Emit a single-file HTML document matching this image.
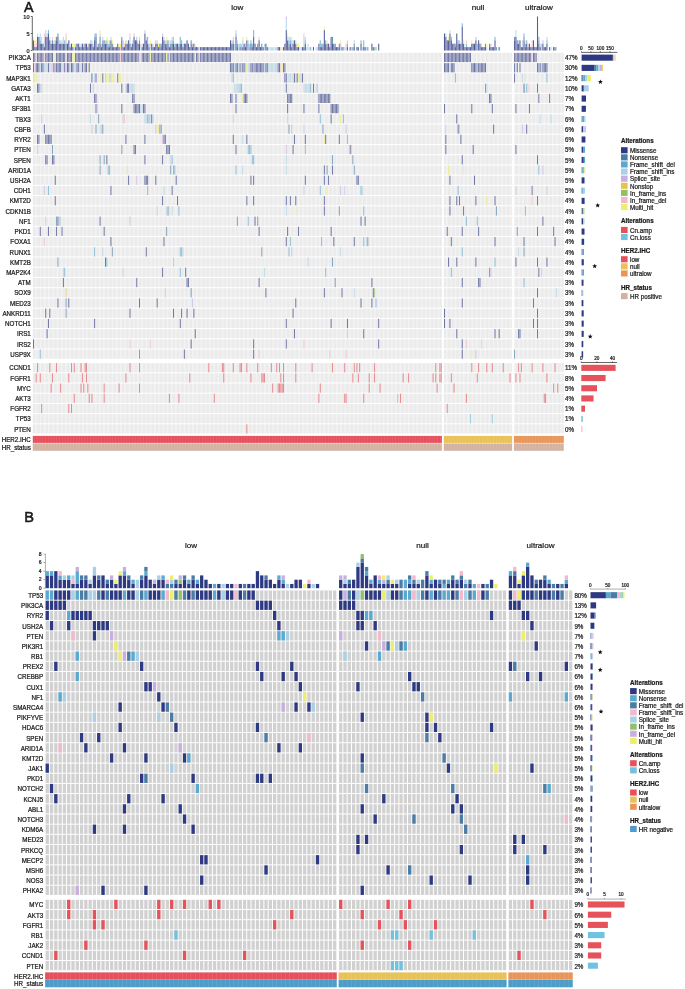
<!DOCTYPE html>
<html><head><meta charset="utf-8"><style>
html,body{margin:0;padding:0;background:#fff;overflow:hidden;}
svg{display:block;font-family:"Liberation Sans", sans-serif;will-change:transform;}
text{fill:#1a1a1a;stroke:#1a1a1a;stroke-width:0.22px;}
</style></head><body>
<svg width="685" height="989" viewBox="0 0 685 989">
<rect width="685" height="989" fill="#fff"/>
<text x="23.9" y="11.8" font-size="14.2" style="stroke-width:0.55px">A</text>
<text x="237.35" y="9.9" font-size="8.1" text-anchor="middle">low</text>
<text x="477.95" y="9.9" font-size="8.1" text-anchor="middle">null</text>
<text x="538.85" y="9.9" font-size="8.1" text-anchor="middle">ultralow</text>
<defs>
<pattern id="pa" x="1.66" y="0" width="4.234" height="20" patternUnits="userSpaceOnUse"><rect width="4.234" height="20" fill="#ebebeb"/><rect width="1.4" height="20" fill="#f3f3f3"/></pattern>
<pattern id="ps" x="0.3" y="0" width="2.8" height="20" patternUnits="userSpaceOnUse"><rect width="0.6" height="20" fill="#fff" fill-opacity="0.13"/></pattern>
</defs>
<rect x="32.8" y="52.9" width="409.1" height="9.2" fill="url(#pa)"/>
<rect x="32.8" y="63.13" width="409.1" height="9.2" fill="url(#pa)"/>
<rect x="32.8" y="73.36" width="409.1" height="9.2" fill="url(#pa)"/>
<rect x="32.8" y="83.59" width="409.1" height="9.2" fill="url(#pa)"/>
<rect x="32.8" y="93.82" width="409.1" height="9.2" fill="url(#pa)"/>
<rect x="32.8" y="104.05" width="409.1" height="9.2" fill="url(#pa)"/>
<rect x="32.8" y="114.28" width="409.1" height="9.2" fill="url(#pa)"/>
<rect x="32.8" y="124.51" width="409.1" height="9.2" fill="url(#pa)"/>
<rect x="32.8" y="134.74" width="409.1" height="9.2" fill="url(#pa)"/>
<rect x="32.8" y="144.97" width="409.1" height="9.2" fill="url(#pa)"/>
<rect x="32.8" y="155.2" width="409.1" height="9.2" fill="url(#pa)"/>
<rect x="32.8" y="165.43" width="409.1" height="9.2" fill="url(#pa)"/>
<rect x="32.8" y="175.66" width="409.1" height="9.2" fill="url(#pa)"/>
<rect x="32.8" y="185.89" width="409.1" height="9.2" fill="url(#pa)"/>
<rect x="32.8" y="196.12" width="409.1" height="9.2" fill="url(#pa)"/>
<rect x="32.8" y="206.35" width="409.1" height="9.2" fill="url(#pa)"/>
<rect x="32.8" y="216.58" width="409.1" height="9.2" fill="url(#pa)"/>
<rect x="32.8" y="226.81" width="409.1" height="9.2" fill="url(#pa)"/>
<rect x="32.8" y="237.04" width="409.1" height="9.2" fill="url(#pa)"/>
<rect x="32.8" y="247.27" width="409.1" height="9.2" fill="url(#pa)"/>
<rect x="32.8" y="257.5" width="409.1" height="9.2" fill="url(#pa)"/>
<rect x="32.8" y="267.73" width="409.1" height="9.2" fill="url(#pa)"/>
<rect x="32.8" y="277.96" width="409.1" height="9.2" fill="url(#pa)"/>
<rect x="32.8" y="288.19" width="409.1" height="9.2" fill="url(#pa)"/>
<rect x="32.8" y="298.42" width="409.1" height="9.2" fill="url(#pa)"/>
<rect x="32.8" y="308.65" width="409.1" height="9.2" fill="url(#pa)"/>
<rect x="32.8" y="318.88" width="409.1" height="9.2" fill="url(#pa)"/>
<rect x="32.8" y="329.11" width="409.1" height="9.2" fill="url(#pa)"/>
<rect x="32.8" y="339.34" width="409.1" height="9.2" fill="url(#pa)"/>
<rect x="32.8" y="349.57" width="409.1" height="9.2" fill="url(#pa)"/>
<rect x="32.8" y="363.1" width="409.1" height="9.2" fill="url(#pa)"/>
<rect x="32.8" y="373.3" width="409.1" height="9.2" fill="url(#pa)"/>
<rect x="32.8" y="383.5" width="409.1" height="9.2" fill="url(#pa)"/>
<rect x="32.8" y="393.7" width="409.1" height="9.2" fill="url(#pa)"/>
<rect x="32.8" y="403.9" width="409.1" height="9.2" fill="url(#pa)"/>
<rect x="32.8" y="414.1" width="409.1" height="9.2" fill="url(#pa)"/>
<rect x="32.8" y="424.3" width="409.1" height="9.2" fill="url(#pa)"/>
<rect x="443.8" y="52.9" width="68.3" height="9.2" fill="url(#pa)"/>
<rect x="443.8" y="63.13" width="68.3" height="9.2" fill="url(#pa)"/>
<rect x="443.8" y="73.36" width="68.3" height="9.2" fill="url(#pa)"/>
<rect x="443.8" y="83.59" width="68.3" height="9.2" fill="url(#pa)"/>
<rect x="443.8" y="93.82" width="68.3" height="9.2" fill="url(#pa)"/>
<rect x="443.8" y="104.05" width="68.3" height="9.2" fill="url(#pa)"/>
<rect x="443.8" y="114.28" width="68.3" height="9.2" fill="url(#pa)"/>
<rect x="443.8" y="124.51" width="68.3" height="9.2" fill="url(#pa)"/>
<rect x="443.8" y="134.74" width="68.3" height="9.2" fill="url(#pa)"/>
<rect x="443.8" y="144.97" width="68.3" height="9.2" fill="url(#pa)"/>
<rect x="443.8" y="155.2" width="68.3" height="9.2" fill="url(#pa)"/>
<rect x="443.8" y="165.43" width="68.3" height="9.2" fill="url(#pa)"/>
<rect x="443.8" y="175.66" width="68.3" height="9.2" fill="url(#pa)"/>
<rect x="443.8" y="185.89" width="68.3" height="9.2" fill="url(#pa)"/>
<rect x="443.8" y="196.12" width="68.3" height="9.2" fill="url(#pa)"/>
<rect x="443.8" y="206.35" width="68.3" height="9.2" fill="url(#pa)"/>
<rect x="443.8" y="216.58" width="68.3" height="9.2" fill="url(#pa)"/>
<rect x="443.8" y="226.81" width="68.3" height="9.2" fill="url(#pa)"/>
<rect x="443.8" y="237.04" width="68.3" height="9.2" fill="url(#pa)"/>
<rect x="443.8" y="247.27" width="68.3" height="9.2" fill="url(#pa)"/>
<rect x="443.8" y="257.5" width="68.3" height="9.2" fill="url(#pa)"/>
<rect x="443.8" y="267.73" width="68.3" height="9.2" fill="url(#pa)"/>
<rect x="443.8" y="277.96" width="68.3" height="9.2" fill="url(#pa)"/>
<rect x="443.8" y="288.19" width="68.3" height="9.2" fill="url(#pa)"/>
<rect x="443.8" y="298.42" width="68.3" height="9.2" fill="url(#pa)"/>
<rect x="443.8" y="308.65" width="68.3" height="9.2" fill="url(#pa)"/>
<rect x="443.8" y="318.88" width="68.3" height="9.2" fill="url(#pa)"/>
<rect x="443.8" y="329.11" width="68.3" height="9.2" fill="url(#pa)"/>
<rect x="443.8" y="339.34" width="68.3" height="9.2" fill="url(#pa)"/>
<rect x="443.8" y="349.57" width="68.3" height="9.2" fill="url(#pa)"/>
<rect x="443.8" y="363.1" width="68.3" height="9.2" fill="url(#pa)"/>
<rect x="443.8" y="373.3" width="68.3" height="9.2" fill="url(#pa)"/>
<rect x="443.8" y="383.5" width="68.3" height="9.2" fill="url(#pa)"/>
<rect x="443.8" y="393.7" width="68.3" height="9.2" fill="url(#pa)"/>
<rect x="443.8" y="403.9" width="68.3" height="9.2" fill="url(#pa)"/>
<rect x="443.8" y="414.1" width="68.3" height="9.2" fill="url(#pa)"/>
<rect x="443.8" y="424.3" width="68.3" height="9.2" fill="url(#pa)"/>
<rect x="513.9" y="52.9" width="49.9" height="9.2" fill="url(#pa)"/>
<rect x="513.9" y="63.13" width="49.9" height="9.2" fill="url(#pa)"/>
<rect x="513.9" y="73.36" width="49.9" height="9.2" fill="url(#pa)"/>
<rect x="513.9" y="83.59" width="49.9" height="9.2" fill="url(#pa)"/>
<rect x="513.9" y="93.82" width="49.9" height="9.2" fill="url(#pa)"/>
<rect x="513.9" y="104.05" width="49.9" height="9.2" fill="url(#pa)"/>
<rect x="513.9" y="114.28" width="49.9" height="9.2" fill="url(#pa)"/>
<rect x="513.9" y="124.51" width="49.9" height="9.2" fill="url(#pa)"/>
<rect x="513.9" y="134.74" width="49.9" height="9.2" fill="url(#pa)"/>
<rect x="513.9" y="144.97" width="49.9" height="9.2" fill="url(#pa)"/>
<rect x="513.9" y="155.2" width="49.9" height="9.2" fill="url(#pa)"/>
<rect x="513.9" y="165.43" width="49.9" height="9.2" fill="url(#pa)"/>
<rect x="513.9" y="175.66" width="49.9" height="9.2" fill="url(#pa)"/>
<rect x="513.9" y="185.89" width="49.9" height="9.2" fill="url(#pa)"/>
<rect x="513.9" y="196.12" width="49.9" height="9.2" fill="url(#pa)"/>
<rect x="513.9" y="206.35" width="49.9" height="9.2" fill="url(#pa)"/>
<rect x="513.9" y="216.58" width="49.9" height="9.2" fill="url(#pa)"/>
<rect x="513.9" y="226.81" width="49.9" height="9.2" fill="url(#pa)"/>
<rect x="513.9" y="237.04" width="49.9" height="9.2" fill="url(#pa)"/>
<rect x="513.9" y="247.27" width="49.9" height="9.2" fill="url(#pa)"/>
<rect x="513.9" y="257.5" width="49.9" height="9.2" fill="url(#pa)"/>
<rect x="513.9" y="267.73" width="49.9" height="9.2" fill="url(#pa)"/>
<rect x="513.9" y="277.96" width="49.9" height="9.2" fill="url(#pa)"/>
<rect x="513.9" y="288.19" width="49.9" height="9.2" fill="url(#pa)"/>
<rect x="513.9" y="298.42" width="49.9" height="9.2" fill="url(#pa)"/>
<rect x="513.9" y="308.65" width="49.9" height="9.2" fill="url(#pa)"/>
<rect x="513.9" y="318.88" width="49.9" height="9.2" fill="url(#pa)"/>
<rect x="513.9" y="329.11" width="49.9" height="9.2" fill="url(#pa)"/>
<rect x="513.9" y="339.34" width="49.9" height="9.2" fill="url(#pa)"/>
<rect x="513.9" y="349.57" width="49.9" height="9.2" fill="url(#pa)"/>
<rect x="513.9" y="363.1" width="49.9" height="9.2" fill="url(#pa)"/>
<rect x="513.9" y="373.3" width="49.9" height="9.2" fill="url(#pa)"/>
<rect x="513.9" y="383.5" width="49.9" height="9.2" fill="url(#pa)"/>
<rect x="513.9" y="393.7" width="49.9" height="9.2" fill="url(#pa)"/>
<rect x="513.9" y="403.9" width="49.9" height="9.2" fill="url(#pa)"/>
<rect x="513.9" y="414.1" width="49.9" height="9.2" fill="url(#pa)"/>
<rect x="513.9" y="424.3" width="49.9" height="9.2" fill="url(#pa)"/>
<rect x="32.8" y="435.9" width="409.1" height="7" fill="#e64f5c"/>
<rect x="32.8" y="443.4" width="409.1" height="7.4" fill="#d3b2a2"/>
<rect x="32.8" y="435.9" width="409.1" height="14.9" fill="url(#ps)"/>
<rect x="443.8" y="435.9" width="68.3" height="7" fill="#e8c256"/>
<rect x="443.8" y="443.4" width="68.3" height="7.4" fill="#d3b2a2"/>
<rect x="443.8" y="435.9" width="68.3" height="14.9" fill="url(#ps)"/>
<rect x="513.9" y="435.9" width="49.9" height="7" fill="#e9955a"/>
<rect x="513.9" y="443.4" width="49.9" height="7.4" fill="#d3b2a2"/>
<rect x="513.9" y="435.9" width="49.9" height="14.9" fill="url(#ps)"/>
<g fill-opacity="0.7">
<rect x="33.02" y="52.9" width="0.92" height="9.2" fill="#2d3982"/>
<rect x="34.38" y="52.9" width="0.92" height="9.2" fill="#2d3982"/>
<rect x="35.74" y="52.9" width="0.92" height="9.2" fill="#f3b8cb"/>
<rect x="37.1" y="52.9" width="0.92" height="9.2" fill="#2d3982"/>
<rect x="38.46" y="52.9" width="0.92" height="9.2" fill="#2d3982"/>
<rect x="39.82" y="52.9" width="0.92" height="9.2" fill="#2d3982"/>
<rect x="41.17" y="52.9" width="0.92" height="9.2" fill="#2d3982"/>
<rect x="42.53" y="52.9" width="0.92" height="9.2" fill="#2d3982"/>
<rect x="43.89" y="52.9" width="0.92" height="9.2" fill="#f3b8cb"/>
<rect x="45.25" y="52.9" width="0.92" height="9.2" fill="#2d3982"/>
<rect x="46.61" y="52.9" width="0.92" height="9.2" fill="#2d3982"/>
<rect x="47.97" y="52.9" width="0.92" height="9.2" fill="#2d3982"/>
<rect x="49.33" y="52.9" width="0.92" height="9.2" fill="#2d3982"/>
<rect x="50.69" y="52.9" width="0.92" height="9.2" fill="#2d3982"/>
<rect x="52.05" y="52.9" width="0.92" height="9.2" fill="#2d3982"/>
<rect x="53.41" y="52.9" width="0.92" height="9.2" fill="#eeee6a"/>
<rect x="54.77" y="52.9" width="0.92" height="9.2" fill="#eeee6a"/>
<rect x="56.13" y="52.9" width="0.92" height="9.2" fill="#2d3982"/>
<rect x="57.48" y="52.9" width="0.92" height="9.2" fill="#2d3982"/>
<rect x="58.84" y="52.9" width="0.92" height="9.2" fill="#2d3982"/>
<rect x="60.2" y="52.9" width="0.92" height="9.2" fill="#2d3982"/>
<rect x="61.56" y="52.9" width="0.92" height="9.2" fill="#2d3982"/>
<rect x="62.92" y="52.9" width="0.92" height="9.2" fill="#2d3982"/>
<rect x="64.28" y="52.9" width="0.92" height="9.2" fill="#2d3982"/>
<rect x="65.64" y="52.9" width="0.92" height="9.2" fill="#f3b8cb"/>
<rect x="67" y="52.9" width="0.92" height="9.2" fill="#2d3982"/>
<rect x="68.36" y="52.9" width="0.92" height="9.2" fill="#2d3982"/>
<rect x="69.72" y="52.9" width="0.92" height="9.2" fill="#2d3982"/>
<rect x="71.08" y="52.9" width="0.92" height="9.2" fill="#2d3982"/>
<rect x="72.43" y="52.9" width="0.92" height="9.2" fill="#eeee6a"/>
<rect x="73.79" y="52.9" width="0.92" height="9.2" fill="#eeee6a"/>
<rect x="75.15" y="52.9" width="0.92" height="9.2" fill="#2d3982"/>
<rect x="76.51" y="52.9" width="0.92" height="9.2" fill="#2d3982"/>
<rect x="77.87" y="52.9" width="0.92" height="9.2" fill="#2d3982"/>
<rect x="79.23" y="52.9" width="0.92" height="9.2" fill="#2d3982"/>
<rect x="80.59" y="52.9" width="0.92" height="9.2" fill="#2d3982"/>
<rect x="81.95" y="52.9" width="0.92" height="9.2" fill="#2d3982"/>
<rect x="83.31" y="52.9" width="0.92" height="9.2" fill="#2d3982"/>
<rect x="84.67" y="52.9" width="0.92" height="9.2" fill="#2d3982"/>
<rect x="86.03" y="52.9" width="0.92" height="9.2" fill="#2d3982"/>
<rect x="87.39" y="52.9" width="0.92" height="9.2" fill="#2d3982"/>
<rect x="88.74" y="52.9" width="0.92" height="9.2" fill="#2d3982"/>
<rect x="90.1" y="52.9" width="0.92" height="9.2" fill="#2d3982"/>
<rect x="91.46" y="52.9" width="0.92" height="9.2" fill="#2d3982"/>
<rect x="92.82" y="52.9" width="0.92" height="9.2" fill="#2d3982"/>
<rect x="94.18" y="52.9" width="0.92" height="9.2" fill="#2d3982"/>
<rect x="95.54" y="52.9" width="0.92" height="9.2" fill="#2d3982"/>
<rect x="96.9" y="52.9" width="0.92" height="9.2" fill="#2d3982"/>
<rect x="98.26" y="52.9" width="0.92" height="9.2" fill="#2d3982"/>
<rect x="99.62" y="52.9" width="0.92" height="9.2" fill="#2d3982"/>
<rect x="100.98" y="52.9" width="0.92" height="9.2" fill="#2d3982"/>
<rect x="102.34" y="52.9" width="0.92" height="9.2" fill="#2d3982"/>
<rect x="103.7" y="52.9" width="0.92" height="9.2" fill="#2d3982"/>
<rect x="105.05" y="52.9" width="0.92" height="9.2" fill="#2d3982"/>
<rect x="106.41" y="52.9" width="0.92" height="9.2" fill="#2d3982"/>
<rect x="107.77" y="52.9" width="0.92" height="9.2" fill="#2d3982"/>
<rect x="109.13" y="52.9" width="0.92" height="9.2" fill="#2d3982"/>
<rect x="110.49" y="52.9" width="0.92" height="9.2" fill="#2d3982"/>
<rect x="111.85" y="52.9" width="0.92" height="9.2" fill="#2d3982"/>
<rect x="113.21" y="52.9" width="0.92" height="9.2" fill="#2d3982"/>
<rect x="114.57" y="52.9" width="0.92" height="9.2" fill="#2d3982"/>
<rect x="115.93" y="52.9" width="0.92" height="9.2" fill="#2d3982"/>
<rect x="117.29" y="52.9" width="0.92" height="9.2" fill="#2d3982"/>
<rect x="118.65" y="52.9" width="0.92" height="9.2" fill="#2d3982"/>
<rect x="120" y="52.9" width="0.92" height="9.2" fill="#f3b8cb"/>
<rect x="121.36" y="52.9" width="0.92" height="9.2" fill="#2d3982"/>
<rect x="122.72" y="52.9" width="0.92" height="9.2" fill="#2d3982"/>
<rect x="124.08" y="52.9" width="0.92" height="9.2" fill="#2d3982"/>
<rect x="125.44" y="52.9" width="0.92" height="9.2" fill="#2d3982"/>
<rect x="126.8" y="52.9" width="0.92" height="9.2" fill="#2d3982"/>
<rect x="128.16" y="52.9" width="0.92" height="9.2" fill="#2d3982"/>
<rect x="129.52" y="52.9" width="0.92" height="9.2" fill="#2d3982"/>
<rect x="130.88" y="52.9" width="0.92" height="9.2" fill="#2d3982"/>
<rect x="132.24" y="52.9" width="0.92" height="9.2" fill="#2d3982"/>
<rect x="133.6" y="52.9" width="0.92" height="9.2" fill="#2d3982"/>
<rect x="134.96" y="52.9" width="0.92" height="9.2" fill="#2d3982"/>
<rect x="136.31" y="52.9" width="0.92" height="9.2" fill="#2d3982"/>
<rect x="137.67" y="52.9" width="0.92" height="9.2" fill="#2d3982"/>
<rect x="139.03" y="52.9" width="0.92" height="9.2" fill="#f3b8cb"/>
<rect x="140.39" y="52.9" width="0.92" height="9.2" fill="#f3b8cb"/>
<rect x="141.75" y="52.9" width="0.92" height="9.2" fill="#2d3982"/>
<rect x="143.11" y="52.9" width="0.92" height="9.2" fill="#2d3982"/>
<rect x="144.47" y="52.9" width="0.92" height="9.2" fill="#2d3982"/>
<rect x="145.83" y="52.9" width="0.92" height="9.2" fill="#2d3982"/>
<rect x="147.19" y="52.9" width="0.92" height="9.2" fill="#2d3982"/>
<rect x="148.55" y="52.9" width="0.92" height="9.2" fill="#2d3982"/>
<rect x="149.91" y="52.9" width="0.92" height="9.2" fill="#eeee6a"/>
<rect x="151.26" y="52.9" width="0.92" height="9.2" fill="#2d3982"/>
<rect x="152.62" y="52.9" width="0.92" height="9.2" fill="#2d3982"/>
<rect x="153.98" y="52.9" width="0.92" height="9.2" fill="#2d3982"/>
<rect x="155.34" y="52.9" width="0.92" height="9.2" fill="#2d3982"/>
<rect x="156.7" y="52.9" width="0.92" height="9.2" fill="#2d3982"/>
<rect x="158.06" y="52.9" width="0.92" height="9.2" fill="#2d3982"/>
<rect x="159.42" y="52.9" width="0.92" height="9.2" fill="#2d3982"/>
<rect x="160.78" y="52.9" width="0.92" height="9.2" fill="#2d3982"/>
<rect x="162.14" y="52.9" width="0.92" height="9.2" fill="#2d3982"/>
<rect x="163.5" y="52.9" width="0.92" height="9.2" fill="#2d3982"/>
<rect x="164.86" y="52.9" width="0.92" height="9.2" fill="#2d3982"/>
<rect x="166.22" y="52.9" width="0.92" height="9.2" fill="#eeee6a"/>
<rect x="167.57" y="52.9" width="0.92" height="9.2" fill="#2d3982"/>
<rect x="168.93" y="52.9" width="0.92" height="9.2" fill="#f3b8cb"/>
<rect x="170.29" y="52.9" width="0.92" height="9.2" fill="#2d3982"/>
<rect x="171.65" y="52.9" width="0.92" height="9.2" fill="#2d3982"/>
<rect x="173.01" y="52.9" width="0.92" height="9.2" fill="#2d3982"/>
<rect x="174.37" y="52.9" width="0.92" height="9.2" fill="#2d3982"/>
<rect x="175.73" y="52.9" width="0.92" height="9.2" fill="#2d3982"/>
<rect x="177.09" y="52.9" width="0.92" height="9.2" fill="#2d3982"/>
<rect x="178.45" y="52.9" width="0.92" height="9.2" fill="#2d3982"/>
<rect x="179.81" y="52.9" width="0.92" height="9.2" fill="#2d3982"/>
<rect x="181.17" y="52.9" width="0.92" height="9.2" fill="#2d3982"/>
<rect x="182.52" y="52.9" width="0.92" height="9.2" fill="#2d3982"/>
<rect x="183.88" y="52.9" width="0.92" height="9.2" fill="#2d3982"/>
<rect x="185.24" y="52.9" width="0.92" height="9.2" fill="#2d3982"/>
<rect x="186.6" y="52.9" width="0.92" height="9.2" fill="#2d3982"/>
<rect x="187.96" y="52.9" width="0.92" height="9.2" fill="#2d3982"/>
<rect x="189.32" y="52.9" width="0.92" height="9.2" fill="#2d3982"/>
<rect x="190.68" y="52.9" width="0.92" height="9.2" fill="#2d3982"/>
<rect x="192.04" y="52.9" width="0.92" height="9.2" fill="#2d3982"/>
<rect x="193.4" y="52.9" width="0.92" height="9.2" fill="#2d3982"/>
<rect x="194.76" y="52.9" width="0.92" height="9.2" fill="#eeee6a"/>
<rect x="196.12" y="52.9" width="0.92" height="9.2" fill="#2d3982"/>
<rect x="197.48" y="52.9" width="0.92" height="9.2" fill="#2d3982"/>
<rect x="198.83" y="52.9" width="0.92" height="9.2" fill="#f3b8cb"/>
<rect x="200.19" y="52.9" width="0.92" height="9.2" fill="#2d3982"/>
<rect x="201.55" y="52.9" width="0.92" height="9.2" fill="#2d3982"/>
<rect x="202.91" y="52.9" width="0.92" height="9.2" fill="#2d3982"/>
<rect x="204.27" y="52.9" width="0.92" height="9.2" fill="#2d3982"/>
<rect x="205.63" y="52.9" width="0.92" height="9.2" fill="#2d3982"/>
<rect x="206.99" y="52.9" width="0.92" height="9.2" fill="#2d3982"/>
<rect x="208.35" y="52.9" width="0.92" height="9.2" fill="#2d3982"/>
<rect x="209.71" y="52.9" width="0.92" height="9.2" fill="#2d3982"/>
<rect x="211.07" y="52.9" width="0.92" height="9.2" fill="#2d3982"/>
<rect x="212.43" y="52.9" width="0.92" height="9.2" fill="#2d3982"/>
<rect x="213.79" y="52.9" width="0.92" height="9.2" fill="#2d3982"/>
<rect x="215.14" y="52.9" width="0.92" height="9.2" fill="#2d3982"/>
<rect x="216.5" y="52.9" width="0.92" height="9.2" fill="#2d3982"/>
<rect x="217.86" y="52.9" width="0.92" height="9.2" fill="#2d3982"/>
<rect x="219.22" y="52.9" width="0.92" height="9.2" fill="#2d3982"/>
<rect x="220.58" y="52.9" width="0.92" height="9.2" fill="#2d3982"/>
<rect x="221.94" y="52.9" width="0.92" height="9.2" fill="#2d3982"/>
<rect x="223.3" y="52.9" width="0.92" height="9.2" fill="#2d3982"/>
<rect x="224.66" y="52.9" width="0.92" height="9.2" fill="#2d3982"/>
<rect x="226.02" y="52.9" width="0.92" height="9.2" fill="#2d3982"/>
<rect x="227.38" y="52.9" width="0.92" height="9.2" fill="#2d3982"/>
<rect x="228.74" y="52.9" width="0.92" height="9.2" fill="#2d3982"/>
<rect x="230.09" y="52.9" width="0.92" height="9.2" fill="#2d3982"/>
<rect x="444.02" y="52.9" width="0.93" height="9.2" fill="#2d3982"/>
<rect x="445.39" y="52.9" width="0.93" height="9.2" fill="#2d3982"/>
<rect x="446.75" y="52.9" width="0.93" height="9.2" fill="#2d3982"/>
<rect x="448.12" y="52.9" width="0.93" height="9.2" fill="#2d3982"/>
<rect x="449.48" y="52.9" width="0.93" height="9.2" fill="#2d3982"/>
<rect x="450.85" y="52.9" width="0.93" height="9.2" fill="#2d3982"/>
<rect x="452.22" y="52.9" width="0.93" height="9.2" fill="#2d3982"/>
<rect x="453.58" y="52.9" width="0.93" height="9.2" fill="#2d3982"/>
<rect x="454.95" y="52.9" width="0.93" height="9.2" fill="#2d3982"/>
<rect x="456.31" y="52.9" width="0.93" height="9.2" fill="#2d3982"/>
<rect x="457.68" y="52.9" width="0.93" height="9.2" fill="#2d3982"/>
<rect x="459.05" y="52.9" width="0.93" height="9.2" fill="#2d3982"/>
<rect x="460.41" y="52.9" width="0.93" height="9.2" fill="#2d3982"/>
<rect x="461.78" y="52.9" width="0.93" height="9.2" fill="#2d3982"/>
<rect x="463.14" y="52.9" width="0.93" height="9.2" fill="#2d3982"/>
<rect x="464.51" y="52.9" width="0.93" height="9.2" fill="#2d3982"/>
<rect x="465.88" y="52.9" width="0.93" height="9.2" fill="#2d3982"/>
<rect x="467.24" y="52.9" width="0.93" height="9.2" fill="#2d3982"/>
<rect x="468.61" y="52.9" width="0.93" height="9.2" fill="#2d3982"/>
<rect x="469.97" y="52.9" width="0.93" height="9.2" fill="#2d3982"/>
<rect x="514.12" y="52.9" width="0.91" height="9.2" fill="#2d3982"/>
<rect x="515.47" y="52.9" width="0.91" height="9.2" fill="#2d3982"/>
<rect x="516.82" y="52.9" width="0.91" height="9.2" fill="#2d3982"/>
<rect x="518.17" y="52.9" width="0.91" height="9.2" fill="#2d3982"/>
<rect x="519.51" y="52.9" width="0.91" height="9.2" fill="#2d3982"/>
<rect x="520.86" y="52.9" width="0.91" height="9.2" fill="#2d3982"/>
<rect x="522.21" y="52.9" width="0.91" height="9.2" fill="#2d3982"/>
<rect x="523.56" y="52.9" width="0.91" height="9.2" fill="#2d3982"/>
<rect x="524.91" y="52.9" width="0.91" height="9.2" fill="#2d3982"/>
<rect x="526.26" y="52.9" width="0.91" height="9.2" fill="#2d3982"/>
<rect x="527.61" y="52.9" width="0.91" height="9.2" fill="#2d3982"/>
<rect x="528.96" y="52.9" width="0.91" height="9.2" fill="#2d3982"/>
<rect x="530.3" y="52.9" width="0.91" height="9.2" fill="#2d3982"/>
<rect x="531.65" y="52.9" width="0.91" height="9.2" fill="#f3b8cb"/>
<rect x="533" y="52.9" width="0.91" height="9.2" fill="#2d3982"/>
<rect x="534.35" y="52.9" width="0.91" height="9.2" fill="#2d3982"/>
<rect x="535.7" y="52.9" width="0.91" height="9.2" fill="#2d3982"/>
<rect x="33.02" y="63.13" width="0.92" height="9.2" fill="#2d3982"/>
<rect x="34.38" y="63.13" width="0.92" height="9.2" fill="#f3b8cb"/>
<rect x="35.74" y="63.13" width="0.92" height="9.2" fill="#2d3982"/>
<rect x="37.1" y="63.13" width="0.92" height="9.2" fill="#2d3982"/>
<rect x="38.46" y="63.13" width="0.92" height="9.2" fill="#2d3982"/>
<rect x="39.82" y="63.13" width="0.92" height="9.2" fill="#a9d0e6"/>
<rect x="41.17" y="63.13" width="0.92" height="9.2" fill="#2d3982"/>
<rect x="42.53" y="63.13" width="0.92" height="9.2" fill="#2d3982"/>
<rect x="43.89" y="63.13" width="0.92" height="9.2" fill="#a9d0e6"/>
<rect x="45.25" y="63.13" width="0.92" height="9.2" fill="#a9d0e6"/>
<rect x="46.61" y="63.13" width="0.92" height="9.2" fill="#a9d0e6"/>
<rect x="47.97" y="63.13" width="0.92" height="9.2" fill="#2d3982"/>
<rect x="49.33" y="63.13" width="0.92" height="9.2" fill="#a9d0e6"/>
<rect x="50.69" y="63.13" width="0.92" height="9.2" fill="#a9d0e6"/>
<rect x="52.05" y="63.13" width="0.92" height="9.2" fill="#f3b8cb"/>
<rect x="53.41" y="63.13" width="0.92" height="9.2" fill="#2d3982"/>
<rect x="54.77" y="63.13" width="0.92" height="9.2" fill="#5aa9d1"/>
<rect x="56.13" y="63.13" width="0.92" height="9.2" fill="#2d3982"/>
<rect x="57.48" y="63.13" width="0.92" height="9.2" fill="#2d3982"/>
<rect x="58.84" y="63.13" width="0.92" height="9.2" fill="#2d3982"/>
<rect x="60.2" y="63.13" width="0.92" height="9.2" fill="#2d3982"/>
<rect x="61.56" y="63.13" width="0.92" height="9.2" fill="#a9d0e6"/>
<rect x="62.92" y="63.13" width="0.92" height="9.2" fill="#a9d0e6"/>
<rect x="64.28" y="63.13" width="0.92" height="9.2" fill="#2d3982"/>
<rect x="65.64" y="63.13" width="0.92" height="9.2" fill="#c9aee0"/>
<rect x="67" y="63.13" width="0.92" height="9.2" fill="#2d3982"/>
<rect x="68.36" y="63.13" width="0.92" height="9.2" fill="#2d3982"/>
<rect x="69.72" y="63.13" width="0.92" height="9.2" fill="#a9d0e6"/>
<rect x="71.08" y="63.13" width="0.92" height="9.2" fill="#2d3982"/>
<rect x="72.43" y="63.13" width="0.92" height="9.2" fill="#2d3982"/>
<rect x="73.79" y="63.13" width="0.92" height="9.2" fill="#a9d0e6"/>
<rect x="75.15" y="63.13" width="0.92" height="9.2" fill="#f3b8cb"/>
<rect x="76.51" y="63.13" width="0.92" height="9.2" fill="#2d3982"/>
<rect x="77.87" y="63.13" width="0.92" height="9.2" fill="#2d3982"/>
<rect x="79.23" y="63.13" width="0.92" height="9.2" fill="#a9d0e6"/>
<rect x="80.59" y="63.13" width="0.92" height="9.2" fill="#a9d0e6"/>
<rect x="81.95" y="63.13" width="0.92" height="9.2" fill="#2d3982"/>
<rect x="83.31" y="63.13" width="0.92" height="9.2" fill="#c9aee0"/>
<rect x="84.67" y="63.13" width="0.92" height="9.2" fill="#2d3982"/>
<rect x="86.03" y="63.13" width="0.92" height="9.2" fill="#2d3982"/>
<rect x="87.39" y="63.13" width="0.92" height="9.2" fill="#eeee6a"/>
<rect x="88.74" y="63.13" width="0.92" height="9.2" fill="#2d3982"/>
<rect x="230.09" y="63.13" width="0.92" height="9.2" fill="#2d3982"/>
<rect x="231.45" y="63.13" width="0.92" height="9.2" fill="#2d3982"/>
<rect x="232.81" y="63.13" width="0.92" height="9.2" fill="#2d3982"/>
<rect x="234.17" y="63.13" width="0.92" height="9.2" fill="#a9d0e6"/>
<rect x="235.53" y="63.13" width="0.92" height="9.2" fill="#2d3982"/>
<rect x="236.89" y="63.13" width="0.92" height="9.2" fill="#2d3982"/>
<rect x="238.25" y="63.13" width="0.92" height="9.2" fill="#a9d0e6"/>
<rect x="239.61" y="63.13" width="0.92" height="9.2" fill="#2d3982"/>
<rect x="240.97" y="63.13" width="0.92" height="9.2" fill="#c9aee0"/>
<rect x="242.33" y="63.13" width="0.92" height="9.2" fill="#2d3982"/>
<rect x="243.69" y="63.13" width="0.92" height="9.2" fill="#2d3982"/>
<rect x="245.05" y="63.13" width="0.92" height="9.2" fill="#c9aee0"/>
<rect x="246.4" y="63.13" width="0.92" height="9.2" fill="#eeee6a"/>
<rect x="247.76" y="63.13" width="0.92" height="9.2" fill="#a9d0e6"/>
<rect x="249.12" y="63.13" width="0.92" height="9.2" fill="#a9d0e6"/>
<rect x="250.48" y="63.13" width="0.92" height="9.2" fill="#2d3982"/>
<rect x="251.84" y="63.13" width="0.92" height="9.2" fill="#2d3982"/>
<rect x="253.2" y="63.13" width="0.92" height="9.2" fill="#5aa9d1"/>
<rect x="254.56" y="63.13" width="0.92" height="9.2" fill="#2d3982"/>
<rect x="255.92" y="63.13" width="0.92" height="9.2" fill="#2d3982"/>
<rect x="257.28" y="63.13" width="0.92" height="9.2" fill="#2d3982"/>
<rect x="258.64" y="63.13" width="0.92" height="9.2" fill="#2d3982"/>
<rect x="260" y="63.13" width="0.92" height="9.2" fill="#2d3982"/>
<rect x="261.35" y="63.13" width="0.92" height="9.2" fill="#2d3982"/>
<rect x="262.71" y="63.13" width="0.92" height="9.2" fill="#2d3982"/>
<rect x="264.07" y="63.13" width="0.92" height="9.2" fill="#a9d0e6"/>
<rect x="265.43" y="63.13" width="0.92" height="9.2" fill="#2d3982"/>
<rect x="266.79" y="63.13" width="0.92" height="9.2" fill="#2d3982"/>
<rect x="268.15" y="63.13" width="0.92" height="9.2" fill="#a9d0e6"/>
<rect x="269.51" y="63.13" width="0.92" height="9.2" fill="#a9d0e6"/>
<rect x="270.87" y="63.13" width="0.92" height="9.2" fill="#a9d0e6"/>
<rect x="272.23" y="63.13" width="0.92" height="9.2" fill="#a9d0e6"/>
<rect x="273.59" y="63.13" width="0.92" height="9.2" fill="#a9d0e6"/>
<rect x="274.95" y="63.13" width="0.92" height="9.2" fill="#a9d0e6"/>
<rect x="276.31" y="63.13" width="0.92" height="9.2" fill="#a9d0e6"/>
<rect x="277.66" y="63.13" width="0.92" height="9.2" fill="#2d3982"/>
<rect x="279.02" y="63.13" width="0.92" height="9.2" fill="#2d3982"/>
<rect x="280.38" y="63.13" width="0.92" height="9.2" fill="#f3b8cb"/>
<rect x="281.74" y="63.13" width="0.92" height="9.2" fill="#eeee6a"/>
<rect x="283.1" y="63.13" width="0.92" height="9.2" fill="#2d3982"/>
<rect x="284.46" y="63.13" width="0.92" height="9.2" fill="#2d3982"/>
<rect x="444.02" y="63.13" width="0.93" height="9.2" fill="#2d3982"/>
<rect x="445.39" y="63.13" width="0.93" height="9.2" fill="#2d3982"/>
<rect x="446.75" y="63.13" width="0.93" height="9.2" fill="#2d3982"/>
<rect x="448.12" y="63.13" width="0.93" height="9.2" fill="#2d3982"/>
<rect x="449.48" y="63.13" width="0.93" height="9.2" fill="#a9d0e6"/>
<rect x="450.85" y="63.13" width="0.93" height="9.2" fill="#2d3982"/>
<rect x="452.22" y="63.13" width="0.93" height="9.2" fill="#2d3982"/>
<rect x="453.58" y="63.13" width="0.93" height="9.2" fill="#2d3982"/>
<rect x="471.34" y="63.13" width="0.93" height="9.2" fill="#2d3982"/>
<rect x="472.71" y="63.13" width="0.93" height="9.2" fill="#2d3982"/>
<rect x="474.07" y="63.13" width="0.93" height="9.2" fill="#2d3982"/>
<rect x="475.44" y="63.13" width="0.93" height="9.2" fill="#2d3982"/>
<rect x="476.8" y="63.13" width="0.93" height="9.2" fill="#5aa9d1"/>
<rect x="478.17" y="63.13" width="0.93" height="9.2" fill="#2d3982"/>
<rect x="479.54" y="63.13" width="0.93" height="9.2" fill="#2d3982"/>
<rect x="480.9" y="63.13" width="0.93" height="9.2" fill="#2d3982"/>
<rect x="482.27" y="63.13" width="0.93" height="9.2" fill="#2d3982"/>
<rect x="483.63" y="63.13" width="0.93" height="9.2" fill="#2d3982"/>
<rect x="485" y="63.13" width="0.93" height="9.2" fill="#2d3982"/>
<rect x="514.12" y="63.13" width="0.91" height="9.2" fill="#2d3982"/>
<rect x="515.47" y="63.13" width="0.91" height="9.2" fill="#a9d0e6"/>
<rect x="516.82" y="63.13" width="0.91" height="9.2" fill="#2d3982"/>
<rect x="519.51" y="63.13" width="0.91" height="9.2" fill="#2d3982"/>
<rect x="537.05" y="63.13" width="0.91" height="9.2" fill="#2d3982"/>
<rect x="538.4" y="63.13" width="0.91" height="9.2" fill="#4a7ca5"/>
<rect x="539.74" y="63.13" width="0.91" height="9.2" fill="#2d3982"/>
<rect x="541.09" y="63.13" width="0.91" height="9.2" fill="#a9d0e6"/>
<rect x="542.44" y="63.13" width="0.91" height="9.2" fill="#2d3982"/>
<rect x="543.79" y="63.13" width="0.91" height="9.2" fill="#2d3982"/>
<rect x="545.14" y="63.13" width="0.91" height="9.2" fill="#2d3982"/>
<rect x="546.49" y="63.13" width="0.91" height="9.2" fill="#2d3982"/>
<rect x="33.02" y="73.36" width="0.92" height="9.2" fill="#eeee6a"/>
<rect x="34.38" y="73.36" width="0.92" height="9.2" fill="#eeee6a"/>
<rect x="35.74" y="73.36" width="0.92" height="9.2" fill="#eeee6a"/>
<rect x="91.46" y="73.36" width="0.92" height="9.2" fill="#2d3982"/>
<rect x="94.18" y="73.36" width="0.92" height="9.2" fill="#a9d0e6"/>
<rect x="95.54" y="73.36" width="0.92" height="9.2" fill="#2d3982"/>
<rect x="99.62" y="73.36" width="0.92" height="9.2" fill="#eeee6a"/>
<rect x="102.34" y="73.36" width="0.92" height="9.2" fill="#2d3982"/>
<rect x="105.05" y="73.36" width="0.92" height="9.2" fill="#a9d0e6"/>
<rect x="106.41" y="73.36" width="0.92" height="9.2" fill="#eeee6a"/>
<rect x="107.77" y="73.36" width="0.92" height="9.2" fill="#eeee6a"/>
<rect x="109.13" y="73.36" width="0.92" height="9.2" fill="#a9d0e6"/>
<rect x="110.49" y="73.36" width="0.92" height="9.2" fill="#a9d0e6"/>
<rect x="111.85" y="73.36" width="0.92" height="9.2" fill="#eeee6a"/>
<rect x="113.21" y="73.36" width="0.92" height="9.2" fill="#eeee6a"/>
<rect x="117.29" y="73.36" width="0.92" height="9.2" fill="#2d3982"/>
<rect x="118.65" y="73.36" width="0.92" height="9.2" fill="#eeee6a"/>
<rect x="120" y="73.36" width="0.92" height="9.2" fill="#eeee6a"/>
<rect x="231.45" y="73.36" width="0.92" height="9.2" fill="#a9d0e6"/>
<rect x="232.81" y="73.36" width="0.92" height="9.2" fill="#5aa9d1"/>
<rect x="284.46" y="73.36" width="0.92" height="9.2" fill="#2d3982"/>
<rect x="285.82" y="73.36" width="0.92" height="9.2" fill="#2d3982"/>
<rect x="287.18" y="73.36" width="0.92" height="9.2" fill="#eeee6a"/>
<rect x="288.54" y="73.36" width="0.92" height="9.2" fill="#a9d0e6"/>
<rect x="289.9" y="73.36" width="0.92" height="9.2" fill="#a9d0e6"/>
<rect x="291.26" y="73.36" width="0.92" height="9.2" fill="#eeee6a"/>
<rect x="292.62" y="73.36" width="0.92" height="9.2" fill="#a9d0e6"/>
<rect x="293.97" y="73.36" width="0.92" height="9.2" fill="#2d3982"/>
<rect x="295.33" y="73.36" width="0.92" height="9.2" fill="#a9d0e6"/>
<rect x="296.69" y="73.36" width="0.92" height="9.2" fill="#2d3982"/>
<rect x="298.05" y="73.36" width="0.92" height="9.2" fill="#eeee6a"/>
<rect x="299.41" y="73.36" width="0.92" height="9.2" fill="#a9d0e6"/>
<rect x="300.77" y="73.36" width="0.92" height="9.2" fill="#a9d0e6"/>
<rect x="302.13" y="73.36" width="0.92" height="9.2" fill="#2d3982"/>
<rect x="454.95" y="73.36" width="0.93" height="9.2" fill="#5aa9d1"/>
<rect x="514.12" y="73.36" width="0.91" height="9.2" fill="#2d3982"/>
<rect x="522.21" y="73.36" width="0.91" height="9.2" fill="#a9d0e6"/>
<rect x="524.91" y="73.36" width="0.91" height="9.2" fill="#eeee6a"/>
<rect x="546.49" y="73.36" width="0.91" height="9.2" fill="#5aa9d1"/>
<rect x="37.1" y="83.59" width="0.92" height="9.2" fill="#2d3982"/>
<rect x="38.46" y="83.59" width="0.92" height="9.2" fill="#2d3982"/>
<rect x="39.82" y="83.59" width="0.92" height="9.2" fill="#a9d0e6"/>
<rect x="41.17" y="83.59" width="0.92" height="9.2" fill="#a9d0e6"/>
<rect x="90.1" y="83.59" width="0.92" height="9.2" fill="#2d3982"/>
<rect x="92.82" y="83.59" width="0.92" height="9.2" fill="#a9d0e6"/>
<rect x="121.36" y="83.59" width="0.92" height="9.2" fill="#2d3982"/>
<rect x="125.44" y="83.59" width="0.92" height="9.2" fill="#a9d0e6"/>
<rect x="126.8" y="83.59" width="0.92" height="9.2" fill="#2d3982"/>
<rect x="128.16" y="83.59" width="0.92" height="9.2" fill="#2d3982"/>
<rect x="129.52" y="83.59" width="0.92" height="9.2" fill="#a9d0e6"/>
<rect x="130.88" y="83.59" width="0.92" height="9.2" fill="#a9d0e6"/>
<rect x="132.24" y="83.59" width="0.92" height="9.2" fill="#a9d0e6"/>
<rect x="133.6" y="83.59" width="0.92" height="9.2" fill="#a9d0e6"/>
<rect x="234.17" y="83.59" width="0.92" height="9.2" fill="#a9d0e6"/>
<rect x="235.53" y="83.59" width="0.92" height="9.2" fill="#a9d0e6"/>
<rect x="236.89" y="83.59" width="0.92" height="9.2" fill="#a9d0e6"/>
<rect x="238.25" y="83.59" width="0.92" height="9.2" fill="#a9d0e6"/>
<rect x="239.61" y="83.59" width="0.92" height="9.2" fill="#5aa9d1"/>
<rect x="240.97" y="83.59" width="0.92" height="9.2" fill="#5aa9d1"/>
<rect x="285.82" y="83.59" width="0.92" height="9.2" fill="#2d3982"/>
<rect x="303.49" y="83.59" width="0.92" height="9.2" fill="#a9d0e6"/>
<rect x="304.85" y="83.59" width="0.92" height="9.2" fill="#a9d0e6"/>
<rect x="306.21" y="83.59" width="0.92" height="9.2" fill="#a9d0e6"/>
<rect x="307.57" y="83.59" width="0.92" height="9.2" fill="#a9d0e6"/>
<rect x="308.92" y="83.59" width="0.92" height="9.2" fill="#a9d0e6"/>
<rect x="310.28" y="83.59" width="0.92" height="9.2" fill="#5aa9d1"/>
<rect x="313" y="83.59" width="0.92" height="9.2" fill="#2d3982"/>
<rect x="315.72" y="83.59" width="0.92" height="9.2" fill="#a9d0e6"/>
<rect x="317.08" y="83.59" width="0.92" height="9.2" fill="#a9d0e6"/>
<rect x="485" y="83.59" width="0.93" height="9.2" fill="#4a7ca5"/>
<rect x="486.37" y="83.59" width="0.93" height="9.2" fill="#a9d0e6"/>
<rect x="523.56" y="83.59" width="0.91" height="9.2" fill="#2d3982"/>
<rect x="526.26" y="83.59" width="0.91" height="9.2" fill="#5aa9d1"/>
<rect x="527.61" y="83.59" width="0.91" height="9.2" fill="#f3b8cb"/>
<rect x="537.05" y="83.59" width="0.91" height="9.2" fill="#2d3982"/>
<rect x="94.18" y="93.82" width="0.92" height="9.2" fill="#2d3982"/>
<rect x="95.54" y="93.82" width="0.92" height="9.2" fill="#2d3982"/>
<rect x="132.24" y="93.82" width="0.92" height="9.2" fill="#2d3982"/>
<rect x="133.6" y="93.82" width="0.92" height="9.2" fill="#2d3982"/>
<rect x="230.09" y="93.82" width="0.92" height="9.2" fill="#2d3982"/>
<rect x="231.45" y="93.82" width="0.92" height="9.2" fill="#2d3982"/>
<rect x="235.53" y="93.82" width="0.92" height="9.2" fill="#2d3982"/>
<rect x="242.33" y="93.82" width="0.92" height="9.2" fill="#eeee6a"/>
<rect x="243.69" y="93.82" width="0.92" height="9.2" fill="#2d3982"/>
<rect x="245.05" y="93.82" width="0.92" height="9.2" fill="#2d3982"/>
<rect x="246.4" y="93.82" width="0.92" height="9.2" fill="#2d3982"/>
<rect x="287.18" y="93.82" width="0.92" height="9.2" fill="#2d3982"/>
<rect x="288.54" y="93.82" width="0.92" height="9.2" fill="#2d3982"/>
<rect x="289.9" y="93.82" width="0.92" height="9.2" fill="#2d3982"/>
<rect x="291.26" y="93.82" width="0.92" height="9.2" fill="#2d3982"/>
<rect x="318.44" y="93.82" width="0.92" height="9.2" fill="#2d3982"/>
<rect x="319.8" y="93.82" width="0.92" height="9.2" fill="#2d3982"/>
<rect x="321.16" y="93.82" width="0.92" height="9.2" fill="#2d3982"/>
<rect x="322.52" y="93.82" width="0.92" height="9.2" fill="#2d3982"/>
<rect x="323.88" y="93.82" width="0.92" height="9.2" fill="#2d3982"/>
<rect x="325.23" y="93.82" width="0.92" height="9.2" fill="#2d3982"/>
<rect x="326.59" y="93.82" width="0.92" height="9.2" fill="#2d3982"/>
<rect x="327.95" y="93.82" width="0.92" height="9.2" fill="#2d3982"/>
<rect x="329.31" y="93.82" width="0.92" height="9.2" fill="#2d3982"/>
<rect x="489.1" y="93.82" width="0.93" height="9.2" fill="#2d3982"/>
<rect x="490.46" y="93.82" width="0.93" height="9.2" fill="#2d3982"/>
<rect x="538.4" y="93.82" width="0.91" height="9.2" fill="#2d3982"/>
<rect x="549.18" y="93.82" width="0.91" height="9.2" fill="#2d3982"/>
<rect x="95.54" y="104.05" width="0.92" height="9.2" fill="#2d3982"/>
<rect x="96.9" y="104.05" width="0.92" height="9.2" fill="#f3b8cb"/>
<rect x="121.36" y="104.05" width="0.92" height="9.2" fill="#2d3982"/>
<rect x="133.6" y="104.05" width="0.92" height="9.2" fill="#2d3982"/>
<rect x="134.96" y="104.05" width="0.92" height="9.2" fill="#2d3982"/>
<rect x="136.31" y="104.05" width="0.92" height="9.2" fill="#2d3982"/>
<rect x="137.67" y="104.05" width="0.92" height="9.2" fill="#2d3982"/>
<rect x="139.03" y="104.05" width="0.92" height="9.2" fill="#2d3982"/>
<rect x="140.39" y="104.05" width="0.92" height="9.2" fill="#a9d0e6"/>
<rect x="141.75" y="104.05" width="0.92" height="9.2" fill="#a9d0e6"/>
<rect x="143.11" y="104.05" width="0.92" height="9.2" fill="#2d3982"/>
<rect x="144.47" y="104.05" width="0.92" height="9.2" fill="#2d3982"/>
<rect x="235.53" y="104.05" width="0.92" height="9.2" fill="#2d3982"/>
<rect x="287.18" y="104.05" width="0.92" height="9.2" fill="#2d3982"/>
<rect x="303.49" y="104.05" width="0.92" height="9.2" fill="#2d3982"/>
<rect x="318.44" y="104.05" width="0.92" height="9.2" fill="#2d3982"/>
<rect x="330.67" y="104.05" width="0.92" height="9.2" fill="#2d3982"/>
<rect x="332.03" y="104.05" width="0.92" height="9.2" fill="#2d3982"/>
<rect x="333.39" y="104.05" width="0.92" height="9.2" fill="#2d3982"/>
<rect x="334.75" y="104.05" width="0.92" height="9.2" fill="#2d3982"/>
<rect x="336.11" y="104.05" width="0.92" height="9.2" fill="#2d3982"/>
<rect x="337.47" y="104.05" width="0.92" height="9.2" fill="#2d3982"/>
<rect x="444.02" y="104.05" width="0.93" height="9.2" fill="#2d3982"/>
<rect x="471.34" y="104.05" width="0.93" height="9.2" fill="#2d3982"/>
<rect x="491.83" y="104.05" width="0.93" height="9.2" fill="#2d3982"/>
<rect x="515.47" y="104.05" width="0.91" height="9.2" fill="#2d3982"/>
<rect x="528.96" y="104.05" width="0.91" height="9.2" fill="#2d3982"/>
<rect x="41.17" y="114.28" width="0.92" height="9.2" fill="#a9d0e6"/>
<rect x="90.1" y="114.28" width="0.92" height="9.2" fill="#a9d0e6"/>
<rect x="98.26" y="114.28" width="0.92" height="9.2" fill="#4a7ca5"/>
<rect x="122.72" y="114.28" width="0.92" height="9.2" fill="#a9d0e6"/>
<rect x="124.08" y="114.28" width="0.92" height="9.2" fill="#f3b8cb"/>
<rect x="144.47" y="114.28" width="0.92" height="9.2" fill="#a9d0e6"/>
<rect x="145.83" y="114.28" width="0.92" height="9.2" fill="#a9d0e6"/>
<rect x="147.19" y="114.28" width="0.92" height="9.2" fill="#5aa9d1"/>
<rect x="148.55" y="114.28" width="0.92" height="9.2" fill="#5aa9d1"/>
<rect x="149.91" y="114.28" width="0.92" height="9.2" fill="#a9d0e6"/>
<rect x="151.26" y="114.28" width="0.92" height="9.2" fill="#2d3982"/>
<rect x="152.62" y="114.28" width="0.92" height="9.2" fill="#a9d0e6"/>
<rect x="232.81" y="114.28" width="0.92" height="9.2" fill="#f3b8cb"/>
<rect x="287.18" y="114.28" width="0.92" height="9.2" fill="#a9d0e6"/>
<rect x="319.8" y="114.28" width="0.92" height="9.2" fill="#5aa9d1"/>
<rect x="330.67" y="114.28" width="0.92" height="9.2" fill="#2d3982"/>
<rect x="340.18" y="114.28" width="0.92" height="9.2" fill="#eeee6a"/>
<rect x="342.9" y="114.28" width="0.92" height="9.2" fill="#5aa9d1"/>
<rect x="456.31" y="114.28" width="0.93" height="9.2" fill="#2d3982"/>
<rect x="539.74" y="114.28" width="0.91" height="9.2" fill="#a9d0e6"/>
<rect x="550.53" y="114.28" width="0.91" height="9.2" fill="#a9d0e6"/>
<rect x="43.89" y="124.51" width="0.92" height="9.2" fill="#2d3982"/>
<rect x="91.46" y="124.51" width="0.92" height="9.2" fill="#c9aee0"/>
<rect x="95.54" y="124.51" width="0.92" height="9.2" fill="#4a7ca5"/>
<rect x="99.62" y="124.51" width="0.92" height="9.2" fill="#a9d0e6"/>
<rect x="100.98" y="124.51" width="0.92" height="9.2" fill="#a9d0e6"/>
<rect x="102.34" y="124.51" width="0.92" height="9.2" fill="#4a7ca5"/>
<rect x="155.34" y="124.51" width="0.92" height="9.2" fill="#c9aee0"/>
<rect x="158.06" y="124.51" width="0.92" height="9.2" fill="#eeee6a"/>
<rect x="159.42" y="124.51" width="0.92" height="9.2" fill="#4a7ca5"/>
<rect x="160.78" y="124.51" width="0.92" height="9.2" fill="#4a7ca5"/>
<rect x="288.54" y="124.51" width="0.92" height="9.2" fill="#4a7ca5"/>
<rect x="291.26" y="124.51" width="0.92" height="9.2" fill="#c9aee0"/>
<rect x="303.49" y="124.51" width="0.92" height="9.2" fill="#a9d0e6"/>
<rect x="322.52" y="124.51" width="0.92" height="9.2" fill="#4a7ca5"/>
<rect x="345.62" y="124.51" width="0.92" height="9.2" fill="#c9aee0"/>
<rect x="445.39" y="124.51" width="0.93" height="9.2" fill="#a9d0e6"/>
<rect x="457.68" y="124.51" width="0.93" height="9.2" fill="#2d3982"/>
<rect x="459.05" y="124.51" width="0.93" height="9.2" fill="#c9aee0"/>
<rect x="493.2" y="124.51" width="0.93" height="9.2" fill="#2d3982"/>
<rect x="522.21" y="124.51" width="0.91" height="9.2" fill="#c9aee0"/>
<rect x="526.26" y="124.51" width="0.91" height="9.2" fill="#2d3982"/>
<rect x="37.1" y="134.74" width="0.92" height="9.2" fill="#2d3982"/>
<rect x="38.46" y="134.74" width="0.92" height="9.2" fill="#2d3982"/>
<rect x="45.25" y="134.74" width="0.92" height="9.2" fill="#2d3982"/>
<rect x="46.61" y="134.74" width="0.92" height="9.2" fill="#2d3982"/>
<rect x="47.97" y="134.74" width="0.92" height="9.2" fill="#2d3982"/>
<rect x="49.33" y="134.74" width="0.92" height="9.2" fill="#2d3982"/>
<rect x="50.69" y="134.74" width="0.92" height="9.2" fill="#2d3982"/>
<rect x="125.44" y="134.74" width="0.92" height="9.2" fill="#2d3982"/>
<rect x="144.47" y="134.74" width="0.92" height="9.2" fill="#2d3982"/>
<rect x="162.14" y="134.74" width="0.92" height="9.2" fill="#c9aee0"/>
<rect x="163.5" y="134.74" width="0.92" height="9.2" fill="#2d3982"/>
<rect x="164.86" y="134.74" width="0.92" height="9.2" fill="#2d3982"/>
<rect x="232.81" y="134.74" width="0.92" height="9.2" fill="#2d3982"/>
<rect x="242.33" y="134.74" width="0.92" height="9.2" fill="#a9d0e6"/>
<rect x="246.4" y="134.74" width="0.92" height="9.2" fill="#2d3982"/>
<rect x="293.97" y="134.74" width="0.92" height="9.2" fill="#2d3982"/>
<rect x="304.85" y="134.74" width="0.92" height="9.2" fill="#2d3982"/>
<rect x="323.88" y="134.74" width="0.92" height="9.2" fill="#eeee6a"/>
<rect x="325.23" y="134.74" width="0.92" height="9.2" fill="#2d3982"/>
<rect x="338.83" y="134.74" width="0.92" height="9.2" fill="#2d3982"/>
<rect x="346.98" y="134.74" width="0.92" height="9.2" fill="#5aa9d1"/>
<rect x="445.39" y="134.74" width="0.93" height="9.2" fill="#2d3982"/>
<rect x="460.41" y="134.74" width="0.93" height="9.2" fill="#2d3982"/>
<rect x="37.1" y="144.97" width="0.92" height="9.2" fill="#a9d0e6"/>
<rect x="52.05" y="144.97" width="0.92" height="9.2" fill="#4a7ca5"/>
<rect x="121.36" y="144.97" width="0.92" height="9.2" fill="#4a7ca5"/>
<rect x="133.6" y="144.97" width="0.92" height="9.2" fill="#2d3982"/>
<rect x="134.96" y="144.97" width="0.92" height="9.2" fill="#2d3982"/>
<rect x="166.22" y="144.97" width="0.92" height="9.2" fill="#2d3982"/>
<rect x="167.57" y="144.97" width="0.92" height="9.2" fill="#2d3982"/>
<rect x="168.93" y="144.97" width="0.92" height="9.2" fill="#2d3982"/>
<rect x="235.53" y="144.97" width="0.92" height="9.2" fill="#2d3982"/>
<rect x="247.76" y="144.97" width="0.92" height="9.2" fill="#5aa9d1"/>
<rect x="249.12" y="144.97" width="0.92" height="9.2" fill="#5aa9d1"/>
<rect x="250.48" y="144.97" width="0.92" height="9.2" fill="#5aa9d1"/>
<rect x="285.82" y="144.97" width="0.92" height="9.2" fill="#c9aee0"/>
<rect x="292.62" y="144.97" width="0.92" height="9.2" fill="#2d3982"/>
<rect x="304.85" y="144.97" width="0.92" height="9.2" fill="#5aa9d1"/>
<rect x="349.7" y="144.97" width="0.92" height="9.2" fill="#2d3982"/>
<rect x="351.06" y="144.97" width="0.92" height="9.2" fill="#a9d0e6"/>
<rect x="445.39" y="144.97" width="0.93" height="9.2" fill="#2d3982"/>
<rect x="472.71" y="144.97" width="0.93" height="9.2" fill="#2d3982"/>
<rect x="515.47" y="144.97" width="0.91" height="9.2" fill="#2d3982"/>
<rect x="45.25" y="155.2" width="0.92" height="9.2" fill="#2d3982"/>
<rect x="46.61" y="155.2" width="0.92" height="9.2" fill="#2d3982"/>
<rect x="52.05" y="155.2" width="0.92" height="9.2" fill="#2d3982"/>
<rect x="53.41" y="155.2" width="0.92" height="9.2" fill="#2d3982"/>
<rect x="99.62" y="155.2" width="0.92" height="9.2" fill="#4a7ca5"/>
<rect x="103.7" y="155.2" width="0.92" height="9.2" fill="#4a7ca5"/>
<rect x="106.41" y="155.2" width="0.92" height="9.2" fill="#2d3982"/>
<rect x="144.47" y="155.2" width="0.92" height="9.2" fill="#2d3982"/>
<rect x="162.14" y="155.2" width="0.92" height="9.2" fill="#2d3982"/>
<rect x="170.29" y="155.2" width="0.92" height="9.2" fill="#a9d0e6"/>
<rect x="171.65" y="155.2" width="0.92" height="9.2" fill="#5aa9d1"/>
<rect x="251.84" y="155.2" width="0.92" height="9.2" fill="#5aa9d1"/>
<rect x="253.2" y="155.2" width="0.92" height="9.2" fill="#5aa9d1"/>
<rect x="285.82" y="155.2" width="0.92" height="9.2" fill="#a9d0e6"/>
<rect x="332.03" y="155.2" width="0.92" height="9.2" fill="#4a7ca5"/>
<rect x="352.42" y="155.2" width="0.92" height="9.2" fill="#4a7ca5"/>
<rect x="461.78" y="155.2" width="0.93" height="9.2" fill="#2d3982"/>
<rect x="537.05" y="155.2" width="0.91" height="9.2" fill="#2d3982"/>
<rect x="99.62" y="165.43" width="0.92" height="9.2" fill="#4a7ca5"/>
<rect x="107.77" y="165.43" width="0.92" height="9.2" fill="#5aa9d1"/>
<rect x="109.13" y="165.43" width="0.92" height="9.2" fill="#5aa9d1"/>
<rect x="126.8" y="165.43" width="0.92" height="9.2" fill="#eeee6a"/>
<rect x="170.29" y="165.43" width="0.92" height="9.2" fill="#4a7ca5"/>
<rect x="173.01" y="165.43" width="0.92" height="9.2" fill="#5aa9d1"/>
<rect x="174.37" y="165.43" width="0.92" height="9.2" fill="#5aa9d1"/>
<rect x="235.53" y="165.43" width="0.92" height="9.2" fill="#5aa9d1"/>
<rect x="242.33" y="165.43" width="0.92" height="9.2" fill="#a9d0e6"/>
<rect x="285.82" y="165.43" width="0.92" height="9.2" fill="#a9d0e6"/>
<rect x="323.88" y="165.43" width="0.92" height="9.2" fill="#2d3982"/>
<rect x="326.59" y="165.43" width="0.92" height="9.2" fill="#4a7ca5"/>
<rect x="332.03" y="165.43" width="0.92" height="9.2" fill="#2d3982"/>
<rect x="353.78" y="165.43" width="0.92" height="9.2" fill="#4a7ca5"/>
<rect x="448.12" y="165.43" width="0.93" height="9.2" fill="#eeee6a"/>
<rect x="463.14" y="165.43" width="0.93" height="9.2" fill="#eeee6a"/>
<rect x="538.4" y="165.43" width="0.91" height="9.2" fill="#5aa9d1"/>
<rect x="542.44" y="165.43" width="0.91" height="9.2" fill="#c9aee0"/>
<rect x="54.77" y="175.66" width="0.92" height="9.2" fill="#2d3982"/>
<rect x="128.16" y="175.66" width="0.92" height="9.2" fill="#2d3982"/>
<rect x="136.31" y="175.66" width="0.92" height="9.2" fill="#c9aee0"/>
<rect x="144.47" y="175.66" width="0.92" height="9.2" fill="#2d3982"/>
<rect x="145.83" y="175.66" width="0.92" height="9.2" fill="#2d3982"/>
<rect x="147.19" y="175.66" width="0.92" height="9.2" fill="#2d3982"/>
<rect x="155.34" y="175.66" width="0.92" height="9.2" fill="#2d3982"/>
<rect x="175.73" y="175.66" width="0.92" height="9.2" fill="#2d3982"/>
<rect x="250.48" y="175.66" width="0.92" height="9.2" fill="#2d3982"/>
<rect x="253.2" y="175.66" width="0.92" height="9.2" fill="#2d3982"/>
<rect x="304.85" y="175.66" width="0.92" height="9.2" fill="#2d3982"/>
<rect x="323.88" y="175.66" width="0.92" height="9.2" fill="#2d3982"/>
<rect x="327.95" y="175.66" width="0.92" height="9.2" fill="#2d3982"/>
<rect x="356.49" y="175.66" width="0.92" height="9.2" fill="#2d3982"/>
<rect x="357.85" y="175.66" width="0.92" height="9.2" fill="#2d3982"/>
<rect x="449.48" y="175.66" width="0.93" height="9.2" fill="#2d3982"/>
<rect x="474.07" y="175.66" width="0.93" height="9.2" fill="#2d3982"/>
<rect x="43.89" y="185.89" width="0.92" height="9.2" fill="#c9aee0"/>
<rect x="47.97" y="185.89" width="0.92" height="9.2" fill="#5aa9d1"/>
<rect x="110.49" y="185.89" width="0.92" height="9.2" fill="#2d3982"/>
<rect x="147.19" y="185.89" width="0.92" height="9.2" fill="#5aa9d1"/>
<rect x="163.5" y="185.89" width="0.92" height="9.2" fill="#a9d0e6"/>
<rect x="171.65" y="185.89" width="0.92" height="9.2" fill="#2d3982"/>
<rect x="303.49" y="185.89" width="0.92" height="9.2" fill="#a9d0e6"/>
<rect x="319.8" y="185.89" width="0.92" height="9.2" fill="#5aa9d1"/>
<rect x="326.59" y="185.89" width="0.92" height="9.2" fill="#eeee6a"/>
<rect x="340.18" y="185.89" width="0.92" height="9.2" fill="#c9aee0"/>
<rect x="344.26" y="185.89" width="0.92" height="9.2" fill="#a9d0e6"/>
<rect x="360.57" y="185.89" width="0.92" height="9.2" fill="#5aa9d1"/>
<rect x="361.93" y="185.89" width="0.92" height="9.2" fill="#a9d0e6"/>
<rect x="457.68" y="185.89" width="0.93" height="9.2" fill="#5aa9d1"/>
<rect x="515.47" y="185.89" width="0.91" height="9.2" fill="#a9d0e6"/>
<rect x="531.65" y="185.89" width="0.91" height="9.2" fill="#2d3982"/>
<rect x="546.49" y="185.89" width="0.91" height="9.2" fill="#a9d0e6"/>
<rect x="54.77" y="196.12" width="0.92" height="9.2" fill="#2d3982"/>
<rect x="162.14" y="196.12" width="0.92" height="9.2" fill="#2d3982"/>
<rect x="177.09" y="196.12" width="0.92" height="9.2" fill="#2d3982"/>
<rect x="246.4" y="196.12" width="0.92" height="9.2" fill="#2d3982"/>
<rect x="253.2" y="196.12" width="0.92" height="9.2" fill="#2d3982"/>
<rect x="285.82" y="196.12" width="0.92" height="9.2" fill="#2d3982"/>
<rect x="289.9" y="196.12" width="0.92" height="9.2" fill="#2d3982"/>
<rect x="295.33" y="196.12" width="0.92" height="9.2" fill="#2d3982"/>
<rect x="323.88" y="196.12" width="0.92" height="9.2" fill="#2d3982"/>
<rect x="449.48" y="196.12" width="0.93" height="9.2" fill="#2d3982"/>
<rect x="456.31" y="196.12" width="0.93" height="9.2" fill="#2d3982"/>
<rect x="459.05" y="196.12" width="0.93" height="9.2" fill="#2d3982"/>
<rect x="475.44" y="196.12" width="0.93" height="9.2" fill="#2d3982"/>
<rect x="486.37" y="196.12" width="0.93" height="9.2" fill="#eeee6a"/>
<rect x="494.56" y="196.12" width="0.93" height="9.2" fill="#2d3982"/>
<rect x="531.65" y="196.12" width="0.91" height="9.2" fill="#f3b8cb"/>
<rect x="537.05" y="196.12" width="0.91" height="9.2" fill="#2d3982"/>
<rect x="156.7" y="206.35" width="0.92" height="9.2" fill="#a9d0e6"/>
<rect x="166.22" y="206.35" width="0.92" height="9.2" fill="#a9d0e6"/>
<rect x="167.57" y="206.35" width="0.92" height="9.2" fill="#4a7ca5"/>
<rect x="168.93" y="206.35" width="0.92" height="9.2" fill="#eeee6a"/>
<rect x="171.65" y="206.35" width="0.92" height="9.2" fill="#a9d0e6"/>
<rect x="178.45" y="206.35" width="0.92" height="9.2" fill="#5aa9d1"/>
<rect x="285.82" y="206.35" width="0.92" height="9.2" fill="#a9d0e6"/>
<rect x="296.69" y="206.35" width="0.92" height="9.2" fill="#eeee6a"/>
<rect x="323.88" y="206.35" width="0.92" height="9.2" fill="#2d3982"/>
<rect x="338.83" y="206.35" width="0.92" height="9.2" fill="#4a7ca5"/>
<rect x="363.29" y="206.35" width="0.92" height="9.2" fill="#5aa9d1"/>
<rect x="449.48" y="206.35" width="0.93" height="9.2" fill="#2d3982"/>
<rect x="463.14" y="206.35" width="0.93" height="9.2" fill="#2d3982"/>
<rect x="495.93" y="206.35" width="0.93" height="9.2" fill="#4a7ca5"/>
<rect x="524.91" y="206.35" width="0.91" height="9.2" fill="#5aa9d1"/>
<rect x="45.25" y="216.58" width="0.92" height="9.2" fill="#a9d0e6"/>
<rect x="56.13" y="216.58" width="0.92" height="9.2" fill="#4a7ca5"/>
<rect x="57.48" y="216.58" width="0.92" height="9.2" fill="#2d3982"/>
<rect x="58.84" y="216.58" width="0.92" height="9.2" fill="#c9aee0"/>
<rect x="60.2" y="216.58" width="0.92" height="9.2" fill="#a9d0e6"/>
<rect x="99.62" y="216.58" width="0.92" height="9.2" fill="#2d3982"/>
<rect x="129.52" y="216.58" width="0.92" height="9.2" fill="#c9aee0"/>
<rect x="236.89" y="216.58" width="0.92" height="9.2" fill="#4a7ca5"/>
<rect x="247.76" y="216.58" width="0.92" height="9.2" fill="#5aa9d1"/>
<rect x="254.56" y="216.58" width="0.92" height="9.2" fill="#2d3982"/>
<rect x="257.28" y="216.58" width="0.92" height="9.2" fill="#4a7ca5"/>
<rect x="360.57" y="216.58" width="0.92" height="9.2" fill="#2d3982"/>
<rect x="364.65" y="216.58" width="0.92" height="9.2" fill="#2d3982"/>
<rect x="465.88" y="216.58" width="0.93" height="9.2" fill="#5aa9d1"/>
<rect x="476.8" y="216.58" width="0.93" height="9.2" fill="#5aa9d1"/>
<rect x="542.44" y="216.58" width="0.91" height="9.2" fill="#2d3982"/>
<rect x="39.82" y="226.81" width="0.92" height="9.2" fill="#2d3982"/>
<rect x="47.97" y="226.81" width="0.92" height="9.2" fill="#2d3982"/>
<rect x="56.13" y="226.81" width="0.92" height="9.2" fill="#2d3982"/>
<rect x="61.56" y="226.81" width="0.92" height="9.2" fill="#2d3982"/>
<rect x="103.7" y="226.81" width="0.92" height="9.2" fill="#2d3982"/>
<rect x="166.22" y="226.81" width="0.92" height="9.2" fill="#4a7ca5"/>
<rect x="258.64" y="226.81" width="0.92" height="9.2" fill="#2d3982"/>
<rect x="287.18" y="226.81" width="0.92" height="9.2" fill="#2d3982"/>
<rect x="298.05" y="226.81" width="0.92" height="9.2" fill="#2d3982"/>
<rect x="330.67" y="226.81" width="0.92" height="9.2" fill="#2d3982"/>
<rect x="446.75" y="226.81" width="0.93" height="9.2" fill="#2d3982"/>
<rect x="461.78" y="226.81" width="0.93" height="9.2" fill="#2d3982"/>
<rect x="478.17" y="226.81" width="0.93" height="9.2" fill="#2d3982"/>
<rect x="516.82" y="226.81" width="0.91" height="9.2" fill="#4a7ca5"/>
<rect x="537.05" y="226.81" width="0.91" height="9.2" fill="#2d3982"/>
<rect x="553.23" y="226.81" width="0.91" height="9.2" fill="#2d3982"/>
<rect x="43.89" y="237.04" width="0.92" height="9.2" fill="#f3b8cb"/>
<rect x="110.49" y="237.04" width="0.92" height="9.2" fill="#2d3982"/>
<rect x="163.5" y="237.04" width="0.92" height="9.2" fill="#2d3982"/>
<rect x="285.82" y="237.04" width="0.92" height="9.2" fill="#2d3982"/>
<rect x="289.9" y="237.04" width="0.92" height="9.2" fill="#5aa9d1"/>
<rect x="321.16" y="237.04" width="0.92" height="9.2" fill="#5aa9d1"/>
<rect x="333.39" y="237.04" width="0.92" height="9.2" fill="#2d3982"/>
<rect x="353.78" y="237.04" width="0.92" height="9.2" fill="#2d3982"/>
<rect x="363.29" y="237.04" width="0.92" height="9.2" fill="#5aa9d1"/>
<rect x="366.01" y="237.04" width="0.92" height="9.2" fill="#a9d0e6"/>
<rect x="367.37" y="237.04" width="0.92" height="9.2" fill="#4a7ca5"/>
<rect x="450.85" y="237.04" width="0.93" height="9.2" fill="#2d3982"/>
<rect x="494.56" y="237.04" width="0.93" height="9.2" fill="#2d3982"/>
<rect x="523.56" y="237.04" width="0.91" height="9.2" fill="#2d3982"/>
<rect x="554.58" y="237.04" width="0.91" height="9.2" fill="#2d3982"/>
<rect x="94.18" y="247.27" width="0.92" height="9.2" fill="#5aa9d1"/>
<rect x="102.34" y="247.27" width="0.92" height="9.2" fill="#a9d0e6"/>
<rect x="111.85" y="247.27" width="0.92" height="9.2" fill="#4a7ca5"/>
<rect x="145.83" y="247.27" width="0.92" height="9.2" fill="#2d3982"/>
<rect x="179.81" y="247.27" width="0.92" height="9.2" fill="#5aa9d1"/>
<rect x="181.17" y="247.27" width="0.92" height="9.2" fill="#5aa9d1"/>
<rect x="182.52" y="247.27" width="0.92" height="9.2" fill="#a9d0e6"/>
<rect x="261.35" y="247.27" width="0.92" height="9.2" fill="#4a7ca5"/>
<rect x="288.54" y="247.27" width="0.92" height="9.2" fill="#5aa9d1"/>
<rect x="291.26" y="247.27" width="0.92" height="9.2" fill="#c9aee0"/>
<rect x="340.18" y="247.27" width="0.92" height="9.2" fill="#a9d0e6"/>
<rect x="461.78" y="247.27" width="0.93" height="9.2" fill="#5aa9d1"/>
<rect x="518.17" y="247.27" width="0.91" height="9.2" fill="#a9d0e6"/>
<rect x="523.56" y="247.27" width="0.91" height="9.2" fill="#4a7ca5"/>
<rect x="57.48" y="257.5" width="0.92" height="9.2" fill="#4a7ca5"/>
<rect x="105.05" y="257.5" width="0.92" height="9.2" fill="#2d3982"/>
<rect x="106.41" y="257.5" width="0.92" height="9.2" fill="#5aa9d1"/>
<rect x="173.01" y="257.5" width="0.92" height="9.2" fill="#c9aee0"/>
<rect x="307.57" y="257.5" width="0.92" height="9.2" fill="#a9d0e6"/>
<rect x="332.03" y="257.5" width="0.92" height="9.2" fill="#4a7ca5"/>
<rect x="448.12" y="257.5" width="0.93" height="9.2" fill="#2d3982"/>
<rect x="456.31" y="257.5" width="0.93" height="9.2" fill="#2d3982"/>
<rect x="475.44" y="257.5" width="0.93" height="9.2" fill="#2d3982"/>
<rect x="494.56" y="257.5" width="0.93" height="9.2" fill="#5aa9d1"/>
<rect x="515.47" y="257.5" width="0.91" height="9.2" fill="#2d3982"/>
<rect x="537.05" y="257.5" width="0.91" height="9.2" fill="#2d3982"/>
<rect x="546.49" y="257.5" width="0.91" height="9.2" fill="#2d3982"/>
<rect x="62.92" y="267.73" width="0.92" height="9.2" fill="#a9d0e6"/>
<rect x="64.28" y="267.73" width="0.92" height="9.2" fill="#5aa9d1"/>
<rect x="122.72" y="267.73" width="0.92" height="9.2" fill="#a9d0e6"/>
<rect x="162.14" y="267.73" width="0.92" height="9.2" fill="#2d3982"/>
<rect x="179.81" y="267.73" width="0.92" height="9.2" fill="#5aa9d1"/>
<rect x="185.24" y="267.73" width="0.92" height="9.2" fill="#2d3982"/>
<rect x="264.07" y="267.73" width="0.92" height="9.2" fill="#a9d0e6"/>
<rect x="325.23" y="267.73" width="0.92" height="9.2" fill="#5aa9d1"/>
<rect x="450.85" y="267.73" width="0.93" height="9.2" fill="#5aa9d1"/>
<rect x="489.1" y="267.73" width="0.93" height="9.2" fill="#4a7ca5"/>
<rect x="490.46" y="267.73" width="0.93" height="9.2" fill="#c9aee0"/>
<rect x="538.4" y="267.73" width="0.91" height="9.2" fill="#2d3982"/>
<rect x="541.09" y="267.73" width="0.91" height="9.2" fill="#a9d0e6"/>
<rect x="62.92" y="277.96" width="0.92" height="9.2" fill="#2d3982"/>
<rect x="136.31" y="277.96" width="0.92" height="9.2" fill="#2d3982"/>
<rect x="186.6" y="277.96" width="0.92" height="9.2" fill="#2d3982"/>
<rect x="187.96" y="277.96" width="0.92" height="9.2" fill="#2d3982"/>
<rect x="258.64" y="277.96" width="0.92" height="9.2" fill="#2d3982"/>
<rect x="334.75" y="277.96" width="0.92" height="9.2" fill="#4a7ca5"/>
<rect x="371.44" y="277.96" width="0.92" height="9.2" fill="#2d3982"/>
<rect x="461.78" y="277.96" width="0.93" height="9.2" fill="#2d3982"/>
<rect x="478.17" y="277.96" width="0.93" height="9.2" fill="#2d3982"/>
<rect x="479.54" y="277.96" width="0.93" height="9.2" fill="#2d3982"/>
<rect x="523.56" y="277.96" width="0.91" height="9.2" fill="#5aa9d1"/>
<rect x="65.64" y="288.19" width="0.92" height="9.2" fill="#e3c44e"/>
<rect x="164.86" y="288.19" width="0.92" height="9.2" fill="#a9d0e6"/>
<rect x="190.68" y="288.19" width="0.92" height="9.2" fill="#4a7ca5"/>
<rect x="265.43" y="288.19" width="0.92" height="9.2" fill="#2d3982"/>
<rect x="323.88" y="288.19" width="0.92" height="9.2" fill="#2d3982"/>
<rect x="341.54" y="288.19" width="0.92" height="9.2" fill="#2d3982"/>
<rect x="353.78" y="288.19" width="0.92" height="9.2" fill="#a9d0e6"/>
<rect x="372.8" y="288.19" width="0.92" height="9.2" fill="#2d3982"/>
<rect x="374.16" y="288.19" width="0.92" height="9.2" fill="#93bf69"/>
<rect x="537.05" y="288.19" width="0.91" height="9.2" fill="#2d3982"/>
<rect x="555.93" y="288.19" width="0.91" height="9.2" fill="#a9d0e6"/>
<rect x="57.48" y="298.42" width="0.92" height="9.2" fill="#2d3982"/>
<rect x="65.64" y="298.42" width="0.92" height="9.2" fill="#4a7ca5"/>
<rect x="68.36" y="298.42" width="0.92" height="9.2" fill="#2d3982"/>
<rect x="139.03" y="298.42" width="0.92" height="9.2" fill="#2d3982"/>
<rect x="156.7" y="298.42" width="0.92" height="9.2" fill="#2d3982"/>
<rect x="192.04" y="298.42" width="0.92" height="9.2" fill="#c9aee0"/>
<rect x="295.33" y="298.42" width="0.92" height="9.2" fill="#2d3982"/>
<rect x="360.57" y="298.42" width="0.92" height="9.2" fill="#2d3982"/>
<rect x="371.44" y="298.42" width="0.92" height="9.2" fill="#2d3982"/>
<rect x="375.52" y="298.42" width="0.92" height="9.2" fill="#5aa9d1"/>
<rect x="461.78" y="298.42" width="0.93" height="9.2" fill="#2d3982"/>
<rect x="533" y="298.42" width="0.91" height="9.2" fill="#2d3982"/>
<rect x="45.25" y="308.65" width="0.92" height="9.2" fill="#2d3982"/>
<rect x="49.33" y="308.65" width="0.92" height="9.2" fill="#2d3982"/>
<rect x="65.64" y="308.65" width="0.92" height="9.2" fill="#4a7ca5"/>
<rect x="129.52" y="308.65" width="0.92" height="9.2" fill="#2d3982"/>
<rect x="173.01" y="308.65" width="0.92" height="9.2" fill="#2d3982"/>
<rect x="181.17" y="308.65" width="0.92" height="9.2" fill="#2d3982"/>
<rect x="186.6" y="308.65" width="0.92" height="9.2" fill="#2d3982"/>
<rect x="193.4" y="308.65" width="0.92" height="9.2" fill="#2d3982"/>
<rect x="292.62" y="308.65" width="0.92" height="9.2" fill="#2d3982"/>
<rect x="444.02" y="308.65" width="0.93" height="9.2" fill="#2d3982"/>
<rect x="537.05" y="308.65" width="0.91" height="9.2" fill="#2d3982"/>
<rect x="47.97" y="318.88" width="0.92" height="9.2" fill="#2d3982"/>
<rect x="94.18" y="318.88" width="0.92" height="9.2" fill="#2d3982"/>
<rect x="179.81" y="318.88" width="0.92" height="9.2" fill="#2d3982"/>
<rect x="285.82" y="318.88" width="0.92" height="9.2" fill="#2d3982"/>
<rect x="330.67" y="318.88" width="0.92" height="9.2" fill="#2d3982"/>
<rect x="346.98" y="318.88" width="0.92" height="9.2" fill="#2d3982"/>
<rect x="378.24" y="318.88" width="0.92" height="9.2" fill="#2d3982"/>
<rect x="444.02" y="318.88" width="0.93" height="9.2" fill="#2d3982"/>
<rect x="449.48" y="318.88" width="0.93" height="9.2" fill="#2d3982"/>
<rect x="533" y="318.88" width="0.91" height="9.2" fill="#2d3982"/>
<rect x="537.05" y="318.88" width="0.91" height="9.2" fill="#2d3982"/>
<rect x="46.61" y="329.11" width="0.92" height="9.2" fill="#2d3982"/>
<rect x="194.76" y="329.11" width="0.92" height="9.2" fill="#2d3982"/>
<rect x="293.97" y="329.11" width="0.92" height="9.2" fill="#2d3982"/>
<rect x="346.98" y="329.11" width="0.92" height="9.2" fill="#a9d0e6"/>
<rect x="363.29" y="329.11" width="0.92" height="9.2" fill="#2d3982"/>
<rect x="456.31" y="329.11" width="0.93" height="9.2" fill="#2d3982"/>
<rect x="494.56" y="329.11" width="0.93" height="9.2" fill="#2d3982"/>
<rect x="498.66" y="329.11" width="0.93" height="9.2" fill="#2d3982"/>
<rect x="518.17" y="329.11" width="0.91" height="9.2" fill="#2d3982"/>
<rect x="519.51" y="329.11" width="0.91" height="9.2" fill="#2d3982"/>
<rect x="537.05" y="329.11" width="0.91" height="9.2" fill="#2d3982"/>
<rect x="33.02" y="339.34" width="0.92" height="9.2" fill="#2d3982"/>
<rect x="129.52" y="339.34" width="0.92" height="9.2" fill="#f3b8cb"/>
<rect x="149.91" y="339.34" width="0.92" height="9.2" fill="#f3b8cb"/>
<rect x="190.68" y="339.34" width="0.92" height="9.2" fill="#2d3982"/>
<rect x="253.2" y="339.34" width="0.92" height="9.2" fill="#2d3982"/>
<rect x="285.82" y="339.34" width="0.92" height="9.2" fill="#2d3982"/>
<rect x="303.49" y="339.34" width="0.92" height="9.2" fill="#f3b8cb"/>
<rect x="378.24" y="339.34" width="0.92" height="9.2" fill="#2d3982"/>
<rect x="461.78" y="339.34" width="0.93" height="9.2" fill="#2d3982"/>
<rect x="465.88" y="339.34" width="0.93" height="9.2" fill="#f3b8cb"/>
<rect x="480.9" y="339.34" width="0.93" height="9.2" fill="#f3b8cb"/>
<rect x="39.82" y="349.57" width="0.92" height="9.2" fill="#5aa9d1"/>
<rect x="139.03" y="349.57" width="0.92" height="9.2" fill="#4a7ca5"/>
<rect x="183.88" y="349.57" width="0.92" height="9.2" fill="#2d3982"/>
<rect x="253.2" y="349.57" width="0.92" height="9.2" fill="#2d3982"/>
<rect x="258.64" y="349.57" width="0.92" height="9.2" fill="#f3b8cb"/>
<rect x="329.31" y="349.57" width="0.92" height="9.2" fill="#f3b8cb"/>
<rect x="345.62" y="349.57" width="0.92" height="9.2" fill="#f3b8cb"/>
<rect x="461.78" y="349.57" width="0.93" height="9.2" fill="#2d3982"/>
<rect x="471.34" y="349.57" width="0.93" height="9.2" fill="#eeee6a"/>
<rect x="475.44" y="349.57" width="0.93" height="9.2" fill="#c9aee0"/>
<rect x="514.12" y="349.57" width="0.91" height="9.2" fill="#4a7ca5"/>
<rect x="37.1" y="363.1" width="0.92" height="9.2" fill="#e5525a"/>
<rect x="49.33" y="363.1" width="0.92" height="9.2" fill="#e5525a"/>
<rect x="56.13" y="363.1" width="0.92" height="9.2" fill="#e5525a"/>
<rect x="71.08" y="363.1" width="0.92" height="9.2" fill="#e5525a"/>
<rect x="73.79" y="363.1" width="0.92" height="9.2" fill="#e5525a"/>
<rect x="80.59" y="363.1" width="0.92" height="9.2" fill="#e5525a"/>
<rect x="84.67" y="363.1" width="0.92" height="9.2" fill="#e5525a"/>
<rect x="86.03" y="363.1" width="0.92" height="9.2" fill="#e5525a"/>
<rect x="129.52" y="363.1" width="0.92" height="9.2" fill="#e5525a"/>
<rect x="139.03" y="363.1" width="0.92" height="9.2" fill="#e5525a"/>
<rect x="208.35" y="363.1" width="0.92" height="9.2" fill="#e5525a"/>
<rect x="221.94" y="363.1" width="0.92" height="9.2" fill="#e5525a"/>
<rect x="223.3" y="363.1" width="0.92" height="9.2" fill="#e5525a"/>
<rect x="232.81" y="363.1" width="0.92" height="9.2" fill="#e5525a"/>
<rect x="239.61" y="363.1" width="0.92" height="9.2" fill="#e5525a"/>
<rect x="240.97" y="363.1" width="0.92" height="9.2" fill="#e5525a"/>
<rect x="246.4" y="363.1" width="0.92" height="9.2" fill="#e5525a"/>
<rect x="257.28" y="363.1" width="0.92" height="9.2" fill="#e5525a"/>
<rect x="270.87" y="363.1" width="0.92" height="9.2" fill="#e5525a"/>
<rect x="276.31" y="363.1" width="0.92" height="9.2" fill="#e5525a"/>
<rect x="279.02" y="363.1" width="0.92" height="9.2" fill="#e5525a"/>
<rect x="283.1" y="363.1" width="0.92" height="9.2" fill="#e5525a"/>
<rect x="295.33" y="363.1" width="0.92" height="9.2" fill="#e5525a"/>
<rect x="311.64" y="363.1" width="0.92" height="9.2" fill="#e5525a"/>
<rect x="332.03" y="363.1" width="0.92" height="9.2" fill="#e5525a"/>
<rect x="344.26" y="363.1" width="0.92" height="9.2" fill="#e5525a"/>
<rect x="353.78" y="363.1" width="0.92" height="9.2" fill="#e5525a"/>
<rect x="356.49" y="363.1" width="0.92" height="9.2" fill="#e5525a"/>
<rect x="359.21" y="363.1" width="0.92" height="9.2" fill="#e5525a"/>
<rect x="374.16" y="363.1" width="0.92" height="9.2" fill="#e5525a"/>
<rect x="435.32" y="363.1" width="0.92" height="9.2" fill="#e5525a"/>
<rect x="439.4" y="363.1" width="0.92" height="9.2" fill="#e5525a"/>
<rect x="440.76" y="363.1" width="0.92" height="9.2" fill="#e5525a"/>
<rect x="471.34" y="363.1" width="0.93" height="9.2" fill="#e5525a"/>
<rect x="478.17" y="363.1" width="0.93" height="9.2" fill="#e5525a"/>
<rect x="486.37" y="363.1" width="0.93" height="9.2" fill="#e5525a"/>
<rect x="491.83" y="363.1" width="0.93" height="9.2" fill="#e5525a"/>
<rect x="502.76" y="363.1" width="0.93" height="9.2" fill="#e5525a"/>
<rect x="518.17" y="363.1" width="0.91" height="9.2" fill="#e5525a"/>
<rect x="520.86" y="363.1" width="0.91" height="9.2" fill="#e5525a"/>
<rect x="531.65" y="363.1" width="0.91" height="9.2" fill="#e5525a"/>
<rect x="542.44" y="363.1" width="0.91" height="9.2" fill="#e5525a"/>
<rect x="554.58" y="363.1" width="0.91" height="9.2" fill="#e5525a"/>
<rect x="35.74" y="373.3" width="0.92" height="9.2" fill="#e5525a"/>
<rect x="39.82" y="373.3" width="0.92" height="9.2" fill="#e5525a"/>
<rect x="52.05" y="373.3" width="0.92" height="9.2" fill="#e5525a"/>
<rect x="68.36" y="373.3" width="0.92" height="9.2" fill="#e5525a"/>
<rect x="81.95" y="373.3" width="0.92" height="9.2" fill="#e5525a"/>
<rect x="86.03" y="373.3" width="0.92" height="9.2" fill="#e5525a"/>
<rect x="125.44" y="373.3" width="0.92" height="9.2" fill="#e5525a"/>
<rect x="189.32" y="373.3" width="0.92" height="9.2" fill="#e5525a"/>
<rect x="223.3" y="373.3" width="0.92" height="9.2" fill="#e5525a"/>
<rect x="250.48" y="373.3" width="0.92" height="9.2" fill="#e5525a"/>
<rect x="261.35" y="373.3" width="0.92" height="9.2" fill="#e5525a"/>
<rect x="262.71" y="373.3" width="0.92" height="9.2" fill="#e5525a"/>
<rect x="264.07" y="373.3" width="0.92" height="9.2" fill="#e5525a"/>
<rect x="280.38" y="373.3" width="0.92" height="9.2" fill="#e5525a"/>
<rect x="283.1" y="373.3" width="0.92" height="9.2" fill="#e5525a"/>
<rect x="295.33" y="373.3" width="0.92" height="9.2" fill="#e5525a"/>
<rect x="352.42" y="373.3" width="0.92" height="9.2" fill="#e5525a"/>
<rect x="357.85" y="373.3" width="0.92" height="9.2" fill="#e5525a"/>
<rect x="368.73" y="373.3" width="0.92" height="9.2" fill="#e5525a"/>
<rect x="374.16" y="373.3" width="0.92" height="9.2" fill="#e5525a"/>
<rect x="402.71" y="373.3" width="0.92" height="9.2" fill="#e5525a"/>
<rect x="408.14" y="373.3" width="0.92" height="9.2" fill="#e5525a"/>
<rect x="432.61" y="373.3" width="0.92" height="9.2" fill="#e5525a"/>
<rect x="435.32" y="373.3" width="0.92" height="9.2" fill="#e5525a"/>
<rect x="439.4" y="373.3" width="0.92" height="9.2" fill="#e5525a"/>
<rect x="440.76" y="373.3" width="0.92" height="9.2" fill="#e5525a"/>
<rect x="450.85" y="373.3" width="0.93" height="9.2" fill="#e5525a"/>
<rect x="476.8" y="373.3" width="0.93" height="9.2" fill="#e5525a"/>
<rect x="509.59" y="373.3" width="0.93" height="9.2" fill="#e5525a"/>
<rect x="515.47" y="373.3" width="0.91" height="9.2" fill="#e5525a"/>
<rect x="519.51" y="373.3" width="0.91" height="9.2" fill="#e5525a"/>
<rect x="546.49" y="373.3" width="0.91" height="9.2" fill="#e5525a"/>
<rect x="50.69" y="383.5" width="0.92" height="9.2" fill="#e5525a"/>
<rect x="60.2" y="383.5" width="0.92" height="9.2" fill="#e5525a"/>
<rect x="80.59" y="383.5" width="0.92" height="9.2" fill="#e5525a"/>
<rect x="83.31" y="383.5" width="0.92" height="9.2" fill="#e5525a"/>
<rect x="87.39" y="383.5" width="0.92" height="9.2" fill="#e5525a"/>
<rect x="103.7" y="383.5" width="0.92" height="9.2" fill="#e5525a"/>
<rect x="118.65" y="383.5" width="0.92" height="9.2" fill="#e5525a"/>
<rect x="139.03" y="383.5" width="0.92" height="9.2" fill="#e5525a"/>
<rect x="272.23" y="383.5" width="0.92" height="9.2" fill="#e5525a"/>
<rect x="277.66" y="383.5" width="0.92" height="9.2" fill="#e5525a"/>
<rect x="279.02" y="383.5" width="0.92" height="9.2" fill="#e5525a"/>
<rect x="280.38" y="383.5" width="0.92" height="9.2" fill="#e5525a"/>
<rect x="281.74" y="383.5" width="0.92" height="9.2" fill="#e5525a"/>
<rect x="283.1" y="383.5" width="0.92" height="9.2" fill="#e5525a"/>
<rect x="319.8" y="383.5" width="0.92" height="9.2" fill="#e5525a"/>
<rect x="368.73" y="383.5" width="0.92" height="9.2" fill="#e5525a"/>
<rect x="379.6" y="383.5" width="0.92" height="9.2" fill="#e5525a"/>
<rect x="436.68" y="383.5" width="0.92" height="9.2" fill="#e5525a"/>
<rect x="453.58" y="383.5" width="0.93" height="9.2" fill="#e5525a"/>
<rect x="553.23" y="383.5" width="0.91" height="9.2" fill="#e5525a"/>
<rect x="557.28" y="383.5" width="0.91" height="9.2" fill="#e5525a"/>
<rect x="73.79" y="393.7" width="0.92" height="9.2" fill="#e5525a"/>
<rect x="88.74" y="393.7" width="0.92" height="9.2" fill="#e5525a"/>
<rect x="91.46" y="393.7" width="0.92" height="9.2" fill="#e5525a"/>
<rect x="103.7" y="393.7" width="0.92" height="9.2" fill="#e5525a"/>
<rect x="168.93" y="393.7" width="0.92" height="9.2" fill="#e5525a"/>
<rect x="178.45" y="393.7" width="0.92" height="9.2" fill="#e5525a"/>
<rect x="213.79" y="393.7" width="0.92" height="9.2" fill="#e5525a"/>
<rect x="318.44" y="393.7" width="0.92" height="9.2" fill="#e5525a"/>
<rect x="344.26" y="393.7" width="0.92" height="9.2" fill="#e5525a"/>
<rect x="345.62" y="393.7" width="0.92" height="9.2" fill="#e5525a"/>
<rect x="363.29" y="393.7" width="0.92" height="9.2" fill="#e5525a"/>
<rect x="397.27" y="393.7" width="0.92" height="9.2" fill="#70c2de"/>
<rect x="399.99" y="393.7" width="0.92" height="9.2" fill="#e5525a"/>
<rect x="465.88" y="393.7" width="0.93" height="9.2" fill="#e5525a"/>
<rect x="543.79" y="393.7" width="0.91" height="9.2" fill="#e5525a"/>
<rect x="545.14" y="393.7" width="0.91" height="9.2" fill="#e5525a"/>
<rect x="41.17" y="403.9" width="0.92" height="9.2" fill="#e5525a"/>
<rect x="68.36" y="403.9" width="0.92" height="9.2" fill="#e5525a"/>
<rect x="71.08" y="403.9" width="0.92" height="9.2" fill="#e5525a"/>
<rect x="446.75" y="403.9" width="0.93" height="9.2" fill="#e5525a"/>
<rect x="469.97" y="414.1" width="0.93" height="9.2" fill="#70c2de"/>
<rect x="491.83" y="414.1" width="0.93" height="9.2" fill="#70c2de"/>
<rect x="246.4" y="424.3" width="0.92" height="9.2" fill="#e5525a"/>
</g>
<g fill-opacity="0.82">
<rect x="32.95" y="40.3" width="1.06" height="10.2" fill="#2d3982"/>
<rect x="32.95" y="36.9" width="1.06" height="3.4" fill="#eeee6a"/>
<rect x="34.31" y="47.1" width="1.06" height="3.4" fill="#2d3982"/>
<rect x="34.31" y="43.7" width="1.06" height="3.4" fill="#f3b8cb"/>
<rect x="34.31" y="40.3" width="1.06" height="3.4" fill="#eeee6a"/>
<rect x="35.67" y="47.1" width="1.06" height="3.4" fill="#2d3982"/>
<rect x="35.67" y="43.7" width="1.06" height="3.4" fill="#f3b8cb"/>
<rect x="35.67" y="40.3" width="1.06" height="3.4" fill="#eeee6a"/>
<rect x="37.03" y="36.9" width="1.06" height="13.6" fill="#2d3982"/>
<rect x="37.03" y="33.5" width="1.06" height="3.4" fill="#a9d0e6"/>
<rect x="38.39" y="36.9" width="1.06" height="13.6" fill="#2d3982"/>
<rect x="39.75" y="43.7" width="1.06" height="6.8" fill="#2d3982"/>
<rect x="39.75" y="40.3" width="1.06" height="3.4" fill="#5aa9d1"/>
<rect x="39.75" y="33.5" width="1.06" height="6.8" fill="#a9d0e6"/>
<rect x="41.1" y="43.7" width="1.06" height="6.8" fill="#2d3982"/>
<rect x="41.1" y="36.9" width="1.06" height="6.8" fill="#a9d0e6"/>
<rect x="42.46" y="43.7" width="1.06" height="6.8" fill="#2d3982"/>
<rect x="43.82" y="47.1" width="1.06" height="3.4" fill="#2d3982"/>
<rect x="43.82" y="43.7" width="1.06" height="3.4" fill="#a9d0e6"/>
<rect x="43.82" y="40.3" width="1.06" height="3.4" fill="#c9aee0"/>
<rect x="43.82" y="33.5" width="1.06" height="6.8" fill="#f3b8cb"/>
<rect x="45.18" y="36.9" width="1.06" height="13.6" fill="#2d3982"/>
<rect x="45.18" y="30.1" width="1.06" height="6.8" fill="#a9d0e6"/>
<rect x="46.54" y="36.9" width="1.06" height="13.6" fill="#2d3982"/>
<rect x="46.54" y="33.5" width="1.06" height="3.4" fill="#a9d0e6"/>
<rect x="47.9" y="33.5" width="1.06" height="17" fill="#2d3982"/>
<rect x="47.9" y="30.1" width="1.06" height="3.4" fill="#5aa9d1"/>
<rect x="49.26" y="40.3" width="1.06" height="10.2" fill="#2d3982"/>
<rect x="49.26" y="36.9" width="1.06" height="3.4" fill="#a9d0e6"/>
<rect x="50.62" y="43.7" width="1.06" height="6.8" fill="#2d3982"/>
<rect x="50.62" y="40.3" width="1.06" height="3.4" fill="#a9d0e6"/>
<rect x="51.98" y="43.7" width="1.06" height="6.8" fill="#2d3982"/>
<rect x="51.98" y="40.3" width="1.06" height="3.4" fill="#4a7ca5"/>
<rect x="51.98" y="36.9" width="1.06" height="3.4" fill="#f3b8cb"/>
<rect x="53.34" y="43.7" width="1.06" height="6.8" fill="#2d3982"/>
<rect x="53.34" y="40.3" width="1.06" height="3.4" fill="#eeee6a"/>
<rect x="54.7" y="43.7" width="1.06" height="6.8" fill="#2d3982"/>
<rect x="54.7" y="40.3" width="1.06" height="3.4" fill="#5aa9d1"/>
<rect x="54.7" y="36.9" width="1.06" height="3.4" fill="#eeee6a"/>
<rect x="56.06" y="40.3" width="1.06" height="10.2" fill="#2d3982"/>
<rect x="56.06" y="36.9" width="1.06" height="3.4" fill="#4a7ca5"/>
<rect x="57.41" y="36.9" width="1.06" height="13.6" fill="#2d3982"/>
<rect x="57.41" y="33.5" width="1.06" height="3.4" fill="#4a7ca5"/>
<rect x="58.77" y="43.7" width="1.06" height="6.8" fill="#2d3982"/>
<rect x="58.77" y="40.3" width="1.06" height="3.4" fill="#c9aee0"/>
<rect x="60.13" y="43.7" width="1.06" height="6.8" fill="#2d3982"/>
<rect x="60.13" y="40.3" width="1.06" height="3.4" fill="#a9d0e6"/>
<rect x="61.49" y="43.7" width="1.06" height="6.8" fill="#2d3982"/>
<rect x="61.49" y="40.3" width="1.06" height="3.4" fill="#a9d0e6"/>
<rect x="62.85" y="43.7" width="1.06" height="6.8" fill="#2d3982"/>
<rect x="62.85" y="36.9" width="1.06" height="6.8" fill="#a9d0e6"/>
<rect x="64.21" y="43.7" width="1.06" height="6.8" fill="#2d3982"/>
<rect x="64.21" y="40.3" width="1.06" height="3.4" fill="#5aa9d1"/>
<rect x="65.57" y="43.7" width="1.06" height="6.8" fill="#4a7ca5"/>
<rect x="65.57" y="40.3" width="1.06" height="3.4" fill="#c9aee0"/>
<rect x="65.57" y="36.9" width="1.06" height="3.4" fill="#e3c44e"/>
<rect x="65.57" y="33.5" width="1.06" height="3.4" fill="#f3b8cb"/>
<rect x="66.93" y="43.7" width="1.06" height="6.8" fill="#2d3982"/>
<rect x="68.29" y="40.3" width="1.06" height="10.2" fill="#2d3982"/>
<rect x="69.65" y="47.1" width="1.06" height="3.4" fill="#2d3982"/>
<rect x="69.65" y="43.7" width="1.06" height="3.4" fill="#a9d0e6"/>
<rect x="71.01" y="43.7" width="1.06" height="6.8" fill="#2d3982"/>
<rect x="72.36" y="47.1" width="1.06" height="3.4" fill="#2d3982"/>
<rect x="72.36" y="43.7" width="1.06" height="3.4" fill="#eeee6a"/>
<rect x="73.72" y="47.1" width="1.06" height="3.4" fill="#a9d0e6"/>
<rect x="73.72" y="43.7" width="1.06" height="3.4" fill="#eeee6a"/>
<rect x="75.08" y="47.1" width="1.06" height="3.4" fill="#2d3982"/>
<rect x="75.08" y="43.7" width="1.06" height="3.4" fill="#f3b8cb"/>
<rect x="76.44" y="43.7" width="1.06" height="6.8" fill="#2d3982"/>
<rect x="77.8" y="43.7" width="1.06" height="6.8" fill="#2d3982"/>
<rect x="79.16" y="47.1" width="1.06" height="3.4" fill="#2d3982"/>
<rect x="79.16" y="43.7" width="1.06" height="3.4" fill="#a9d0e6"/>
<rect x="80.52" y="47.1" width="1.06" height="3.4" fill="#2d3982"/>
<rect x="80.52" y="43.7" width="1.06" height="3.4" fill="#a9d0e6"/>
<rect x="81.88" y="43.7" width="1.06" height="6.8" fill="#2d3982"/>
<rect x="83.24" y="47.1" width="1.06" height="3.4" fill="#2d3982"/>
<rect x="83.24" y="43.7" width="1.06" height="3.4" fill="#c9aee0"/>
<rect x="84.6" y="43.7" width="1.06" height="6.8" fill="#2d3982"/>
<rect x="85.96" y="43.7" width="1.06" height="6.8" fill="#2d3982"/>
<rect x="87.32" y="47.1" width="1.06" height="3.4" fill="#2d3982"/>
<rect x="87.32" y="43.7" width="1.06" height="3.4" fill="#eeee6a"/>
<rect x="88.67" y="43.7" width="1.06" height="6.8" fill="#2d3982"/>
<rect x="90.03" y="43.7" width="1.06" height="6.8" fill="#2d3982"/>
<rect x="90.03" y="40.3" width="1.06" height="3.4" fill="#a9d0e6"/>
<rect x="91.39" y="43.7" width="1.06" height="6.8" fill="#2d3982"/>
<rect x="91.39" y="40.3" width="1.06" height="3.4" fill="#c9aee0"/>
<rect x="92.75" y="47.1" width="1.06" height="3.4" fill="#2d3982"/>
<rect x="92.75" y="43.7" width="1.06" height="3.4" fill="#a9d0e6"/>
<rect x="94.11" y="40.3" width="1.06" height="10.2" fill="#2d3982"/>
<rect x="94.11" y="36.9" width="1.06" height="3.4" fill="#5aa9d1"/>
<rect x="94.11" y="33.5" width="1.06" height="3.4" fill="#a9d0e6"/>
<rect x="95.47" y="36.9" width="1.06" height="13.6" fill="#2d3982"/>
<rect x="95.47" y="33.5" width="1.06" height="3.4" fill="#4a7ca5"/>
<rect x="96.83" y="47.1" width="1.06" height="3.4" fill="#2d3982"/>
<rect x="96.83" y="43.7" width="1.06" height="3.4" fill="#f3b8cb"/>
<rect x="98.19" y="47.1" width="1.06" height="3.4" fill="#2d3982"/>
<rect x="98.19" y="43.7" width="1.06" height="3.4" fill="#4a7ca5"/>
<rect x="99.55" y="43.7" width="1.06" height="6.8" fill="#2d3982"/>
<rect x="99.55" y="36.9" width="1.06" height="6.8" fill="#4a7ca5"/>
<rect x="99.55" y="33.5" width="1.06" height="3.4" fill="#a9d0e6"/>
<rect x="99.55" y="30.1" width="1.06" height="3.4" fill="#eeee6a"/>
<rect x="100.91" y="47.1" width="1.06" height="3.4" fill="#2d3982"/>
<rect x="100.91" y="43.7" width="1.06" height="3.4" fill="#a9d0e6"/>
<rect x="102.27" y="43.7" width="1.06" height="6.8" fill="#2d3982"/>
<rect x="102.27" y="40.3" width="1.06" height="3.4" fill="#4a7ca5"/>
<rect x="102.27" y="36.9" width="1.06" height="3.4" fill="#a9d0e6"/>
<rect x="103.63" y="43.7" width="1.06" height="6.8" fill="#2d3982"/>
<rect x="103.63" y="40.3" width="1.06" height="3.4" fill="#4a7ca5"/>
<rect x="104.98" y="43.7" width="1.06" height="6.8" fill="#2d3982"/>
<rect x="104.98" y="40.3" width="1.06" height="3.4" fill="#a9d0e6"/>
<rect x="106.34" y="43.7" width="1.06" height="6.8" fill="#2d3982"/>
<rect x="106.34" y="40.3" width="1.06" height="3.4" fill="#5aa9d1"/>
<rect x="106.34" y="36.9" width="1.06" height="3.4" fill="#eeee6a"/>
<rect x="107.7" y="47.1" width="1.06" height="3.4" fill="#2d3982"/>
<rect x="107.7" y="43.7" width="1.06" height="3.4" fill="#5aa9d1"/>
<rect x="107.7" y="40.3" width="1.06" height="3.4" fill="#eeee6a"/>
<rect x="109.06" y="47.1" width="1.06" height="3.4" fill="#2d3982"/>
<rect x="109.06" y="43.7" width="1.06" height="3.4" fill="#5aa9d1"/>
<rect x="109.06" y="40.3" width="1.06" height="3.4" fill="#a9d0e6"/>
<rect x="110.42" y="40.3" width="1.06" height="10.2" fill="#2d3982"/>
<rect x="110.42" y="36.9" width="1.06" height="3.4" fill="#a9d0e6"/>
<rect x="111.78" y="47.1" width="1.06" height="3.4" fill="#2d3982"/>
<rect x="111.78" y="43.7" width="1.06" height="3.4" fill="#4a7ca5"/>
<rect x="111.78" y="40.3" width="1.06" height="3.4" fill="#eeee6a"/>
<rect x="113.14" y="47.1" width="1.06" height="3.4" fill="#2d3982"/>
<rect x="113.14" y="43.7" width="1.06" height="3.4" fill="#eeee6a"/>
<rect x="114.5" y="47.1" width="1.06" height="3.4" fill="#2d3982"/>
<rect x="115.86" y="47.1" width="1.06" height="3.4" fill="#2d3982"/>
<rect x="117.22" y="43.7" width="1.06" height="6.8" fill="#2d3982"/>
<rect x="118.58" y="47.1" width="1.06" height="3.4" fill="#2d3982"/>
<rect x="118.58" y="43.7" width="1.06" height="3.4" fill="#eeee6a"/>
<rect x="119.93" y="47.1" width="1.06" height="3.4" fill="#f3b8cb"/>
<rect x="119.93" y="43.7" width="1.06" height="3.4" fill="#eeee6a"/>
<rect x="121.29" y="40.3" width="1.06" height="10.2" fill="#2d3982"/>
<rect x="121.29" y="36.9" width="1.06" height="3.4" fill="#4a7ca5"/>
<rect x="122.65" y="47.1" width="1.06" height="3.4" fill="#2d3982"/>
<rect x="122.65" y="40.3" width="1.06" height="6.8" fill="#a9d0e6"/>
<rect x="124.01" y="47.1" width="1.06" height="3.4" fill="#2d3982"/>
<rect x="124.01" y="43.7" width="1.06" height="3.4" fill="#f3b8cb"/>
<rect x="125.37" y="43.7" width="1.06" height="6.8" fill="#2d3982"/>
<rect x="125.37" y="40.3" width="1.06" height="3.4" fill="#a9d0e6"/>
<rect x="126.73" y="43.7" width="1.06" height="6.8" fill="#2d3982"/>
<rect x="126.73" y="40.3" width="1.06" height="3.4" fill="#eeee6a"/>
<rect x="128.09" y="40.3" width="1.06" height="10.2" fill="#2d3982"/>
<rect x="129.45" y="43.7" width="1.06" height="6.8" fill="#2d3982"/>
<rect x="129.45" y="40.3" width="1.06" height="3.4" fill="#a9d0e6"/>
<rect x="129.45" y="36.9" width="1.06" height="3.4" fill="#c9aee0"/>
<rect x="129.45" y="33.5" width="1.06" height="3.4" fill="#f3b8cb"/>
<rect x="130.81" y="47.1" width="1.06" height="3.4" fill="#2d3982"/>
<rect x="130.81" y="43.7" width="1.06" height="3.4" fill="#a9d0e6"/>
<rect x="132.17" y="43.7" width="1.06" height="6.8" fill="#2d3982"/>
<rect x="132.17" y="40.3" width="1.06" height="3.4" fill="#a9d0e6"/>
<rect x="133.53" y="36.9" width="1.06" height="13.6" fill="#2d3982"/>
<rect x="133.53" y="33.5" width="1.06" height="3.4" fill="#a9d0e6"/>
<rect x="134.89" y="40.3" width="1.06" height="10.2" fill="#2d3982"/>
<rect x="136.24" y="40.3" width="1.06" height="10.2" fill="#2d3982"/>
<rect x="136.24" y="36.9" width="1.06" height="3.4" fill="#c9aee0"/>
<rect x="137.6" y="43.7" width="1.06" height="6.8" fill="#2d3982"/>
<rect x="138.96" y="43.7" width="1.06" height="6.8" fill="#2d3982"/>
<rect x="138.96" y="40.3" width="1.06" height="3.4" fill="#4a7ca5"/>
<rect x="138.96" y="36.9" width="1.06" height="3.4" fill="#f3b8cb"/>
<rect x="140.32" y="47.1" width="1.06" height="3.4" fill="#a9d0e6"/>
<rect x="140.32" y="43.7" width="1.06" height="3.4" fill="#f3b8cb"/>
<rect x="141.68" y="47.1" width="1.06" height="3.4" fill="#2d3982"/>
<rect x="141.68" y="43.7" width="1.06" height="3.4" fill="#a9d0e6"/>
<rect x="143.04" y="43.7" width="1.06" height="6.8" fill="#2d3982"/>
<rect x="144.4" y="33.5" width="1.06" height="17" fill="#2d3982"/>
<rect x="144.4" y="30.1" width="1.06" height="3.4" fill="#a9d0e6"/>
<rect x="145.76" y="40.3" width="1.06" height="10.2" fill="#2d3982"/>
<rect x="145.76" y="36.9" width="1.06" height="3.4" fill="#a9d0e6"/>
<rect x="147.12" y="43.7" width="1.06" height="6.8" fill="#2d3982"/>
<rect x="147.12" y="36.9" width="1.06" height="6.8" fill="#5aa9d1"/>
<rect x="148.48" y="47.1" width="1.06" height="3.4" fill="#2d3982"/>
<rect x="148.48" y="43.7" width="1.06" height="3.4" fill="#5aa9d1"/>
<rect x="149.84" y="47.1" width="1.06" height="3.4" fill="#a9d0e6"/>
<rect x="149.84" y="43.7" width="1.06" height="3.4" fill="#f3b8cb"/>
<rect x="149.84" y="40.3" width="1.06" height="3.4" fill="#eeee6a"/>
<rect x="151.19" y="43.7" width="1.06" height="6.8" fill="#2d3982"/>
<rect x="152.55" y="47.1" width="1.06" height="3.4" fill="#2d3982"/>
<rect x="152.55" y="43.7" width="1.06" height="3.4" fill="#a9d0e6"/>
<rect x="153.91" y="47.1" width="1.06" height="3.4" fill="#2d3982"/>
<rect x="155.27" y="43.7" width="1.06" height="6.8" fill="#2d3982"/>
<rect x="155.27" y="40.3" width="1.06" height="3.4" fill="#c9aee0"/>
<rect x="156.63" y="43.7" width="1.06" height="6.8" fill="#2d3982"/>
<rect x="156.63" y="40.3" width="1.06" height="3.4" fill="#a9d0e6"/>
<rect x="157.99" y="47.1" width="1.06" height="3.4" fill="#2d3982"/>
<rect x="157.99" y="43.7" width="1.06" height="3.4" fill="#eeee6a"/>
<rect x="159.35" y="47.1" width="1.06" height="3.4" fill="#2d3982"/>
<rect x="159.35" y="43.7" width="1.06" height="3.4" fill="#4a7ca5"/>
<rect x="160.71" y="47.1" width="1.06" height="3.4" fill="#2d3982"/>
<rect x="160.71" y="43.7" width="1.06" height="3.4" fill="#4a7ca5"/>
<rect x="162.07" y="36.9" width="1.06" height="13.6" fill="#2d3982"/>
<rect x="162.07" y="33.5" width="1.06" height="3.4" fill="#c9aee0"/>
<rect x="163.43" y="40.3" width="1.06" height="10.2" fill="#2d3982"/>
<rect x="163.43" y="36.9" width="1.06" height="3.4" fill="#a9d0e6"/>
<rect x="164.79" y="43.7" width="1.06" height="6.8" fill="#2d3982"/>
<rect x="164.79" y="40.3" width="1.06" height="3.4" fill="#a9d0e6"/>
<rect x="166.15" y="47.1" width="1.06" height="3.4" fill="#2d3982"/>
<rect x="166.15" y="43.7" width="1.06" height="3.4" fill="#4a7ca5"/>
<rect x="166.15" y="40.3" width="1.06" height="3.4" fill="#a9d0e6"/>
<rect x="166.15" y="36.9" width="1.06" height="3.4" fill="#eeee6a"/>
<rect x="167.5" y="43.7" width="1.06" height="6.8" fill="#2d3982"/>
<rect x="167.5" y="40.3" width="1.06" height="3.4" fill="#4a7ca5"/>
<rect x="168.86" y="47.1" width="1.06" height="3.4" fill="#2d3982"/>
<rect x="168.86" y="43.7" width="1.06" height="3.4" fill="#f3b8cb"/>
<rect x="168.86" y="40.3" width="1.06" height="3.4" fill="#eeee6a"/>
<rect x="170.22" y="47.1" width="1.06" height="3.4" fill="#2d3982"/>
<rect x="170.22" y="43.7" width="1.06" height="3.4" fill="#4a7ca5"/>
<rect x="170.22" y="40.3" width="1.06" height="3.4" fill="#a9d0e6"/>
<rect x="171.58" y="43.7" width="1.06" height="6.8" fill="#2d3982"/>
<rect x="171.58" y="40.3" width="1.06" height="3.4" fill="#5aa9d1"/>
<rect x="171.58" y="36.9" width="1.06" height="3.4" fill="#a9d0e6"/>
<rect x="172.94" y="43.7" width="1.06" height="6.8" fill="#2d3982"/>
<rect x="172.94" y="40.3" width="1.06" height="3.4" fill="#5aa9d1"/>
<rect x="172.94" y="36.9" width="1.06" height="3.4" fill="#c9aee0"/>
<rect x="174.3" y="47.1" width="1.06" height="3.4" fill="#2d3982"/>
<rect x="174.3" y="43.7" width="1.06" height="3.4" fill="#5aa9d1"/>
<rect x="175.66" y="43.7" width="1.06" height="6.8" fill="#2d3982"/>
<rect x="177.02" y="43.7" width="1.06" height="6.8" fill="#2d3982"/>
<rect x="178.38" y="47.1" width="1.06" height="3.4" fill="#2d3982"/>
<rect x="178.38" y="43.7" width="1.06" height="3.4" fill="#5aa9d1"/>
<rect x="179.74" y="43.7" width="1.06" height="6.8" fill="#2d3982"/>
<rect x="179.74" y="36.9" width="1.06" height="6.8" fill="#5aa9d1"/>
<rect x="181.1" y="43.7" width="1.06" height="6.8" fill="#2d3982"/>
<rect x="181.1" y="40.3" width="1.06" height="3.4" fill="#5aa9d1"/>
<rect x="182.45" y="47.1" width="1.06" height="3.4" fill="#2d3982"/>
<rect x="182.45" y="43.7" width="1.06" height="3.4" fill="#a9d0e6"/>
<rect x="183.81" y="43.7" width="1.06" height="6.8" fill="#2d3982"/>
<rect x="185.17" y="43.7" width="1.06" height="6.8" fill="#2d3982"/>
<rect x="186.53" y="40.3" width="1.06" height="10.2" fill="#2d3982"/>
<rect x="187.89" y="43.7" width="1.06" height="6.8" fill="#2d3982"/>
<rect x="189.25" y="47.1" width="1.06" height="3.4" fill="#2d3982"/>
<rect x="190.61" y="43.7" width="1.06" height="6.8" fill="#2d3982"/>
<rect x="190.61" y="40.3" width="1.06" height="3.4" fill="#4a7ca5"/>
<rect x="191.97" y="47.1" width="1.06" height="3.4" fill="#2d3982"/>
<rect x="191.97" y="43.7" width="1.06" height="3.4" fill="#c9aee0"/>
<rect x="193.33" y="43.7" width="1.06" height="6.8" fill="#2d3982"/>
<rect x="194.69" y="47.1" width="1.06" height="3.4" fill="#2d3982"/>
<rect x="194.69" y="43.7" width="1.06" height="3.4" fill="#eeee6a"/>
<rect x="196.05" y="47.1" width="1.06" height="3.4" fill="#2d3982"/>
<rect x="197.41" y="47.1" width="1.06" height="3.4" fill="#2d3982"/>
<rect x="198.76" y="47.1" width="1.06" height="3.4" fill="#f3b8cb"/>
<rect x="200.12" y="47.1" width="1.06" height="3.4" fill="#2d3982"/>
<rect x="201.48" y="47.1" width="1.06" height="3.4" fill="#2d3982"/>
<rect x="202.84" y="47.1" width="1.06" height="3.4" fill="#2d3982"/>
<rect x="204.2" y="47.1" width="1.06" height="3.4" fill="#2d3982"/>
<rect x="205.56" y="47.1" width="1.06" height="3.4" fill="#2d3982"/>
<rect x="206.92" y="47.1" width="1.06" height="3.4" fill="#2d3982"/>
<rect x="208.28" y="47.1" width="1.06" height="3.4" fill="#2d3982"/>
<rect x="209.64" y="47.1" width="1.06" height="3.4" fill="#2d3982"/>
<rect x="211" y="47.1" width="1.06" height="3.4" fill="#2d3982"/>
<rect x="212.36" y="47.1" width="1.06" height="3.4" fill="#2d3982"/>
<rect x="213.72" y="47.1" width="1.06" height="3.4" fill="#2d3982"/>
<rect x="215.07" y="47.1" width="1.06" height="3.4" fill="#2d3982"/>
<rect x="216.43" y="47.1" width="1.06" height="3.4" fill="#2d3982"/>
<rect x="217.79" y="47.1" width="1.06" height="3.4" fill="#2d3982"/>
<rect x="219.15" y="47.1" width="1.06" height="3.4" fill="#2d3982"/>
<rect x="220.51" y="47.1" width="1.06" height="3.4" fill="#2d3982"/>
<rect x="221.87" y="47.1" width="1.06" height="3.4" fill="#2d3982"/>
<rect x="223.23" y="47.1" width="1.06" height="3.4" fill="#2d3982"/>
<rect x="224.59" y="47.1" width="1.06" height="3.4" fill="#2d3982"/>
<rect x="225.95" y="47.1" width="1.06" height="3.4" fill="#2d3982"/>
<rect x="227.31" y="47.1" width="1.06" height="3.4" fill="#2d3982"/>
<rect x="228.67" y="47.1" width="1.06" height="3.4" fill="#2d3982"/>
<rect x="230.02" y="40.3" width="1.06" height="10.2" fill="#2d3982"/>
<rect x="231.38" y="43.7" width="1.06" height="6.8" fill="#2d3982"/>
<rect x="231.38" y="40.3" width="1.06" height="3.4" fill="#a9d0e6"/>
<rect x="232.74" y="43.7" width="1.06" height="6.8" fill="#2d3982"/>
<rect x="232.74" y="40.3" width="1.06" height="3.4" fill="#5aa9d1"/>
<rect x="232.74" y="36.9" width="1.06" height="3.4" fill="#f3b8cb"/>
<rect x="234.1" y="43.7" width="1.06" height="6.8" fill="#a9d0e6"/>
<rect x="235.46" y="36.9" width="1.06" height="13.6" fill="#2d3982"/>
<rect x="235.46" y="33.5" width="1.06" height="3.4" fill="#5aa9d1"/>
<rect x="235.46" y="30.1" width="1.06" height="3.4" fill="#a9d0e6"/>
<rect x="236.82" y="47.1" width="1.06" height="3.4" fill="#2d3982"/>
<rect x="236.82" y="43.7" width="1.06" height="3.4" fill="#4a7ca5"/>
<rect x="236.82" y="40.3" width="1.06" height="3.4" fill="#a9d0e6"/>
<rect x="238.18" y="43.7" width="1.06" height="6.8" fill="#a9d0e6"/>
<rect x="239.54" y="47.1" width="1.06" height="3.4" fill="#2d3982"/>
<rect x="239.54" y="43.7" width="1.06" height="3.4" fill="#5aa9d1"/>
<rect x="240.9" y="47.1" width="1.06" height="3.4" fill="#5aa9d1"/>
<rect x="240.9" y="43.7" width="1.06" height="3.4" fill="#c9aee0"/>
<rect x="242.26" y="47.1" width="1.06" height="3.4" fill="#2d3982"/>
<rect x="242.26" y="40.3" width="1.06" height="6.8" fill="#a9d0e6"/>
<rect x="242.26" y="36.9" width="1.06" height="3.4" fill="#eeee6a"/>
<rect x="243.62" y="43.7" width="1.06" height="6.8" fill="#2d3982"/>
<rect x="244.98" y="47.1" width="1.06" height="3.4" fill="#2d3982"/>
<rect x="244.98" y="43.7" width="1.06" height="3.4" fill="#c9aee0"/>
<rect x="246.33" y="40.3" width="1.06" height="10.2" fill="#2d3982"/>
<rect x="246.33" y="36.9" width="1.06" height="3.4" fill="#eeee6a"/>
<rect x="247.69" y="43.7" width="1.06" height="6.8" fill="#5aa9d1"/>
<rect x="247.69" y="40.3" width="1.06" height="3.4" fill="#a9d0e6"/>
<rect x="249.05" y="47.1" width="1.06" height="3.4" fill="#5aa9d1"/>
<rect x="249.05" y="43.7" width="1.06" height="3.4" fill="#a9d0e6"/>
<rect x="250.41" y="43.7" width="1.06" height="6.8" fill="#2d3982"/>
<rect x="250.41" y="40.3" width="1.06" height="3.4" fill="#5aa9d1"/>
<rect x="251.77" y="47.1" width="1.06" height="3.4" fill="#2d3982"/>
<rect x="251.77" y="43.7" width="1.06" height="3.4" fill="#5aa9d1"/>
<rect x="253.13" y="36.9" width="1.06" height="13.6" fill="#2d3982"/>
<rect x="253.13" y="30.1" width="1.06" height="6.8" fill="#5aa9d1"/>
<rect x="254.49" y="43.7" width="1.06" height="6.8" fill="#2d3982"/>
<rect x="255.85" y="47.1" width="1.06" height="3.4" fill="#2d3982"/>
<rect x="257.21" y="47.1" width="1.06" height="3.4" fill="#2d3982"/>
<rect x="257.21" y="43.7" width="1.06" height="3.4" fill="#4a7ca5"/>
<rect x="258.57" y="40.3" width="1.06" height="10.2" fill="#2d3982"/>
<rect x="258.57" y="36.9" width="1.06" height="3.4" fill="#f3b8cb"/>
<rect x="259.93" y="47.1" width="1.06" height="3.4" fill="#2d3982"/>
<rect x="261.28" y="47.1" width="1.06" height="3.4" fill="#2d3982"/>
<rect x="261.28" y="43.7" width="1.06" height="3.4" fill="#4a7ca5"/>
<rect x="262.64" y="47.1" width="1.06" height="3.4" fill="#2d3982"/>
<rect x="264" y="43.7" width="1.06" height="6.8" fill="#a9d0e6"/>
<rect x="265.36" y="43.7" width="1.06" height="6.8" fill="#2d3982"/>
<rect x="266.72" y="47.1" width="1.06" height="3.4" fill="#2d3982"/>
<rect x="268.08" y="47.1" width="1.06" height="3.4" fill="#a9d0e6"/>
<rect x="269.44" y="47.1" width="1.06" height="3.4" fill="#a9d0e6"/>
<rect x="270.8" y="47.1" width="1.06" height="3.4" fill="#a9d0e6"/>
<rect x="272.16" y="47.1" width="1.06" height="3.4" fill="#a9d0e6"/>
<rect x="273.52" y="47.1" width="1.06" height="3.4" fill="#a9d0e6"/>
<rect x="274.88" y="47.1" width="1.06" height="3.4" fill="#a9d0e6"/>
<rect x="276.24" y="47.1" width="1.06" height="3.4" fill="#a9d0e6"/>
<rect x="277.59" y="47.1" width="1.06" height="3.4" fill="#2d3982"/>
<rect x="278.95" y="47.1" width="1.06" height="3.4" fill="#2d3982"/>
<rect x="280.31" y="47.1" width="1.06" height="3.4" fill="#f3b8cb"/>
<rect x="281.67" y="47.1" width="1.06" height="3.4" fill="#eeee6a"/>
<rect x="283.03" y="47.1" width="1.06" height="3.4" fill="#2d3982"/>
<rect x="284.39" y="43.7" width="1.06" height="6.8" fill="#2d3982"/>
<rect x="285.75" y="30.1" width="1.06" height="20.4" fill="#2d3982"/>
<rect x="285.75" y="19.9" width="1.06" height="10.2" fill="#a9d0e6"/>
<rect x="285.75" y="16.5" width="1.06" height="3.4" fill="#c9aee0"/>
<rect x="287.11" y="40.3" width="1.06" height="10.2" fill="#2d3982"/>
<rect x="287.11" y="36.9" width="1.06" height="3.4" fill="#a9d0e6"/>
<rect x="287.11" y="33.5" width="1.06" height="3.4" fill="#eeee6a"/>
<rect x="288.47" y="47.1" width="1.06" height="3.4" fill="#2d3982"/>
<rect x="288.47" y="43.7" width="1.06" height="3.4" fill="#4a7ca5"/>
<rect x="288.47" y="40.3" width="1.06" height="3.4" fill="#5aa9d1"/>
<rect x="288.47" y="36.9" width="1.06" height="3.4" fill="#a9d0e6"/>
<rect x="289.83" y="43.7" width="1.06" height="6.8" fill="#2d3982"/>
<rect x="289.83" y="40.3" width="1.06" height="3.4" fill="#5aa9d1"/>
<rect x="289.83" y="36.9" width="1.06" height="3.4" fill="#a9d0e6"/>
<rect x="291.19" y="47.1" width="1.06" height="3.4" fill="#2d3982"/>
<rect x="291.19" y="40.3" width="1.06" height="6.8" fill="#c9aee0"/>
<rect x="291.19" y="36.9" width="1.06" height="3.4" fill="#eeee6a"/>
<rect x="292.55" y="43.7" width="1.06" height="6.8" fill="#2d3982"/>
<rect x="292.55" y="40.3" width="1.06" height="3.4" fill="#a9d0e6"/>
<rect x="293.9" y="40.3" width="1.06" height="10.2" fill="#2d3982"/>
<rect x="295.26" y="43.7" width="1.06" height="6.8" fill="#2d3982"/>
<rect x="295.26" y="40.3" width="1.06" height="3.4" fill="#a9d0e6"/>
<rect x="296.62" y="47.1" width="1.06" height="3.4" fill="#2d3982"/>
<rect x="296.62" y="43.7" width="1.06" height="3.4" fill="#eeee6a"/>
<rect x="297.98" y="47.1" width="1.06" height="3.4" fill="#2d3982"/>
<rect x="297.98" y="43.7" width="1.06" height="3.4" fill="#eeee6a"/>
<rect x="299.34" y="47.1" width="1.06" height="3.4" fill="#a9d0e6"/>
<rect x="300.7" y="47.1" width="1.06" height="3.4" fill="#a9d0e6"/>
<rect x="302.06" y="47.1" width="1.06" height="3.4" fill="#2d3982"/>
<rect x="303.42" y="47.1" width="1.06" height="3.4" fill="#2d3982"/>
<rect x="303.42" y="36.9" width="1.06" height="10.2" fill="#a9d0e6"/>
<rect x="303.42" y="33.5" width="1.06" height="3.4" fill="#f3b8cb"/>
<rect x="304.78" y="43.7" width="1.06" height="6.8" fill="#2d3982"/>
<rect x="304.78" y="40.3" width="1.06" height="3.4" fill="#5aa9d1"/>
<rect x="304.78" y="36.9" width="1.06" height="3.4" fill="#a9d0e6"/>
<rect x="306.14" y="47.1" width="1.06" height="3.4" fill="#a9d0e6"/>
<rect x="307.5" y="43.7" width="1.06" height="6.8" fill="#a9d0e6"/>
<rect x="308.85" y="47.1" width="1.06" height="3.4" fill="#a9d0e6"/>
<rect x="310.21" y="47.1" width="1.06" height="3.4" fill="#5aa9d1"/>
<rect x="312.93" y="47.1" width="1.06" height="3.4" fill="#2d3982"/>
<rect x="315.65" y="47.1" width="1.06" height="3.4" fill="#a9d0e6"/>
<rect x="317.01" y="47.1" width="1.06" height="3.4" fill="#a9d0e6"/>
<rect x="318.37" y="43.7" width="1.06" height="6.8" fill="#2d3982"/>
<rect x="319.73" y="47.1" width="1.06" height="3.4" fill="#2d3982"/>
<rect x="319.73" y="40.3" width="1.06" height="6.8" fill="#5aa9d1"/>
<rect x="321.09" y="47.1" width="1.06" height="3.4" fill="#2d3982"/>
<rect x="321.09" y="43.7" width="1.06" height="3.4" fill="#5aa9d1"/>
<rect x="322.45" y="47.1" width="1.06" height="3.4" fill="#2d3982"/>
<rect x="322.45" y="43.7" width="1.06" height="3.4" fill="#4a7ca5"/>
<rect x="323.81" y="30.1" width="1.06" height="20.4" fill="#2d3982"/>
<rect x="323.81" y="26.7" width="1.06" height="3.4" fill="#eeee6a"/>
<rect x="325.16" y="43.7" width="1.06" height="6.8" fill="#2d3982"/>
<rect x="325.16" y="40.3" width="1.06" height="3.4" fill="#5aa9d1"/>
<rect x="326.52" y="47.1" width="1.06" height="3.4" fill="#2d3982"/>
<rect x="326.52" y="43.7" width="1.06" height="3.4" fill="#4a7ca5"/>
<rect x="326.52" y="40.3" width="1.06" height="3.4" fill="#eeee6a"/>
<rect x="327.88" y="43.7" width="1.06" height="6.8" fill="#2d3982"/>
<rect x="329.24" y="47.1" width="1.06" height="3.4" fill="#2d3982"/>
<rect x="329.24" y="43.7" width="1.06" height="3.4" fill="#f3b8cb"/>
<rect x="330.6" y="36.9" width="1.06" height="13.6" fill="#2d3982"/>
<rect x="331.96" y="43.7" width="1.06" height="6.8" fill="#2d3982"/>
<rect x="331.96" y="36.9" width="1.06" height="6.8" fill="#4a7ca5"/>
<rect x="333.32" y="43.7" width="1.06" height="6.8" fill="#2d3982"/>
<rect x="334.68" y="47.1" width="1.06" height="3.4" fill="#2d3982"/>
<rect x="334.68" y="43.7" width="1.06" height="3.4" fill="#4a7ca5"/>
<rect x="336.04" y="47.1" width="1.06" height="3.4" fill="#2d3982"/>
<rect x="337.4" y="47.1" width="1.06" height="3.4" fill="#2d3982"/>
<rect x="338.76" y="47.1" width="1.06" height="3.4" fill="#2d3982"/>
<rect x="338.76" y="43.7" width="1.06" height="3.4" fill="#4a7ca5"/>
<rect x="340.11" y="47.1" width="1.06" height="3.4" fill="#a9d0e6"/>
<rect x="340.11" y="43.7" width="1.06" height="3.4" fill="#c9aee0"/>
<rect x="340.11" y="40.3" width="1.06" height="3.4" fill="#eeee6a"/>
<rect x="341.47" y="47.1" width="1.06" height="3.4" fill="#2d3982"/>
<rect x="342.83" y="47.1" width="1.06" height="3.4" fill="#5aa9d1"/>
<rect x="344.19" y="47.1" width="1.06" height="3.4" fill="#a9d0e6"/>
<rect x="345.55" y="47.1" width="1.06" height="3.4" fill="#c9aee0"/>
<rect x="345.55" y="43.7" width="1.06" height="3.4" fill="#f3b8cb"/>
<rect x="346.91" y="47.1" width="1.06" height="3.4" fill="#2d3982"/>
<rect x="346.91" y="43.7" width="1.06" height="3.4" fill="#5aa9d1"/>
<rect x="346.91" y="40.3" width="1.06" height="3.4" fill="#a9d0e6"/>
<rect x="349.63" y="47.1" width="1.06" height="3.4" fill="#2d3982"/>
<rect x="350.99" y="47.1" width="1.06" height="3.4" fill="#a9d0e6"/>
<rect x="352.35" y="47.1" width="1.06" height="3.4" fill="#4a7ca5"/>
<rect x="353.71" y="47.1" width="1.06" height="3.4" fill="#2d3982"/>
<rect x="353.71" y="43.7" width="1.06" height="3.4" fill="#4a7ca5"/>
<rect x="353.71" y="40.3" width="1.06" height="3.4" fill="#a9d0e6"/>
<rect x="356.42" y="47.1" width="1.06" height="3.4" fill="#2d3982"/>
<rect x="357.78" y="47.1" width="1.06" height="3.4" fill="#2d3982"/>
<rect x="360.5" y="43.7" width="1.06" height="6.8" fill="#2d3982"/>
<rect x="360.5" y="40.3" width="1.06" height="3.4" fill="#5aa9d1"/>
<rect x="361.86" y="47.1" width="1.06" height="3.4" fill="#a9d0e6"/>
<rect x="363.22" y="47.1" width="1.06" height="3.4" fill="#2d3982"/>
<rect x="363.22" y="40.3" width="1.06" height="6.8" fill="#5aa9d1"/>
<rect x="364.58" y="47.1" width="1.06" height="3.4" fill="#2d3982"/>
<rect x="365.94" y="47.1" width="1.06" height="3.4" fill="#a9d0e6"/>
<rect x="367.3" y="47.1" width="1.06" height="3.4" fill="#4a7ca5"/>
<rect x="371.37" y="43.7" width="1.06" height="6.8" fill="#2d3982"/>
<rect x="372.73" y="47.1" width="1.06" height="3.4" fill="#2d3982"/>
<rect x="374.09" y="47.1" width="1.06" height="3.4" fill="#93bf69"/>
<rect x="375.45" y="47.1" width="1.06" height="3.4" fill="#5aa9d1"/>
<rect x="378.17" y="43.7" width="1.06" height="6.8" fill="#2d3982"/>
<rect x="443.95" y="33.5" width="1.07" height="17" fill="#2d3982"/>
<rect x="445.32" y="36.9" width="1.07" height="13.6" fill="#2d3982"/>
<rect x="445.32" y="33.5" width="1.07" height="3.4" fill="#a9d0e6"/>
<rect x="446.68" y="40.3" width="1.07" height="10.2" fill="#2d3982"/>
<rect x="448.05" y="40.3" width="1.07" height="10.2" fill="#2d3982"/>
<rect x="448.05" y="36.9" width="1.07" height="3.4" fill="#eeee6a"/>
<rect x="449.41" y="33.5" width="1.07" height="17" fill="#2d3982"/>
<rect x="449.41" y="30.1" width="1.07" height="3.4" fill="#a9d0e6"/>
<rect x="450.78" y="40.3" width="1.07" height="10.2" fill="#2d3982"/>
<rect x="450.78" y="36.9" width="1.07" height="3.4" fill="#5aa9d1"/>
<rect x="452.15" y="43.7" width="1.07" height="6.8" fill="#2d3982"/>
<rect x="453.51" y="43.7" width="1.07" height="6.8" fill="#2d3982"/>
<rect x="454.88" y="47.1" width="1.07" height="3.4" fill="#2d3982"/>
<rect x="454.88" y="43.7" width="1.07" height="3.4" fill="#5aa9d1"/>
<rect x="456.24" y="33.5" width="1.07" height="17" fill="#2d3982"/>
<rect x="457.61" y="43.7" width="1.07" height="6.8" fill="#2d3982"/>
<rect x="457.61" y="40.3" width="1.07" height="3.4" fill="#5aa9d1"/>
<rect x="458.98" y="43.7" width="1.07" height="6.8" fill="#2d3982"/>
<rect x="458.98" y="40.3" width="1.07" height="3.4" fill="#c9aee0"/>
<rect x="460.34" y="43.7" width="1.07" height="6.8" fill="#2d3982"/>
<rect x="461.71" y="26.7" width="1.07" height="23.8" fill="#2d3982"/>
<rect x="461.71" y="23.3" width="1.07" height="3.4" fill="#5aa9d1"/>
<rect x="463.07" y="43.7" width="1.07" height="6.8" fill="#2d3982"/>
<rect x="463.07" y="40.3" width="1.07" height="3.4" fill="#eeee6a"/>
<rect x="464.44" y="47.1" width="1.07" height="3.4" fill="#2d3982"/>
<rect x="465.81" y="47.1" width="1.07" height="3.4" fill="#2d3982"/>
<rect x="465.81" y="43.7" width="1.07" height="3.4" fill="#5aa9d1"/>
<rect x="465.81" y="40.3" width="1.07" height="3.4" fill="#f3b8cb"/>
<rect x="467.17" y="47.1" width="1.07" height="3.4" fill="#2d3982"/>
<rect x="468.54" y="47.1" width="1.07" height="3.4" fill="#2d3982"/>
<rect x="469.9" y="47.1" width="1.07" height="3.4" fill="#2d3982"/>
<rect x="471.27" y="43.7" width="1.07" height="6.8" fill="#2d3982"/>
<rect x="471.27" y="40.3" width="1.07" height="3.4" fill="#eeee6a"/>
<rect x="472.64" y="43.7" width="1.07" height="6.8" fill="#2d3982"/>
<rect x="474" y="43.7" width="1.07" height="6.8" fill="#2d3982"/>
<rect x="475.37" y="40.3" width="1.07" height="10.2" fill="#2d3982"/>
<rect x="475.37" y="36.9" width="1.07" height="3.4" fill="#c9aee0"/>
<rect x="476.73" y="43.7" width="1.07" height="6.8" fill="#5aa9d1"/>
<rect x="478.1" y="40.3" width="1.07" height="10.2" fill="#2d3982"/>
<rect x="479.47" y="43.7" width="1.07" height="6.8" fill="#2d3982"/>
<rect x="480.83" y="47.1" width="1.07" height="3.4" fill="#2d3982"/>
<rect x="480.83" y="43.7" width="1.07" height="3.4" fill="#f3b8cb"/>
<rect x="482.2" y="47.1" width="1.07" height="3.4" fill="#2d3982"/>
<rect x="483.56" y="47.1" width="1.07" height="3.4" fill="#2d3982"/>
<rect x="484.93" y="47.1" width="1.07" height="3.4" fill="#2d3982"/>
<rect x="484.93" y="43.7" width="1.07" height="3.4" fill="#4a7ca5"/>
<rect x="486.3" y="47.1" width="1.07" height="3.4" fill="#a9d0e6"/>
<rect x="486.3" y="43.7" width="1.07" height="3.4" fill="#eeee6a"/>
<rect x="489.03" y="47.1" width="1.07" height="3.4" fill="#2d3982"/>
<rect x="489.03" y="43.7" width="1.07" height="3.4" fill="#4a7ca5"/>
<rect x="490.39" y="47.1" width="1.07" height="3.4" fill="#2d3982"/>
<rect x="490.39" y="43.7" width="1.07" height="3.4" fill="#c9aee0"/>
<rect x="491.76" y="47.1" width="1.07" height="3.4" fill="#2d3982"/>
<rect x="493.13" y="47.1" width="1.07" height="3.4" fill="#2d3982"/>
<rect x="494.49" y="40.3" width="1.07" height="10.2" fill="#2d3982"/>
<rect x="494.49" y="36.9" width="1.07" height="3.4" fill="#5aa9d1"/>
<rect x="495.86" y="47.1" width="1.07" height="3.4" fill="#4a7ca5"/>
<rect x="498.59" y="47.1" width="1.07" height="3.4" fill="#2d3982"/>
<rect x="514.05" y="40.3" width="1.05" height="10.2" fill="#2d3982"/>
<rect x="514.05" y="36.9" width="1.05" height="3.4" fill="#4a7ca5"/>
<rect x="515.4" y="36.9" width="1.05" height="13.6" fill="#2d3982"/>
<rect x="515.4" y="30.1" width="1.05" height="6.8" fill="#a9d0e6"/>
<rect x="516.75" y="43.7" width="1.05" height="6.8" fill="#2d3982"/>
<rect x="516.75" y="40.3" width="1.05" height="3.4" fill="#4a7ca5"/>
<rect x="518.1" y="43.7" width="1.05" height="6.8" fill="#2d3982"/>
<rect x="518.1" y="40.3" width="1.05" height="3.4" fill="#a9d0e6"/>
<rect x="519.44" y="40.3" width="1.05" height="10.2" fill="#2d3982"/>
<rect x="520.79" y="47.1" width="1.05" height="3.4" fill="#2d3982"/>
<rect x="522.14" y="47.1" width="1.05" height="3.4" fill="#2d3982"/>
<rect x="522.14" y="43.7" width="1.05" height="3.4" fill="#a9d0e6"/>
<rect x="522.14" y="40.3" width="1.05" height="3.4" fill="#c9aee0"/>
<rect x="523.49" y="40.3" width="1.05" height="10.2" fill="#2d3982"/>
<rect x="523.49" y="36.9" width="1.05" height="3.4" fill="#4a7ca5"/>
<rect x="523.49" y="33.5" width="1.05" height="3.4" fill="#5aa9d1"/>
<rect x="524.84" y="47.1" width="1.05" height="3.4" fill="#2d3982"/>
<rect x="524.84" y="43.7" width="1.05" height="3.4" fill="#5aa9d1"/>
<rect x="524.84" y="40.3" width="1.05" height="3.4" fill="#eeee6a"/>
<rect x="526.19" y="43.7" width="1.05" height="6.8" fill="#2d3982"/>
<rect x="526.19" y="40.3" width="1.05" height="3.4" fill="#5aa9d1"/>
<rect x="527.54" y="47.1" width="1.05" height="3.4" fill="#2d3982"/>
<rect x="527.54" y="43.7" width="1.05" height="3.4" fill="#f3b8cb"/>
<rect x="528.89" y="43.7" width="1.05" height="6.8" fill="#2d3982"/>
<rect x="530.23" y="47.1" width="1.05" height="3.4" fill="#2d3982"/>
<rect x="531.58" y="47.1" width="1.05" height="3.4" fill="#2d3982"/>
<rect x="531.58" y="40.3" width="1.05" height="6.8" fill="#f3b8cb"/>
<rect x="532.93" y="40.3" width="1.05" height="10.2" fill="#2d3982"/>
<rect x="534.28" y="47.1" width="1.05" height="3.4" fill="#2d3982"/>
<rect x="535.63" y="47.1" width="1.05" height="3.4" fill="#2d3982"/>
<rect x="536.98" y="16.5" width="1.05" height="34" fill="#2d3982"/>
<rect x="538.33" y="43.7" width="1.05" height="6.8" fill="#2d3982"/>
<rect x="538.33" y="40.3" width="1.05" height="3.4" fill="#4a7ca5"/>
<rect x="538.33" y="36.9" width="1.05" height="3.4" fill="#5aa9d1"/>
<rect x="539.67" y="47.1" width="1.05" height="3.4" fill="#2d3982"/>
<rect x="539.67" y="43.7" width="1.05" height="3.4" fill="#a9d0e6"/>
<rect x="541.02" y="43.7" width="1.05" height="6.8" fill="#a9d0e6"/>
<rect x="542.37" y="43.7" width="1.05" height="6.8" fill="#2d3982"/>
<rect x="542.37" y="40.3" width="1.05" height="3.4" fill="#c9aee0"/>
<rect x="543.72" y="47.1" width="1.05" height="3.4" fill="#2d3982"/>
<rect x="545.07" y="47.1" width="1.05" height="3.4" fill="#2d3982"/>
<rect x="546.42" y="43.7" width="1.05" height="6.8" fill="#2d3982"/>
<rect x="546.42" y="40.3" width="1.05" height="3.4" fill="#5aa9d1"/>
<rect x="546.42" y="36.9" width="1.05" height="3.4" fill="#a9d0e6"/>
<rect x="549.11" y="47.1" width="1.05" height="3.4" fill="#2d3982"/>
<rect x="550.46" y="47.1" width="1.05" height="3.4" fill="#a9d0e6"/>
<rect x="553.16" y="47.1" width="1.05" height="3.4" fill="#2d3982"/>
<rect x="554.51" y="47.1" width="1.05" height="3.4" fill="#2d3982"/>
<rect x="555.86" y="47.1" width="1.05" height="3.4" fill="#a9d0e6"/>
</g>
<text transform="matrix(1 0 0 1.08 30.8 60.2)" font-size="6.25" text-anchor="end">PIK3CA</text>
<text transform="matrix(1 0 0 1.08 565 60.2)" font-size="6.25">47%</text>
<text transform="matrix(1 0 0 1.08 30.8 70.43)" font-size="6.25" text-anchor="end">TP53</text>
<text transform="matrix(1 0 0 1.08 565 70.43)" font-size="6.25">30%</text>
<text transform="matrix(1 0 0 1.08 30.8 80.66)" font-size="6.25" text-anchor="end">MAP3K1</text>
<text transform="matrix(1 0 0 1.08 565 80.66)" font-size="6.25">12%</text>
<text transform="matrix(1 0 0 1.08 30.8 90.89)" font-size="6.25" text-anchor="end">GATA3</text>
<text transform="matrix(1 0 0 1.08 565 90.89)" font-size="6.25">10%</text>
<text transform="matrix(1 0 0 1.08 30.8 101.12)" font-size="6.25" text-anchor="end">AKT1</text>
<text transform="matrix(1 0 0 1.08 565 101.12)" font-size="6.25">7%</text>
<text transform="matrix(1 0 0 1.08 30.8 111.35)" font-size="6.25" text-anchor="end">SF3B1</text>
<text transform="matrix(1 0 0 1.08 565 111.35)" font-size="6.25">7%</text>
<text transform="matrix(1 0 0 1.08 30.8 121.58)" font-size="6.25" text-anchor="end">TBX3</text>
<text transform="matrix(1 0 0 1.08 565 121.58)" font-size="6.25">6%</text>
<text transform="matrix(1 0 0 1.08 30.8 131.81)" font-size="6.25" text-anchor="end">CBFB</text>
<text transform="matrix(1 0 0 1.08 565 131.81)" font-size="6.25">6%</text>
<text transform="matrix(1 0 0 1.08 30.8 142.04)" font-size="6.25" text-anchor="end">RYR2</text>
<text transform="matrix(1 0 0 1.08 565 142.04)" font-size="6.25">6%</text>
<text transform="matrix(1 0 0 1.08 30.8 152.27)" font-size="6.25" text-anchor="end">PTEN</text>
<text transform="matrix(1 0 0 1.08 565 152.27)" font-size="6.25">5%</text>
<text transform="matrix(1 0 0 1.08 30.8 162.5)" font-size="6.25" text-anchor="end">SPEN</text>
<text transform="matrix(1 0 0 1.08 565 162.5)" font-size="6.25">5%</text>
<text transform="matrix(1 0 0 1.08 30.8 172.73)" font-size="6.25" text-anchor="end">ARID1A</text>
<text transform="matrix(1 0 0 1.08 565 172.73)" font-size="6.25">5%</text>
<text transform="matrix(1 0 0 1.08 30.8 182.96)" font-size="6.25" text-anchor="end">USH2A</text>
<text transform="matrix(1 0 0 1.08 565 182.96)" font-size="6.25">5%</text>
<text transform="matrix(1 0 0 1.08 30.8 193.19)" font-size="6.25" text-anchor="end">CDH1</text>
<text transform="matrix(1 0 0 1.08 565 193.19)" font-size="6.25">5%</text>
<text transform="matrix(1 0 0 1.08 30.8 203.42)" font-size="6.25" text-anchor="end">KMT2D</text>
<text transform="matrix(1 0 0 1.08 565 203.42)" font-size="6.25">4%</text>
<text transform="matrix(1 0 0 1.08 30.8 213.65)" font-size="6.25" text-anchor="end">CDKN1B</text>
<text transform="matrix(1 0 0 1.08 565 213.65)" font-size="6.25">4%</text>
<text transform="matrix(1 0 0 1.08 30.8 223.88)" font-size="6.25" text-anchor="end">NF1</text>
<text transform="matrix(1 0 0 1.08 565 223.88)" font-size="6.25">4%</text>
<text transform="matrix(1 0 0 1.08 30.8 234.11)" font-size="6.25" text-anchor="end">PKD1</text>
<text transform="matrix(1 0 0 1.08 565 234.11)" font-size="6.25">4%</text>
<text transform="matrix(1 0 0 1.08 30.8 244.34)" font-size="6.25" text-anchor="end">FOXA1</text>
<text transform="matrix(1 0 0 1.08 565 244.34)" font-size="6.25">4%</text>
<text transform="matrix(1 0 0 1.08 30.8 254.57)" font-size="6.25" text-anchor="end">RUNX1</text>
<text transform="matrix(1 0 0 1.08 565 254.57)" font-size="6.25">4%</text>
<text transform="matrix(1 0 0 1.08 30.8 264.8)" font-size="6.25" text-anchor="end">KMT2B</text>
<text transform="matrix(1 0 0 1.08 565 264.8)" font-size="6.25">4%</text>
<text transform="matrix(1 0 0 1.08 30.8 275.03)" font-size="6.25" text-anchor="end">MAP2K4</text>
<text transform="matrix(1 0 0 1.08 565 275.03)" font-size="6.25">4%</text>
<text transform="matrix(1 0 0 1.08 30.8 285.26)" font-size="6.25" text-anchor="end">ATM</text>
<text transform="matrix(1 0 0 1.08 565 285.26)" font-size="6.25">3%</text>
<text transform="matrix(1 0 0 1.08 30.8 295.49)" font-size="6.25" text-anchor="end">SOX9</text>
<text transform="matrix(1 0 0 1.08 565 295.49)" font-size="6.25">3%</text>
<text transform="matrix(1 0 0 1.08 30.8 305.72)" font-size="6.25" text-anchor="end">MED23</text>
<text transform="matrix(1 0 0 1.08 565 305.72)" font-size="6.25">3%</text>
<text transform="matrix(1 0 0 1.08 30.8 315.95)" font-size="6.25" text-anchor="end">ANKRD11</text>
<text transform="matrix(1 0 0 1.08 565 315.95)" font-size="6.25">3%</text>
<text transform="matrix(1 0 0 1.08 30.8 326.18)" font-size="6.25" text-anchor="end">NOTCH1</text>
<text transform="matrix(1 0 0 1.08 565 326.18)" font-size="6.25">3%</text>
<text transform="matrix(1 0 0 1.08 30.8 336.41)" font-size="6.25" text-anchor="end">IRS1</text>
<text transform="matrix(1 0 0 1.08 565 336.41)" font-size="6.25">3%</text>
<text transform="matrix(1 0 0 1.08 30.8 346.64)" font-size="6.25" text-anchor="end">IRS2</text>
<text transform="matrix(1 0 0 1.08 565 346.64)" font-size="6.25">3%</text>
<text transform="matrix(1 0 0 1.08 30.8 356.87)" font-size="6.25" text-anchor="end">USP9X</text>
<text transform="matrix(1 0 0 1.08 565 356.87)" font-size="6.25">3%</text>
<text transform="matrix(1 0 0 1.08 30.8 370.4)" font-size="6.25" text-anchor="end">CCND1</text>
<text transform="matrix(1 0 0 1.08 565 370.4)" font-size="6.25">11%</text>
<text transform="matrix(1 0 0 1.08 30.8 380.6)" font-size="6.25" text-anchor="end">FGFR1</text>
<text transform="matrix(1 0 0 1.08 565 380.6)" font-size="6.25">8%</text>
<text transform="matrix(1 0 0 1.08 30.8 390.8)" font-size="6.25" text-anchor="end">MYC</text>
<text transform="matrix(1 0 0 1.08 565 390.8)" font-size="6.25">5%</text>
<text transform="matrix(1 0 0 1.08 30.8 401)" font-size="6.25" text-anchor="end">AKT3</text>
<text transform="matrix(1 0 0 1.08 565 401)" font-size="6.25">4%</text>
<text transform="matrix(1 0 0 1.08 30.8 411.2)" font-size="6.25" text-anchor="end">FGFR2</text>
<text transform="matrix(1 0 0 1.08 565 411.2)" font-size="6.25">1%</text>
<text transform="matrix(1 0 0 1.08 30.8 421.4)" font-size="6.25" text-anchor="end">TP53</text>
<text transform="matrix(1 0 0 1.08 565 421.4)" font-size="6.25">1%</text>
<text transform="matrix(1 0 0 1.08 30.8 431.6)" font-size="6.25" text-anchor="end">PTEN</text>
<text transform="matrix(1 0 0 1.08 565 431.6)" font-size="6.25">0%</text>
<text transform="matrix(1 0 0 1.08 30.8 442.2)" font-size="6.25" text-anchor="end">HER2.IHC</text>
<text transform="matrix(1 0 0 1.08 30.8 450.2)" font-size="6.25" text-anchor="end">HR<tspan dy="-0.45">_</tspan><tspan dy="0.45">status</tspan></text>
<g stroke="#222" stroke-width="0.7" fill="none">
<line x1="32.3" y1="16.5" x2="32.3" y2="50.5"/>
<line x1="30.8" y1="16.5" x2="32.3" y2="16.5"/>
<line x1="30.8" y1="33.5" x2="32.3" y2="33.5"/>
<line x1="30.8" y1="50.5" x2="32.3" y2="50.5"/>
<line x1="581.4" y1="52.4" x2="617.3" y2="52.4"/>
<line x1="581.4" y1="52.4" x2="581.4" y2="51.3"/>
<line x1="590.9" y1="52.4" x2="590.9" y2="51.3"/>
<line x1="600.4" y1="52.4" x2="600.4" y2="51.3"/>
<line x1="609.9" y1="52.4" x2="609.9" y2="51.3"/>
<line x1="581.2" y1="362.5" x2="617" y2="362.5"/>
<line x1="581.2" y1="362.5" x2="581.2" y2="361.4"/>
<line x1="596.85" y1="362.5" x2="596.85" y2="361.4"/>
<line x1="612.5" y1="362.5" x2="612.5" y2="361.4"/>
</g>
<text x="29.5" y="18.5" font-size="5.6" text-anchor="end">10</text>
<text x="29.5" y="35.5" font-size="5.6" text-anchor="end">5</text>
<text x="29.5" y="52.5" font-size="5.6" text-anchor="end">0</text>
<text x="581.4" y="49.6" font-size="4.6" text-anchor="middle">0</text>
<text x="590.9" y="49.6" font-size="4.6" text-anchor="middle">50</text>
<text x="600.4" y="49.6" font-size="4.6" text-anchor="middle">100</text>
<text x="609.9" y="49.6" font-size="4.6" text-anchor="middle">150</text>
<text x="581.2" y="359.7" font-size="4.6" text-anchor="middle">0</text>
<text x="596.85" y="359.7" font-size="4.6" text-anchor="middle">20</text>
<text x="612.5" y="359.7" font-size="4.6" text-anchor="middle">40</text>
<rect x="581.6" y="54.6" width="31.3" height="6.1" fill="#2d3982"/>
<rect x="612.9" y="54.6" width="1.8" height="6.1" fill="#f3b8cb"/>
<rect x="614.7" y="54.6" width="1.2" height="6.1" fill="#eeee6a"/>
<rect x="581.6" y="64.83" width="12.5" height="6.1" fill="#2d3982"/>
<rect x="594.1" y="64.83" width="2.3" height="6.1" fill="#4a7ca5"/>
<rect x="596.4" y="64.83" width="1.8" height="6.1" fill="#5aa9d1"/>
<rect x="598.2" y="64.83" width="1.3" height="6.1" fill="#a9d0e6"/>
<rect x="599.5" y="64.83" width="2.4" height="6.1" fill="#c9aee0"/>
<rect x="601.9" y="64.83" width="0.9" height="6.1" fill="#e3c44e"/>
<rect x="581.6" y="75.06" width="0.7" height="6.1" fill="#2d3982"/>
<rect x="582.3" y="75.06" width="1.2" height="6.1" fill="#4a7ca5"/>
<rect x="583.5" y="75.06" width="1.9" height="6.1" fill="#5aa9d1"/>
<rect x="585.4" y="75.06" width="1.8" height="6.1" fill="#a9d0e6"/>
<rect x="587.2" y="75.06" width="3.7" height="6.1" fill="#eeee6a"/>
<rect x="581.6" y="85.29" width="2.2" height="6.1" fill="#2d3982"/>
<rect x="583.8" y="85.29" width="4.9" height="6.1" fill="#a9d0e6"/>
<rect x="581.6" y="95.52" width="4.4" height="6.1" fill="#2d3982"/>
<rect x="581.6" y="105.75" width="4.3" height="6.1" fill="#2d3982"/>
<rect x="581.6" y="115.98" width="1" height="6.1" fill="#4a7ca5"/>
<rect x="582.6" y="115.98" width="1.6" height="6.1" fill="#5aa9d1"/>
<rect x="584.2" y="115.98" width="1" height="6.1" fill="#a9d0e6"/>
<rect x="585.2" y="115.98" width="0.5" height="6.1" fill="#f3b8cb"/>
<rect x="581.6" y="126.21" width="1.6" height="6.1" fill="#2d3982"/>
<rect x="583.2" y="126.21" width="1.4" height="6.1" fill="#a9d0e6"/>
<rect x="584.6" y="126.21" width="1.2" height="6.1" fill="#c9aee0"/>
<rect x="581.6" y="136.44" width="3.8" height="6.1" fill="#2d3982"/>
<rect x="581.6" y="146.67" width="1.9" height="6.1" fill="#2d3982"/>
<rect x="583.5" y="146.67" width="1.5" height="6.1" fill="#5aa9d1"/>
<rect x="581.6" y="156.9" width="2.2" height="6.1" fill="#2d3982"/>
<rect x="583.8" y="156.9" width="1.2" height="6.1" fill="#5aa9d1"/>
<rect x="581.6" y="167.13" width="0.9" height="6.1" fill="#4a7ca5"/>
<rect x="582.5" y="167.13" width="1.3" height="6.1" fill="#5aa9d1"/>
<rect x="583.8" y="167.13" width="0.7" height="6.1" fill="#a9d0e6"/>
<rect x="584.5" y="167.13" width="0.8" height="6.1" fill="#eeee6a"/>
<rect x="581.6" y="177.36" width="2.9" height="6.1" fill="#2d3982"/>
<rect x="581.6" y="187.59" width="0.7" height="6.1" fill="#4a7ca5"/>
<rect x="582.3" y="187.59" width="0.7" height="6.1" fill="#5aa9d1"/>
<rect x="583" y="187.59" width="2" height="6.1" fill="#a9d0e6"/>
<rect x="581.6" y="197.82" width="3" height="6.1" fill="#2d3982"/>
<rect x="581.6" y="208.05" width="1.4" height="6.1" fill="#4a7ca5"/>
<rect x="583" y="208.05" width="1.5" height="6.1" fill="#a9d0e6"/>
<rect x="584.5" y="208.05" width="0.5" height="6.1" fill="#eeee6a"/>
<rect x="581.6" y="218.28" width="1.4" height="6.1" fill="#2d3982"/>
<rect x="583" y="218.28" width="1.5" height="6.1" fill="#a9d0e6"/>
<rect x="581.6" y="228.51" width="2.9" height="6.1" fill="#2d3982"/>
<rect x="581.6" y="238.74" width="2.4" height="6.1" fill="#2d3982"/>
<rect x="584" y="238.74" width="0.5" height="6.1" fill="#a9d0e6"/>
<rect x="581.6" y="248.97" width="1" height="6.1" fill="#4a7ca5"/>
<rect x="582.6" y="248.97" width="1.4" height="6.1" fill="#5aa9d1"/>
<rect x="581.6" y="259.2" width="2.2" height="6.1" fill="#2d3982"/>
<rect x="581.6" y="269.43" width="1" height="6.1" fill="#4a7ca5"/>
<rect x="582.6" y="269.43" width="1.4" height="6.1" fill="#5aa9d1"/>
<rect x="581.6" y="279.66" width="1.9" height="6.1" fill="#2d3982"/>
<rect x="581.6" y="289.89" width="0.9" height="6.1" fill="#4a7ca5"/>
<rect x="582.5" y="289.89" width="0.7" height="6.1" fill="#a9d0e6"/>
<rect x="583.2" y="289.89" width="0.5" height="6.1" fill="#eeee6a"/>
<rect x="581.6" y="300.12" width="1.7" height="6.1" fill="#2d3982"/>
<rect x="583.3" y="300.12" width="0.5" height="6.1" fill="#93bf69"/>
<rect x="581.6" y="310.35" width="2.1" height="6.1" fill="#2d3982"/>
<rect x="581.6" y="320.58" width="2.1" height="6.1" fill="#2d3982"/>
<rect x="581.6" y="330.81" width="2.1" height="6.1" fill="#2d3982"/>
<rect x="581.6" y="341.04" width="1.6" height="6.1" fill="#2d3982"/>
<rect x="583.2" y="341.04" width="0.6" height="6.1" fill="#c9aee0"/>
<rect x="581.6" y="351.27" width="1.4" height="6.1" fill="#2d3982"/>
<rect x="583" y="351.27" width="0.5" height="6.1" fill="#a9d0e6"/>
<rect x="583.5" y="351.27" width="0.3" height="6.1" fill="#eeee6a"/>
<rect x="581.3" y="364.8" width="34.3" height="6.1" fill="#e5525a"/>
<rect x="581.3" y="375" width="24.3" height="6.1" fill="#e5525a"/>
<rect x="581.3" y="385.2" width="15.7" height="6.1" fill="#e5525a"/>
<rect x="581.3" y="395.4" width="12" height="6.1" fill="#e5525a"/>
<rect x="593.3" y="395.4" width="0.7" height="6.1" fill="#70c2de"/>
<rect x="581.3" y="405.6" width="3.7" height="6.1" fill="#e5525a"/>
<rect x="581.3" y="415.8" width="1.5" height="6.1" fill="#70c2de"/>
<rect x="581.3" y="426" width="1.1" height="6.1" fill="#f3b8cb"/>
<polygon points="600.4,79.4 601.06,80.99 602.78,81.13 601.47,82.25 601.87,83.92 600.4,83.03 598.93,83.92 599.33,82.25 598.02,81.13 599.74,80.99" fill="#111"/>
<polygon points="597.7,202.9 598.36,204.49 600.08,204.63 598.77,205.75 599.17,207.42 597.7,206.53 596.23,207.42 596.63,205.75 595.32,204.63 597.04,204.49" fill="#111"/>
<polygon points="594.7,263.7 595.36,265.29 597.08,265.43 595.77,266.55 596.17,268.22 594.7,267.32 593.23,268.22 593.63,266.55 592.32,265.43 594.04,265.29" fill="#111"/>
<polygon points="590.2,334.1 590.86,335.69 592.58,335.83 591.27,336.95 591.67,338.62 590.2,337.73 588.73,338.62 589.13,336.95 587.82,335.83 589.54,335.69" fill="#111"/>
<text transform="matrix(1 0 0 1.08 621 143.4)" font-size="6.25" font-weight="bold">Alterations</text>
<rect x="621" y="147.2" width="6.6" height="6.1" fill="#2d3982"/>
<text transform="matrix(1 0 0 1.08 630 153)" font-size="6.25">Missense</text>
<rect x="621" y="154.3" width="6.6" height="6.1" fill="#4a7ca5"/>
<text transform="matrix(1 0 0 1.08 630 160.1)" font-size="6.25">Nonsense</text>
<rect x="621" y="161.4" width="6.6" height="6.1" fill="#5aa9d1"/>
<text transform="matrix(1 0 0 1.08 630 167.2)" font-size="6.25">Frame<tspan dy="-0.45">_</tspan><tspan dy="0.45">shift</tspan><tspan dy="-0.45">_</tspan><tspan dy="0.45">del</tspan></text>
<rect x="621" y="168.5" width="6.6" height="6.1" fill="#a9d0e6"/>
<text transform="matrix(1 0 0 1.08 630 174.3)" font-size="6.25">Frame<tspan dy="-0.45">_</tspan><tspan dy="0.45">shift</tspan><tspan dy="-0.45">_</tspan><tspan dy="0.45">ins</tspan></text>
<rect x="621" y="175.6" width="6.6" height="6.1" fill="#c9aee0"/>
<text transform="matrix(1 0 0 1.08 630 181.4)" font-size="6.25">Splice<tspan dy="-0.45">_</tspan><tspan dy="0.45">site</tspan></text>
<rect x="621" y="182.7" width="6.6" height="6.1" fill="#e3c44e"/>
<text transform="matrix(1 0 0 1.08 630 188.5)" font-size="6.25">Nonstop</text>
<rect x="621" y="189.8" width="6.6" height="6.1" fill="#93bf69"/>
<text transform="matrix(1 0 0 1.08 630 195.6)" font-size="6.25">In<tspan dy="-0.45">_</tspan><tspan dy="0.45">frame</tspan><tspan dy="-0.45">_</tspan><tspan dy="0.45">ins</tspan></text>
<rect x="621" y="196.9" width="6.6" height="6.1" fill="#f3b8cb"/>
<text transform="matrix(1 0 0 1.08 630 202.7)" font-size="6.25">In<tspan dy="-0.45">_</tspan><tspan dy="0.45">frame</tspan><tspan dy="-0.45">_</tspan><tspan dy="0.45">del</tspan></text>
<rect x="621" y="204" width="6.6" height="6.1" fill="#eeee6a"/>
<text transform="matrix(1 0 0 1.08 630 209.8)" font-size="6.25">Multi<tspan dy="-0.45">_</tspan><tspan dy="0.45">hit</tspan></text>
<text transform="matrix(1 0 0 1.08 621 223)" font-size="6.25" font-weight="bold">Alterations</text>
<rect x="621" y="226.9" width="6.6" height="6.1" fill="#e5525a"/>
<text transform="matrix(1 0 0 1.08 630 232.7)" font-size="6.25">Cn.amp</text>
<rect x="621" y="234" width="6.6" height="6.1" fill="#70c2de"/>
<text transform="matrix(1 0 0 1.08 630 239.8)" font-size="6.25">Cn.loss</text>
<text transform="matrix(1 0 0 1.08 621 253)" font-size="6.25" font-weight="bold">HER2.IHC</text>
<rect x="621" y="256.2" width="6.6" height="6.1" fill="#e64f5c"/>
<text transform="matrix(1 0 0 1.08 630 262)" font-size="6.25">low</text>
<rect x="621" y="263.3" width="6.6" height="6.1" fill="#e8c256"/>
<text transform="matrix(1 0 0 1.08 630 269.1)" font-size="6.25">null</text>
<rect x="621" y="270.4" width="6.6" height="6.1" fill="#e9955a"/>
<text transform="matrix(1 0 0 1.08 630 276.2)" font-size="6.25">ultralow</text>
<text transform="matrix(1 0 0 1.08 621 289.5)" font-size="6.25" font-weight="bold">HR_status</text>
<rect x="621" y="293.1" width="6.6" height="6.1" fill="#d3b2a2"/>
<text transform="matrix(1 0 0 1.08 630 298.9)" font-size="6.25">HR positive</text>
<text x="24.3" y="521.8" font-size="14.6" style="stroke-width:0.55px">B</text>
<text x="190.97" y="547.5" font-size="8.1" text-anchor="middle">low</text>
<text x="422.59" y="547.5" font-size="8.1" text-anchor="middle">null</text>
<text x="540.55" y="547.5" font-size="8.1" text-anchor="middle">ultralow</text>
<rect x="45.6" y="590.5" width="290.73" height="9.2" fill="#d1d1d1"/>
<rect x="45.6" y="600.68" width="290.73" height="9.2" fill="#d1d1d1"/>
<rect x="45.6" y="610.86" width="290.73" height="9.2" fill="#d1d1d1"/>
<rect x="45.6" y="621.04" width="290.73" height="9.2" fill="#d1d1d1"/>
<rect x="45.6" y="631.22" width="290.73" height="9.2" fill="#d1d1d1"/>
<rect x="45.6" y="641.4" width="290.73" height="9.2" fill="#d1d1d1"/>
<rect x="45.6" y="651.58" width="290.73" height="9.2" fill="#d1d1d1"/>
<rect x="45.6" y="661.76" width="290.73" height="9.2" fill="#d1d1d1"/>
<rect x="45.6" y="671.94" width="290.73" height="9.2" fill="#d1d1d1"/>
<rect x="45.6" y="682.12" width="290.73" height="9.2" fill="#d1d1d1"/>
<rect x="45.6" y="692.3" width="290.73" height="9.2" fill="#d1d1d1"/>
<rect x="45.6" y="702.48" width="290.73" height="9.2" fill="#d1d1d1"/>
<rect x="45.6" y="712.66" width="290.73" height="9.2" fill="#d1d1d1"/>
<rect x="45.6" y="722.84" width="290.73" height="9.2" fill="#d1d1d1"/>
<rect x="45.6" y="733.02" width="290.73" height="9.2" fill="#d1d1d1"/>
<rect x="45.6" y="743.2" width="290.73" height="9.2" fill="#d1d1d1"/>
<rect x="45.6" y="753.38" width="290.73" height="9.2" fill="#d1d1d1"/>
<rect x="45.6" y="763.56" width="290.73" height="9.2" fill="#d1d1d1"/>
<rect x="45.6" y="773.74" width="290.73" height="9.2" fill="#d1d1d1"/>
<rect x="45.6" y="783.92" width="290.73" height="9.2" fill="#d1d1d1"/>
<rect x="45.6" y="794.1" width="290.73" height="9.2" fill="#d1d1d1"/>
<rect x="45.6" y="804.28" width="290.73" height="9.2" fill="#d1d1d1"/>
<rect x="45.6" y="814.46" width="290.73" height="9.2" fill="#d1d1d1"/>
<rect x="45.6" y="824.64" width="290.73" height="9.2" fill="#d1d1d1"/>
<rect x="45.6" y="834.82" width="290.73" height="9.2" fill="#d1d1d1"/>
<rect x="45.6" y="845" width="290.73" height="9.2" fill="#d1d1d1"/>
<rect x="45.6" y="855.18" width="290.73" height="9.2" fill="#d1d1d1"/>
<rect x="45.6" y="865.36" width="290.73" height="9.2" fill="#d1d1d1"/>
<rect x="45.6" y="875.54" width="290.73" height="9.2" fill="#d1d1d1"/>
<rect x="45.6" y="885.72" width="290.73" height="9.2" fill="#d1d1d1"/>
<rect x="45.6" y="899.8" width="290.73" height="9.2" fill="#d1d1d1"/>
<rect x="45.6" y="910" width="290.73" height="9.2" fill="#d1d1d1"/>
<rect x="45.6" y="920.2" width="290.73" height="9.2" fill="#d1d1d1"/>
<rect x="45.6" y="930.4" width="290.73" height="9.2" fill="#d1d1d1"/>
<rect x="45.6" y="940.6" width="290.73" height="9.2" fill="#d1d1d1"/>
<rect x="45.6" y="950.8" width="290.73" height="9.2" fill="#d1d1d1"/>
<rect x="45.6" y="961" width="290.73" height="9.2" fill="#d1d1d1"/>
<rect x="339.05" y="590.5" width="167.08" height="9.2" fill="#d1d1d1"/>
<rect x="339.05" y="600.68" width="167.08" height="9.2" fill="#d1d1d1"/>
<rect x="339.05" y="610.86" width="167.08" height="9.2" fill="#d1d1d1"/>
<rect x="339.05" y="621.04" width="167.08" height="9.2" fill="#d1d1d1"/>
<rect x="339.05" y="631.22" width="167.08" height="9.2" fill="#d1d1d1"/>
<rect x="339.05" y="641.4" width="167.08" height="9.2" fill="#d1d1d1"/>
<rect x="339.05" y="651.58" width="167.08" height="9.2" fill="#d1d1d1"/>
<rect x="339.05" y="661.76" width="167.08" height="9.2" fill="#d1d1d1"/>
<rect x="339.05" y="671.94" width="167.08" height="9.2" fill="#d1d1d1"/>
<rect x="339.05" y="682.12" width="167.08" height="9.2" fill="#d1d1d1"/>
<rect x="339.05" y="692.3" width="167.08" height="9.2" fill="#d1d1d1"/>
<rect x="339.05" y="702.48" width="167.08" height="9.2" fill="#d1d1d1"/>
<rect x="339.05" y="712.66" width="167.08" height="9.2" fill="#d1d1d1"/>
<rect x="339.05" y="722.84" width="167.08" height="9.2" fill="#d1d1d1"/>
<rect x="339.05" y="733.02" width="167.08" height="9.2" fill="#d1d1d1"/>
<rect x="339.05" y="743.2" width="167.08" height="9.2" fill="#d1d1d1"/>
<rect x="339.05" y="753.38" width="167.08" height="9.2" fill="#d1d1d1"/>
<rect x="339.05" y="763.56" width="167.08" height="9.2" fill="#d1d1d1"/>
<rect x="339.05" y="773.74" width="167.08" height="9.2" fill="#d1d1d1"/>
<rect x="339.05" y="783.92" width="167.08" height="9.2" fill="#d1d1d1"/>
<rect x="339.05" y="794.1" width="167.08" height="9.2" fill="#d1d1d1"/>
<rect x="339.05" y="804.28" width="167.08" height="9.2" fill="#d1d1d1"/>
<rect x="339.05" y="814.46" width="167.08" height="9.2" fill="#d1d1d1"/>
<rect x="339.05" y="824.64" width="167.08" height="9.2" fill="#d1d1d1"/>
<rect x="339.05" y="834.82" width="167.08" height="9.2" fill="#d1d1d1"/>
<rect x="339.05" y="845" width="167.08" height="9.2" fill="#d1d1d1"/>
<rect x="339.05" y="855.18" width="167.08" height="9.2" fill="#d1d1d1"/>
<rect x="339.05" y="865.36" width="167.08" height="9.2" fill="#d1d1d1"/>
<rect x="339.05" y="875.54" width="167.08" height="9.2" fill="#d1d1d1"/>
<rect x="339.05" y="885.72" width="167.08" height="9.2" fill="#d1d1d1"/>
<rect x="339.05" y="899.8" width="167.08" height="9.2" fill="#d1d1d1"/>
<rect x="339.05" y="910" width="167.08" height="9.2" fill="#d1d1d1"/>
<rect x="339.05" y="920.2" width="167.08" height="9.2" fill="#d1d1d1"/>
<rect x="339.05" y="930.4" width="167.08" height="9.2" fill="#d1d1d1"/>
<rect x="339.05" y="940.6" width="167.08" height="9.2" fill="#d1d1d1"/>
<rect x="339.05" y="950.8" width="167.08" height="9.2" fill="#d1d1d1"/>
<rect x="339.05" y="961" width="167.08" height="9.2" fill="#d1d1d1"/>
<rect x="508.8" y="590.5" width="63.5" height="9.2" fill="#d1d1d1"/>
<rect x="508.8" y="600.68" width="63.5" height="9.2" fill="#d1d1d1"/>
<rect x="508.8" y="610.86" width="63.5" height="9.2" fill="#d1d1d1"/>
<rect x="508.8" y="621.04" width="63.5" height="9.2" fill="#d1d1d1"/>
<rect x="508.8" y="631.22" width="63.5" height="9.2" fill="#d1d1d1"/>
<rect x="508.8" y="641.4" width="63.5" height="9.2" fill="#d1d1d1"/>
<rect x="508.8" y="651.58" width="63.5" height="9.2" fill="#d1d1d1"/>
<rect x="508.8" y="661.76" width="63.5" height="9.2" fill="#d1d1d1"/>
<rect x="508.8" y="671.94" width="63.5" height="9.2" fill="#d1d1d1"/>
<rect x="508.8" y="682.12" width="63.5" height="9.2" fill="#d1d1d1"/>
<rect x="508.8" y="692.3" width="63.5" height="9.2" fill="#d1d1d1"/>
<rect x="508.8" y="702.48" width="63.5" height="9.2" fill="#d1d1d1"/>
<rect x="508.8" y="712.66" width="63.5" height="9.2" fill="#d1d1d1"/>
<rect x="508.8" y="722.84" width="63.5" height="9.2" fill="#d1d1d1"/>
<rect x="508.8" y="733.02" width="63.5" height="9.2" fill="#d1d1d1"/>
<rect x="508.8" y="743.2" width="63.5" height="9.2" fill="#d1d1d1"/>
<rect x="508.8" y="753.38" width="63.5" height="9.2" fill="#d1d1d1"/>
<rect x="508.8" y="763.56" width="63.5" height="9.2" fill="#d1d1d1"/>
<rect x="508.8" y="773.74" width="63.5" height="9.2" fill="#d1d1d1"/>
<rect x="508.8" y="783.92" width="63.5" height="9.2" fill="#d1d1d1"/>
<rect x="508.8" y="794.1" width="63.5" height="9.2" fill="#d1d1d1"/>
<rect x="508.8" y="804.28" width="63.5" height="9.2" fill="#d1d1d1"/>
<rect x="508.8" y="814.46" width="63.5" height="9.2" fill="#d1d1d1"/>
<rect x="508.8" y="824.64" width="63.5" height="9.2" fill="#d1d1d1"/>
<rect x="508.8" y="834.82" width="63.5" height="9.2" fill="#d1d1d1"/>
<rect x="508.8" y="845" width="63.5" height="9.2" fill="#d1d1d1"/>
<rect x="508.8" y="855.18" width="63.5" height="9.2" fill="#d1d1d1"/>
<rect x="508.8" y="865.36" width="63.5" height="9.2" fill="#d1d1d1"/>
<rect x="508.8" y="875.54" width="63.5" height="9.2" fill="#d1d1d1"/>
<rect x="508.8" y="885.72" width="63.5" height="9.2" fill="#d1d1d1"/>
<rect x="508.8" y="899.8" width="63.5" height="9.2" fill="#d1d1d1"/>
<rect x="508.8" y="910" width="63.5" height="9.2" fill="#d1d1d1"/>
<rect x="508.8" y="920.2" width="63.5" height="9.2" fill="#d1d1d1"/>
<rect x="508.8" y="930.4" width="63.5" height="9.2" fill="#d1d1d1"/>
<rect x="508.8" y="940.6" width="63.5" height="9.2" fill="#d1d1d1"/>
<rect x="508.8" y="950.8" width="63.5" height="9.2" fill="#d1d1d1"/>
<rect x="508.8" y="961" width="63.5" height="9.2" fill="#d1d1d1"/>
<g fill="#fff">
<rect x="48.9" y="590.5" width="0.99" height="379.7"/>
<rect x="53.19" y="590.5" width="0.99" height="379.7"/>
<rect x="57.48" y="590.5" width="0.99" height="379.7"/>
<rect x="61.77" y="590.5" width="0.99" height="379.7"/>
<rect x="66.06" y="590.5" width="0.99" height="379.7"/>
<rect x="70.35" y="590.5" width="0.99" height="379.7"/>
<rect x="74.64" y="590.5" width="0.99" height="379.7"/>
<rect x="78.93" y="590.5" width="0.99" height="379.7"/>
<rect x="83.22" y="590.5" width="0.99" height="379.7"/>
<rect x="87.51" y="590.5" width="0.99" height="379.7"/>
<rect x="91.8" y="590.5" width="0.99" height="379.7"/>
<rect x="96.09" y="590.5" width="0.99" height="379.7"/>
<rect x="100.38" y="590.5" width="0.99" height="379.7"/>
<rect x="104.67" y="590.5" width="0.99" height="379.7"/>
<rect x="108.96" y="590.5" width="0.99" height="379.7"/>
<rect x="113.25" y="590.5" width="0.99" height="379.7"/>
<rect x="117.54" y="590.5" width="0.99" height="379.7"/>
<rect x="121.83" y="590.5" width="0.99" height="379.7"/>
<rect x="126.12" y="590.5" width="0.99" height="379.7"/>
<rect x="130.41" y="590.5" width="0.99" height="379.7"/>
<rect x="134.7" y="590.5" width="0.99" height="379.7"/>
<rect x="138.99" y="590.5" width="0.99" height="379.7"/>
<rect x="143.28" y="590.5" width="0.99" height="379.7"/>
<rect x="147.57" y="590.5" width="0.99" height="379.7"/>
<rect x="151.86" y="590.5" width="0.99" height="379.7"/>
<rect x="156.15" y="590.5" width="0.99" height="379.7"/>
<rect x="160.44" y="590.5" width="0.99" height="379.7"/>
<rect x="164.73" y="590.5" width="0.99" height="379.7"/>
<rect x="169.02" y="590.5" width="0.99" height="379.7"/>
<rect x="173.31" y="590.5" width="0.99" height="379.7"/>
<rect x="177.6" y="590.5" width="0.99" height="379.7"/>
<rect x="181.89" y="590.5" width="0.99" height="379.7"/>
<rect x="186.18" y="590.5" width="0.99" height="379.7"/>
<rect x="190.47" y="590.5" width="0.99" height="379.7"/>
<rect x="194.76" y="590.5" width="0.99" height="379.7"/>
<rect x="199.05" y="590.5" width="0.99" height="379.7"/>
<rect x="203.34" y="590.5" width="0.99" height="379.7"/>
<rect x="207.63" y="590.5" width="0.99" height="379.7"/>
<rect x="211.92" y="590.5" width="0.99" height="379.7"/>
<rect x="216.21" y="590.5" width="0.99" height="379.7"/>
<rect x="220.5" y="590.5" width="0.99" height="379.7"/>
<rect x="224.79" y="590.5" width="0.99" height="379.7"/>
<rect x="229.08" y="590.5" width="0.99" height="379.7"/>
<rect x="233.37" y="590.5" width="0.99" height="379.7"/>
<rect x="237.66" y="590.5" width="0.99" height="379.7"/>
<rect x="241.95" y="590.5" width="0.99" height="379.7"/>
<rect x="246.24" y="590.5" width="0.99" height="379.7"/>
<rect x="250.53" y="590.5" width="0.99" height="379.7"/>
<rect x="254.82" y="590.5" width="0.99" height="379.7"/>
<rect x="259.11" y="590.5" width="0.99" height="379.7"/>
<rect x="263.4" y="590.5" width="0.99" height="379.7"/>
<rect x="267.69" y="590.5" width="0.99" height="379.7"/>
<rect x="271.98" y="590.5" width="0.99" height="379.7"/>
<rect x="276.27" y="590.5" width="0.99" height="379.7"/>
<rect x="280.56" y="590.5" width="0.99" height="379.7"/>
<rect x="284.85" y="590.5" width="0.99" height="379.7"/>
<rect x="289.14" y="590.5" width="0.99" height="379.7"/>
<rect x="293.43" y="590.5" width="0.99" height="379.7"/>
<rect x="297.72" y="590.5" width="0.99" height="379.7"/>
<rect x="302.01" y="590.5" width="0.99" height="379.7"/>
<rect x="306.3" y="590.5" width="0.99" height="379.7"/>
<rect x="310.59" y="590.5" width="0.99" height="379.7"/>
<rect x="314.88" y="590.5" width="0.99" height="379.7"/>
<rect x="319.17" y="590.5" width="0.99" height="379.7"/>
<rect x="323.46" y="590.5" width="0.99" height="379.7"/>
<rect x="327.75" y="590.5" width="0.99" height="379.7"/>
<rect x="332.04" y="590.5" width="0.99" height="379.7"/>
<rect x="342.35" y="590.5" width="1.01" height="379.7"/>
<rect x="346.66" y="590.5" width="1.01" height="379.7"/>
<rect x="350.97" y="590.5" width="1.01" height="379.7"/>
<rect x="355.28" y="590.5" width="1.01" height="379.7"/>
<rect x="359.59" y="590.5" width="1.01" height="379.7"/>
<rect x="363.9" y="590.5" width="1.01" height="379.7"/>
<rect x="368.21" y="590.5" width="1.01" height="379.7"/>
<rect x="372.52" y="590.5" width="1.01" height="379.7"/>
<rect x="376.83" y="590.5" width="1.01" height="379.7"/>
<rect x="381.14" y="590.5" width="1.01" height="379.7"/>
<rect x="385.45" y="590.5" width="1.01" height="379.7"/>
<rect x="389.76" y="590.5" width="1.01" height="379.7"/>
<rect x="394.07" y="590.5" width="1.01" height="379.7"/>
<rect x="398.38" y="590.5" width="1.01" height="379.7"/>
<rect x="402.69" y="590.5" width="1.01" height="379.7"/>
<rect x="407" y="590.5" width="1.01" height="379.7"/>
<rect x="411.31" y="590.5" width="1.01" height="379.7"/>
<rect x="415.62" y="590.5" width="1.01" height="379.7"/>
<rect x="419.93" y="590.5" width="1.01" height="379.7"/>
<rect x="424.24" y="590.5" width="1.01" height="379.7"/>
<rect x="428.55" y="590.5" width="1.01" height="379.7"/>
<rect x="432.86" y="590.5" width="1.01" height="379.7"/>
<rect x="437.17" y="590.5" width="1.01" height="379.7"/>
<rect x="441.48" y="590.5" width="1.01" height="379.7"/>
<rect x="445.79" y="590.5" width="1.01" height="379.7"/>
<rect x="450.1" y="590.5" width="1.01" height="379.7"/>
<rect x="454.41" y="590.5" width="1.01" height="379.7"/>
<rect x="458.72" y="590.5" width="1.01" height="379.7"/>
<rect x="463.03" y="590.5" width="1.01" height="379.7"/>
<rect x="467.34" y="590.5" width="1.01" height="379.7"/>
<rect x="471.65" y="590.5" width="1.01" height="379.7"/>
<rect x="475.96" y="590.5" width="1.01" height="379.7"/>
<rect x="480.27" y="590.5" width="1.01" height="379.7"/>
<rect x="484.58" y="590.5" width="1.01" height="379.7"/>
<rect x="488.89" y="590.5" width="1.01" height="379.7"/>
<rect x="493.2" y="590.5" width="1.01" height="379.7"/>
<rect x="497.51" y="590.5" width="1.01" height="379.7"/>
<rect x="501.82" y="590.5" width="1.01" height="379.7"/>
<rect x="512.1" y="590.5" width="1" height="379.7"/>
<rect x="516.4" y="590.5" width="1" height="379.7"/>
<rect x="520.7" y="590.5" width="1" height="379.7"/>
<rect x="525" y="590.5" width="1" height="379.7"/>
<rect x="529.3" y="590.5" width="1" height="379.7"/>
<rect x="533.6" y="590.5" width="1" height="379.7"/>
<rect x="537.9" y="590.5" width="1" height="379.7"/>
<rect x="542.2" y="590.5" width="1" height="379.7"/>
<rect x="546.5" y="590.5" width="1" height="379.7"/>
<rect x="550.8" y="590.5" width="1" height="379.7"/>
<rect x="555.1" y="590.5" width="1" height="379.7"/>
<rect x="559.4" y="590.5" width="1" height="379.7"/>
<rect x="563.7" y="590.5" width="1" height="379.7"/>
<rect x="568" y="590.5" width="1" height="379.7"/>
</g>
<rect x="45.6" y="590.5" width="3.3" height="9.2" fill="#5aa9d1"/>
<rect x="49.89" y="590.5" width="3.3" height="9.2" fill="#5aa9d1"/>
<rect x="54.18" y="590.5" width="3.3" height="9.2" fill="#2d3982"/>
<rect x="58.47" y="590.5" width="3.3" height="9.2" fill="#2d3982"/>
<rect x="62.76" y="590.5" width="3.3" height="9.2" fill="#2d3982"/>
<rect x="67.05" y="590.5" width="3.3" height="9.2" fill="#2d3982"/>
<rect x="71.34" y="590.5" width="3.3" height="9.2" fill="#a9d0e6"/>
<rect x="75.63" y="590.5" width="3.3" height="9.2" fill="#5aa9d1"/>
<rect x="79.92" y="590.5" width="3.3" height="9.2" fill="#4a7ca5"/>
<rect x="84.21" y="590.5" width="3.3" height="9.2" fill="#4a7ca5"/>
<rect x="88.5" y="590.5" width="3.3" height="9.2" fill="#a9d0e6"/>
<rect x="92.79" y="590.5" width="3.3" height="9.2" fill="#a9d0e6"/>
<rect x="97.08" y="590.5" width="3.3" height="9.2" fill="#4a7ca5"/>
<rect x="101.37" y="590.5" width="3.3" height="9.2" fill="#2d3982"/>
<rect x="105.66" y="590.5" width="3.3" height="9.2" fill="#4a7ca5"/>
<rect x="109.95" y="590.5" width="3.3" height="9.2" fill="#2d3982"/>
<rect x="114.24" y="590.5" width="3.3" height="9.2" fill="#2d3982"/>
<rect x="118.53" y="590.5" width="3.3" height="9.2" fill="#2d3982"/>
<rect x="122.82" y="590.5" width="3.3" height="9.2" fill="#5aa9d1"/>
<rect x="127.11" y="590.5" width="3.3" height="9.2" fill="#2d3982"/>
<rect x="131.4" y="590.5" width="3.3" height="9.2" fill="#2d3982"/>
<rect x="135.69" y="590.5" width="3.3" height="9.2" fill="#a9d0e6"/>
<rect x="139.98" y="590.5" width="3.3" height="9.2" fill="#4a7ca5"/>
<rect x="144.27" y="590.5" width="3.3" height="9.2" fill="#5aa9d1"/>
<rect x="148.56" y="590.5" width="3.3" height="9.2" fill="#2d3982"/>
<rect x="152.85" y="590.5" width="3.3" height="9.2" fill="#2d3982"/>
<rect x="157.14" y="590.5" width="3.3" height="9.2" fill="#2d3982"/>
<rect x="161.43" y="590.5" width="3.3" height="9.2" fill="#5aa9d1"/>
<rect x="165.72" y="590.5" width="3.3" height="9.2" fill="#f3b8cb"/>
<rect x="170.01" y="590.5" width="3.3" height="9.2" fill="#eeee6a"/>
<rect x="174.3" y="590.5" width="3.3" height="9.2" fill="#4a7ca5"/>
<rect x="178.59" y="590.5" width="3.3" height="9.2" fill="#93bf69"/>
<rect x="182.88" y="590.5" width="3.3" height="9.2" fill="#4a7ca5"/>
<rect x="187.17" y="590.5" width="3.3" height="9.2" fill="#2d3982"/>
<rect x="191.46" y="590.5" width="3.3" height="9.2" fill="#4a7ca5"/>
<rect x="195.75" y="590.5" width="3.3" height="9.2" fill="#2d3982"/>
<rect x="200.04" y="590.5" width="3.3" height="9.2" fill="#2d3982"/>
<rect x="204.33" y="590.5" width="3.3" height="9.2" fill="#2d3982"/>
<rect x="208.62" y="590.5" width="3.3" height="9.2" fill="#2d3982"/>
<rect x="212.91" y="590.5" width="3.3" height="9.2" fill="#5aa9d1"/>
<rect x="217.2" y="590.5" width="3.3" height="9.2" fill="#2d3982"/>
<rect x="221.49" y="590.5" width="3.3" height="9.2" fill="#a9d0e6"/>
<rect x="225.78" y="590.5" width="3.3" height="9.2" fill="#2d3982"/>
<rect x="230.07" y="590.5" width="3.3" height="9.2" fill="#2d3982"/>
<rect x="234.36" y="590.5" width="3.3" height="9.2" fill="#f3b8cb"/>
<rect x="238.65" y="590.5" width="3.3" height="9.2" fill="#2d3982"/>
<rect x="242.94" y="590.5" width="3.3" height="9.2" fill="#4a7ca5"/>
<rect x="247.23" y="590.5" width="3.3" height="9.2" fill="#2d3982"/>
<rect x="251.52" y="590.5" width="3.3" height="9.2" fill="#2d3982"/>
<rect x="339.05" y="590.5" width="3.3" height="9.2" fill="#2d3982"/>
<rect x="343.36" y="590.5" width="3.3" height="9.2" fill="#c9aee0"/>
<rect x="347.67" y="590.5" width="3.3" height="9.2" fill="#4a7ca5"/>
<rect x="351.98" y="590.5" width="3.3" height="9.2" fill="#2d3982"/>
<rect x="356.29" y="590.5" width="3.3" height="9.2" fill="#a9d0e6"/>
<rect x="360.6" y="590.5" width="3.3" height="9.2" fill="#93bf69"/>
<rect x="364.91" y="590.5" width="3.3" height="9.2" fill="#2d3982"/>
<rect x="369.22" y="590.5" width="3.3" height="9.2" fill="#2d3982"/>
<rect x="373.53" y="590.5" width="3.3" height="9.2" fill="#2d3982"/>
<rect x="377.84" y="590.5" width="3.3" height="9.2" fill="#2d3982"/>
<rect x="382.15" y="590.5" width="3.3" height="9.2" fill="#eeee6a"/>
<rect x="386.46" y="590.5" width="3.3" height="9.2" fill="#a9d0e6"/>
<rect x="390.77" y="590.5" width="3.3" height="9.2" fill="#2d3982"/>
<rect x="395.08" y="590.5" width="3.3" height="9.2" fill="#2d3982"/>
<rect x="399.39" y="590.5" width="3.3" height="9.2" fill="#4a7ca5"/>
<rect x="403.7" y="590.5" width="3.3" height="9.2" fill="#5aa9d1"/>
<rect x="408.01" y="590.5" width="3.3" height="9.2" fill="#5aa9d1"/>
<rect x="412.32" y="590.5" width="3.3" height="9.2" fill="#f3b8cb"/>
<rect x="416.63" y="590.5" width="3.3" height="9.2" fill="#a9d0e6"/>
<rect x="420.94" y="590.5" width="3.3" height="9.2" fill="#4a7ca5"/>
<rect x="425.25" y="590.5" width="3.3" height="9.2" fill="#2d3982"/>
<rect x="429.56" y="590.5" width="3.3" height="9.2" fill="#5aa9d1"/>
<rect x="433.87" y="590.5" width="3.3" height="9.2" fill="#2d3982"/>
<rect x="438.18" y="590.5" width="3.3" height="9.2" fill="#4a7ca5"/>
<rect x="442.49" y="590.5" width="3.3" height="9.2" fill="#5aa9d1"/>
<rect x="446.8" y="590.5" width="3.3" height="9.2" fill="#5aa9d1"/>
<rect x="451.11" y="590.5" width="3.3" height="9.2" fill="#2d3982"/>
<rect x="455.42" y="590.5" width="3.3" height="9.2" fill="#4a7ca5"/>
<rect x="459.73" y="590.5" width="3.3" height="9.2" fill="#f3b8cb"/>
<rect x="464.04" y="590.5" width="3.3" height="9.2" fill="#a9d0e6"/>
<rect x="468.35" y="590.5" width="3.3" height="9.2" fill="#4a7ca5"/>
<rect x="472.66" y="590.5" width="3.3" height="9.2" fill="#5aa9d1"/>
<rect x="476.97" y="590.5" width="3.3" height="9.2" fill="#f3b8cb"/>
<rect x="481.28" y="590.5" width="3.3" height="9.2" fill="#2d3982"/>
<rect x="485.59" y="590.5" width="3.3" height="9.2" fill="#4a7ca5"/>
<rect x="508.8" y="590.5" width="3.3" height="9.2" fill="#2d3982"/>
<rect x="513.1" y="590.5" width="3.3" height="9.2" fill="#f3b8cb"/>
<rect x="517.4" y="590.5" width="3.3" height="9.2" fill="#eeee6a"/>
<rect x="521.7" y="590.5" width="3.3" height="9.2" fill="#2d3982"/>
<rect x="526" y="590.5" width="3.3" height="9.2" fill="#2d3982"/>
<rect x="530.3" y="590.5" width="3.3" height="9.2" fill="#2d3982"/>
<rect x="534.6" y="590.5" width="3.3" height="9.2" fill="#4a7ca5"/>
<rect x="538.9" y="590.5" width="3.3" height="9.2" fill="#2d3982"/>
<rect x="543.2" y="590.5" width="3.3" height="9.2" fill="#2d3982"/>
<rect x="547.5" y="590.5" width="3.3" height="9.2" fill="#2d3982"/>
<rect x="551.8" y="590.5" width="3.3" height="9.2" fill="#4a7ca5"/>
<rect x="556.1" y="590.5" width="3.3" height="9.2" fill="#2d3982"/>
<rect x="560.4" y="590.5" width="3.3" height="9.2" fill="#4a7ca5"/>
<rect x="45.6" y="600.68" width="3.3" height="9.2" fill="#2d3982"/>
<rect x="49.89" y="600.68" width="3.3" height="9.2" fill="#2d3982"/>
<rect x="54.18" y="600.68" width="3.3" height="9.2" fill="#2d3982"/>
<rect x="58.47" y="600.68" width="3.3" height="9.2" fill="#2d3982"/>
<rect x="62.76" y="600.68" width="3.3" height="9.2" fill="#2d3982"/>
<rect x="255.81" y="600.68" width="3.3" height="9.2" fill="#2d3982"/>
<rect x="260.1" y="600.68" width="3.3" height="9.2" fill="#2d3982"/>
<rect x="264.39" y="600.68" width="3.3" height="9.2" fill="#2d3982"/>
<rect x="268.68" y="600.68" width="3.3" height="9.2" fill="#2d3982"/>
<rect x="339.05" y="600.68" width="3.3" height="9.2" fill="#2d3982"/>
<rect x="343.36" y="600.68" width="3.3" height="9.2" fill="#2d3982"/>
<rect x="347.67" y="600.68" width="3.3" height="9.2" fill="#2d3982"/>
<rect x="351.98" y="600.68" width="3.3" height="9.2" fill="#2d3982"/>
<rect x="508.8" y="600.68" width="3.3" height="9.2" fill="#2d3982"/>
<rect x="513.1" y="600.68" width="3.3" height="9.2" fill="#2d3982"/>
<rect x="517.4" y="600.68" width="3.3" height="9.2" fill="#2d3982"/>
<rect x="45.6" y="610.86" width="3.3" height="9.2" fill="#2d3982"/>
<rect x="67.05" y="610.86" width="3.3" height="9.2" fill="#5aa9d1"/>
<rect x="71.34" y="610.86" width="3.3" height="9.2" fill="#2d3982"/>
<rect x="75.63" y="610.86" width="3.3" height="9.2" fill="#2d3982"/>
<rect x="79.92" y="610.86" width="3.3" height="9.2" fill="#2d3982"/>
<rect x="84.21" y="610.86" width="3.3" height="9.2" fill="#2d3982"/>
<rect x="88.5" y="610.86" width="3.3" height="9.2" fill="#2d3982"/>
<rect x="272.97" y="610.86" width="3.3" height="9.2" fill="#2d3982"/>
<rect x="356.29" y="610.86" width="3.3" height="9.2" fill="#2d3982"/>
<rect x="360.6" y="610.86" width="3.3" height="9.2" fill="#2d3982"/>
<rect x="364.91" y="610.86" width="3.3" height="9.2" fill="#5aa9d1"/>
<rect x="369.22" y="610.86" width="3.3" height="9.2" fill="#5aa9d1"/>
<rect x="489.9" y="610.86" width="3.3" height="9.2" fill="#2d3982"/>
<rect x="521.7" y="610.86" width="3.3" height="9.2" fill="#2d3982"/>
<rect x="526" y="610.86" width="3.3" height="9.2" fill="#2d3982"/>
<rect x="49.89" y="621.04" width="3.3" height="9.2" fill="#2d3982"/>
<rect x="67.05" y="621.04" width="3.3" height="9.2" fill="#2d3982"/>
<rect x="92.79" y="621.04" width="3.3" height="9.2" fill="#2d3982"/>
<rect x="97.08" y="621.04" width="3.3" height="9.2" fill="#2d3982"/>
<rect x="101.37" y="621.04" width="3.3" height="9.2" fill="#2d3982"/>
<rect x="105.66" y="621.04" width="3.3" height="9.2" fill="#2d3982"/>
<rect x="277.26" y="621.04" width="3.3" height="9.2" fill="#2d3982"/>
<rect x="356.29" y="621.04" width="3.3" height="9.2" fill="#2d3982"/>
<rect x="360.6" y="621.04" width="3.3" height="9.2" fill="#2d3982"/>
<rect x="373.53" y="621.04" width="3.3" height="9.2" fill="#2d3982"/>
<rect x="530.3" y="621.04" width="3.3" height="9.2" fill="#2d3982"/>
<rect x="71.34" y="631.22" width="3.3" height="9.2" fill="#f3b8cb"/>
<rect x="92.79" y="631.22" width="3.3" height="9.2" fill="#2d3982"/>
<rect x="109.95" y="631.22" width="3.3" height="9.2" fill="#c9aee0"/>
<rect x="277.26" y="631.22" width="3.3" height="9.2" fill="#5aa9d1"/>
<rect x="281.55" y="631.22" width="3.3" height="9.2" fill="#5aa9d1"/>
<rect x="285.84" y="631.22" width="3.3" height="9.2" fill="#a9d0e6"/>
<rect x="339.05" y="631.22" width="3.3" height="9.2" fill="#c9aee0"/>
<rect x="377.84" y="631.22" width="3.3" height="9.2" fill="#f3b8cb"/>
<rect x="521.7" y="631.22" width="3.3" height="9.2" fill="#eeee6a"/>
<rect x="114.24" y="641.4" width="3.3" height="9.2" fill="#eeee6a"/>
<rect x="364.91" y="641.4" width="3.3" height="9.2" fill="#2d3982"/>
<rect x="382.15" y="641.4" width="3.3" height="9.2" fill="#c9aee0"/>
<rect x="386.46" y="641.4" width="3.3" height="9.2" fill="#4a7ca5"/>
<rect x="390.77" y="641.4" width="3.3" height="9.2" fill="#eeee6a"/>
<rect x="395.08" y="641.4" width="3.3" height="9.2" fill="#a9d0e6"/>
<rect x="399.39" y="641.4" width="3.3" height="9.2" fill="#4a7ca5"/>
<rect x="403.7" y="641.4" width="3.3" height="9.2" fill="#5aa9d1"/>
<rect x="534.6" y="641.4" width="3.3" height="9.2" fill="#2d3982"/>
<rect x="75.63" y="651.58" width="3.3" height="9.2" fill="#5aa9d1"/>
<rect x="118.53" y="651.58" width="3.3" height="9.2" fill="#eeee6a"/>
<rect x="122.82" y="651.58" width="3.3" height="9.2" fill="#c9aee0"/>
<rect x="127.11" y="651.58" width="3.3" height="9.2" fill="#4a7ca5"/>
<rect x="131.4" y="651.58" width="3.3" height="9.2" fill="#5aa9d1"/>
<rect x="135.69" y="651.58" width="3.3" height="9.2" fill="#a9d0e6"/>
<rect x="343.36" y="651.58" width="3.3" height="9.2" fill="#a9d0e6"/>
<rect x="377.84" y="651.58" width="3.3" height="9.2" fill="#5aa9d1"/>
<rect x="54.18" y="661.76" width="3.3" height="9.2" fill="#2d3982"/>
<rect x="139.98" y="661.76" width="3.3" height="9.2" fill="#2d3982"/>
<rect x="255.81" y="661.76" width="3.3" height="9.2" fill="#2d3982"/>
<rect x="290.13" y="661.76" width="3.3" height="9.2" fill="#2d3982"/>
<rect x="508.8" y="661.76" width="3.3" height="9.2" fill="#2d3982"/>
<rect x="513.1" y="661.76" width="3.3" height="9.2" fill="#4a7ca5"/>
<rect x="564.7" y="661.76" width="3.3" height="9.2" fill="#2d3982"/>
<rect x="75.63" y="671.94" width="3.3" height="9.2" fill="#5aa9d1"/>
<rect x="260.1" y="671.94" width="3.3" height="9.2" fill="#2d3982"/>
<rect x="281.55" y="671.94" width="3.3" height="9.2" fill="#2d3982"/>
<rect x="294.42" y="671.94" width="3.3" height="9.2" fill="#2d3982"/>
<rect x="408.01" y="671.94" width="3.3" height="9.2" fill="#2d3982"/>
<rect x="526" y="671.94" width="3.3" height="9.2" fill="#2d3982"/>
<rect x="538.9" y="671.94" width="3.3" height="9.2" fill="#2d3982"/>
<rect x="144.27" y="682.12" width="3.3" height="9.2" fill="#2d3982"/>
<rect x="148.56" y="682.12" width="3.3" height="9.2" fill="#2d3982"/>
<rect x="152.85" y="682.12" width="3.3" height="9.2" fill="#c9aee0"/>
<rect x="298.71" y="682.12" width="3.3" height="9.2" fill="#2d3982"/>
<rect x="356.29" y="682.12" width="3.3" height="9.2" fill="#2d3982"/>
<rect x="412.32" y="682.12" width="3.3" height="9.2" fill="#2d3982"/>
<rect x="416.63" y="682.12" width="3.3" height="9.2" fill="#2d3982"/>
<rect x="58.47" y="692.3" width="3.3" height="9.2" fill="#5aa9d1"/>
<rect x="62.76" y="692.3" width="3.3" height="9.2" fill="#a9d0e6"/>
<rect x="157.14" y="692.3" width="3.3" height="9.2" fill="#2d3982"/>
<rect x="303" y="692.3" width="3.3" height="9.2" fill="#eeee6a"/>
<rect x="420.94" y="692.3" width="3.3" height="9.2" fill="#4a7ca5"/>
<rect x="508.8" y="692.3" width="3.3" height="9.2" fill="#5aa9d1"/>
<rect x="564.7" y="692.3" width="3.3" height="9.2" fill="#5aa9d1"/>
<rect x="118.53" y="702.48" width="3.3" height="9.2" fill="#2d3982"/>
<rect x="161.43" y="702.48" width="3.3" height="9.2" fill="#2d3982"/>
<rect x="165.72" y="702.48" width="3.3" height="9.2" fill="#4a7ca5"/>
<rect x="281.55" y="702.48" width="3.3" height="9.2" fill="#c9aee0"/>
<rect x="294.42" y="702.48" width="3.3" height="9.2" fill="#2d3982"/>
<rect x="307.29" y="702.48" width="3.3" height="9.2" fill="#2d3982"/>
<rect x="311.58" y="702.48" width="3.3" height="9.2" fill="#a9d0e6"/>
<rect x="92.79" y="712.66" width="3.3" height="9.2" fill="#a9d0e6"/>
<rect x="157.14" y="712.66" width="3.3" height="9.2" fill="#a9d0e6"/>
<rect x="170.01" y="712.66" width="3.3" height="9.2" fill="#4a7ca5"/>
<rect x="360.6" y="712.66" width="3.3" height="9.2" fill="#2d3982"/>
<rect x="425.25" y="712.66" width="3.3" height="9.2" fill="#2d3982"/>
<rect x="429.56" y="712.66" width="3.3" height="9.2" fill="#eeee6a"/>
<rect x="118.53" y="722.84" width="3.3" height="9.2" fill="#2d3982"/>
<rect x="174.3" y="722.84" width="3.3" height="9.2" fill="#2d3982"/>
<rect x="255.81" y="722.84" width="3.3" height="9.2" fill="#2d3982"/>
<rect x="425.25" y="722.84" width="3.3" height="9.2" fill="#2d3982"/>
<rect x="433.87" y="722.84" width="3.3" height="9.2" fill="#2d3982"/>
<rect x="489.9" y="722.84" width="3.3" height="9.2" fill="#2d3982"/>
<rect x="79.92" y="733.02" width="3.3" height="9.2" fill="#2d3982"/>
<rect x="97.08" y="733.02" width="3.3" height="9.2" fill="#2d3982"/>
<rect x="264.39" y="733.02" width="3.3" height="9.2" fill="#4a7ca5"/>
<rect x="307.29" y="733.02" width="3.3" height="9.2" fill="#f3b8cb"/>
<rect x="425.25" y="733.02" width="3.3" height="9.2" fill="#4a7ca5"/>
<rect x="438.18" y="733.02" width="3.3" height="9.2" fill="#2d3982"/>
<rect x="58.47" y="743.2" width="3.3" height="9.2" fill="#f3b8cb"/>
<rect x="84.21" y="743.2" width="3.3" height="9.2" fill="#2d3982"/>
<rect x="122.82" y="743.2" width="3.3" height="9.2" fill="#2d3982"/>
<rect x="178.59" y="743.2" width="3.3" height="9.2" fill="#c9aee0"/>
<rect x="277.26" y="743.2" width="3.3" height="9.2" fill="#2d3982"/>
<rect x="298.71" y="743.2" width="3.3" height="9.2" fill="#2d3982"/>
<rect x="109.95" y="753.38" width="3.3" height="9.2" fill="#2d3982"/>
<rect x="144.27" y="753.38" width="3.3" height="9.2" fill="#2d3982"/>
<rect x="182.88" y="753.38" width="3.3" height="9.2" fill="#2d3982"/>
<rect x="187.17" y="753.38" width="3.3" height="9.2" fill="#5aa9d1"/>
<rect x="360.6" y="753.38" width="3.3" height="9.2" fill="#2d3982"/>
<rect x="442.49" y="753.38" width="3.3" height="9.2" fill="#4a7ca5"/>
<rect x="45.6" y="763.56" width="3.3" height="9.2" fill="#2d3982"/>
<rect x="170.01" y="763.56" width="3.3" height="9.2" fill="#a9d0e6"/>
<rect x="360.6" y="763.56" width="3.3" height="9.2" fill="#4a7ca5"/>
<rect x="446.8" y="763.56" width="3.3" height="9.2" fill="#2d3982"/>
<rect x="494.21" y="763.56" width="3.3" height="9.2" fill="#eeee6a"/>
<rect x="530.3" y="763.56" width="3.3" height="9.2" fill="#2d3982"/>
<rect x="139.98" y="773.74" width="3.3" height="9.2" fill="#2d3982"/>
<rect x="144.27" y="773.74" width="3.3" height="9.2" fill="#4a7ca5"/>
<rect x="191.46" y="773.74" width="3.3" height="9.2" fill="#2d3982"/>
<rect x="255.81" y="773.74" width="3.3" height="9.2" fill="#2d3982"/>
<rect x="260.1" y="773.74" width="3.3" height="9.2" fill="#2d3982"/>
<rect x="268.68" y="773.74" width="3.3" height="9.2" fill="#2d3982"/>
<rect x="49.89" y="783.92" width="3.3" height="9.2" fill="#2d3982"/>
<rect x="195.75" y="783.92" width="3.3" height="9.2" fill="#5aa9d1"/>
<rect x="364.91" y="783.92" width="3.3" height="9.2" fill="#4a7ca5"/>
<rect x="451.11" y="783.92" width="3.3" height="9.2" fill="#4a7ca5"/>
<rect x="543.2" y="783.92" width="3.3" height="9.2" fill="#4a7ca5"/>
<rect x="547.5" y="783.92" width="3.3" height="9.2" fill="#5aa9d1"/>
<rect x="54.18" y="794.1" width="3.3" height="9.2" fill="#2d3982"/>
<rect x="127.11" y="794.1" width="3.3" height="9.2" fill="#2d3982"/>
<rect x="161.43" y="794.1" width="3.3" height="9.2" fill="#2d3982"/>
<rect x="382.15" y="794.1" width="3.3" height="9.2" fill="#2d3982"/>
<rect x="455.42" y="794.1" width="3.3" height="9.2" fill="#2d3982"/>
<rect x="122.82" y="804.28" width="3.3" height="9.2" fill="#2d3982"/>
<rect x="178.59" y="804.28" width="3.3" height="9.2" fill="#2d3982"/>
<rect x="360.6" y="804.28" width="3.3" height="9.2" fill="#2d3982"/>
<rect x="451.11" y="804.28" width="3.3" height="9.2" fill="#2d3982"/>
<rect x="459.73" y="804.28" width="3.3" height="9.2" fill="#2d3982"/>
<rect x="182.88" y="814.46" width="3.3" height="9.2" fill="#2d3982"/>
<rect x="373.53" y="814.46" width="3.3" height="9.2" fill="#2d3982"/>
<rect x="412.32" y="814.46" width="3.3" height="9.2" fill="#4a7ca5"/>
<rect x="459.73" y="814.46" width="3.3" height="9.2" fill="#4a7ca5"/>
<rect x="564.7" y="814.46" width="3.3" height="9.2" fill="#f3b8cb"/>
<rect x="92.79" y="824.64" width="3.3" height="9.2" fill="#2d3982"/>
<rect x="122.82" y="824.64" width="3.3" height="9.2" fill="#2d3982"/>
<rect x="191.46" y="824.64" width="3.3" height="9.2" fill="#2d3982"/>
<rect x="464.04" y="824.64" width="3.3" height="9.2" fill="#4a7ca5"/>
<rect x="356.29" y="834.82" width="3.3" height="9.2" fill="#2d3982"/>
<rect x="364.91" y="834.82" width="3.3" height="9.2" fill="#2d3982"/>
<rect x="513.1" y="834.82" width="3.3" height="9.2" fill="#2d3982"/>
<rect x="521.7" y="834.82" width="3.3" height="9.2" fill="#2d3982"/>
<rect x="356.29" y="845" width="3.3" height="9.2" fill="#2d3982"/>
<rect x="459.73" y="845" width="3.3" height="9.2" fill="#2d3982"/>
<rect x="513.1" y="845" width="3.3" height="9.2" fill="#2d3982"/>
<rect x="543.2" y="845" width="3.3" height="9.2" fill="#2d3982"/>
<rect x="200.04" y="855.18" width="3.3" height="9.2" fill="#2d3982"/>
<rect x="204.33" y="855.18" width="3.3" height="9.2" fill="#2d3982"/>
<rect x="315.87" y="855.18" width="3.3" height="9.2" fill="#2d3982"/>
<rect x="526" y="855.18" width="3.3" height="9.2" fill="#5aa9d1"/>
<rect x="264.39" y="865.36" width="3.3" height="9.2" fill="#2d3982"/>
<rect x="386.46" y="865.36" width="3.3" height="9.2" fill="#2d3982"/>
<rect x="408.01" y="865.36" width="3.3" height="9.2" fill="#4a7ca5"/>
<rect x="526" y="865.36" width="3.3" height="9.2" fill="#2d3982"/>
<rect x="200.04" y="875.54" width="3.3" height="9.2" fill="#2d3982"/>
<rect x="429.56" y="875.54" width="3.3" height="9.2" fill="#2d3982"/>
<rect x="468.35" y="875.54" width="3.3" height="9.2" fill="#2d3982"/>
<rect x="526" y="875.54" width="3.3" height="9.2" fill="#2d3982"/>
<rect x="75.63" y="885.72" width="3.3" height="9.2" fill="#c9aee0"/>
<rect x="101.37" y="885.72" width="3.3" height="9.2" fill="#2d3982"/>
<rect x="144.27" y="885.72" width="3.3" height="9.2" fill="#2d3982"/>
<rect x="360.6" y="885.72" width="3.3" height="9.2" fill="#2d3982"/>
<rect x="67.05" y="899.8" width="3.3" height="9.2" fill="#e5525a"/>
<rect x="114.24" y="899.8" width="3.3" height="9.2" fill="#e5525a"/>
<rect x="157.14" y="899.8" width="3.3" height="9.2" fill="#e5525a"/>
<rect x="170.01" y="899.8" width="3.3" height="9.2" fill="#e5525a"/>
<rect x="182.88" y="899.8" width="3.3" height="9.2" fill="#e5525a"/>
<rect x="208.62" y="899.8" width="3.3" height="9.2" fill="#e5525a"/>
<rect x="217.2" y="899.8" width="3.3" height="9.2" fill="#e5525a"/>
<rect x="339.05" y="899.8" width="3.3" height="9.2" fill="#e5525a"/>
<rect x="386.46" y="899.8" width="3.3" height="9.2" fill="#e5525a"/>
<rect x="408.01" y="899.8" width="3.3" height="9.2" fill="#e5525a"/>
<rect x="530.3" y="899.8" width="3.3" height="9.2" fill="#e5525a"/>
<rect x="67.05" y="910" width="3.3" height="9.2" fill="#e5525a"/>
<rect x="92.79" y="910" width="3.3" height="9.2" fill="#e5525a"/>
<rect x="157.14" y="910" width="3.3" height="9.2" fill="#e5525a"/>
<rect x="290.13" y="910" width="3.3" height="9.2" fill="#e5525a"/>
<rect x="360.6" y="910" width="3.3" height="9.2" fill="#e5525a"/>
<rect x="399.39" y="910" width="3.3" height="9.2" fill="#e5525a"/>
<rect x="543.2" y="910" width="3.3" height="9.2" fill="#e5525a"/>
<rect x="92.79" y="920.2" width="3.3" height="9.2" fill="#e5525a"/>
<rect x="101.37" y="920.2" width="3.3" height="9.2" fill="#e5525a"/>
<rect x="272.97" y="920.2" width="3.3" height="9.2" fill="#e5525a"/>
<rect x="377.84" y="920.2" width="3.3" height="9.2" fill="#e5525a"/>
<rect x="403.7" y="920.2" width="3.3" height="9.2" fill="#e5525a"/>
<rect x="433.87" y="920.2" width="3.3" height="9.2" fill="#e5525a"/>
<rect x="174.3" y="930.4" width="3.3" height="9.2" fill="#70c2de"/>
<rect x="390.77" y="930.4" width="3.3" height="9.2" fill="#70c2de"/>
<rect x="395.08" y="930.4" width="3.3" height="9.2" fill="#70c2de"/>
<rect x="429.56" y="930.4" width="3.3" height="9.2" fill="#70c2de"/>
<rect x="472.66" y="930.4" width="3.3" height="9.2" fill="#70c2de"/>
<rect x="84.21" y="940.6" width="3.3" height="9.2" fill="#e5525a"/>
<rect x="144.27" y="940.6" width="3.3" height="9.2" fill="#e5525a"/>
<rect x="360.6" y="940.6" width="3.3" height="9.2" fill="#e5525a"/>
<rect x="408.01" y="940.6" width="3.3" height="9.2" fill="#e5525a"/>
<rect x="54.18" y="950.8" width="3.3" height="9.2" fill="#e5525a"/>
<rect x="182.88" y="950.8" width="3.3" height="9.2" fill="#e5525a"/>
<rect x="242.94" y="950.8" width="3.3" height="9.2" fill="#e5525a"/>
<rect x="517.4" y="950.8" width="3.3" height="9.2" fill="#e5525a"/>
<rect x="390.77" y="961" width="3.3" height="9.2" fill="#70c2de"/>
<rect x="395.08" y="961" width="3.3" height="9.2" fill="#70c2de"/>
<rect x="399.39" y="961" width="3.3" height="9.2" fill="#70c2de"/>
<rect x="45.15" y="972.4" width="291.63" height="7.3" fill="#e64f5c"/>
<rect x="45.15" y="979.9" width="291.63" height="7.4" fill="#4d9dc8"/>
<rect x="338.6" y="972.4" width="167.98" height="7.3" fill="#e8c256"/>
<rect x="338.6" y="979.9" width="167.98" height="7.4" fill="#4d9dc8"/>
<rect x="508.35" y="972.4" width="64.4" height="7.3" fill="#e9955a"/>
<rect x="508.35" y="979.9" width="64.4" height="7.4" fill="#4d9dc8"/>
<g fill="#fff" fill-opacity="0.18">
<rect x="49.14" y="972.4" width="0.5" height="14.9"/>
<rect x="53.44" y="972.4" width="0.5" height="14.9"/>
<rect x="57.72" y="972.4" width="0.5" height="14.9"/>
<rect x="62.02" y="972.4" width="0.5" height="14.9"/>
<rect x="66.31" y="972.4" width="0.5" height="14.9"/>
<rect x="70.59" y="972.4" width="0.5" height="14.9"/>
<rect x="74.88" y="972.4" width="0.5" height="14.9"/>
<rect x="79.17" y="972.4" width="0.5" height="14.9"/>
<rect x="83.47" y="972.4" width="0.5" height="14.9"/>
<rect x="87.75" y="972.4" width="0.5" height="14.9"/>
<rect x="92.04" y="972.4" width="0.5" height="14.9"/>
<rect x="96.34" y="972.4" width="0.5" height="14.9"/>
<rect x="100.62" y="972.4" width="0.5" height="14.9"/>
<rect x="104.91" y="972.4" width="0.5" height="14.9"/>
<rect x="109.2" y="972.4" width="0.5" height="14.9"/>
<rect x="113.5" y="972.4" width="0.5" height="14.9"/>
<rect x="117.78" y="972.4" width="0.5" height="14.9"/>
<rect x="122.07" y="972.4" width="0.5" height="14.9"/>
<rect x="126.37" y="972.4" width="0.5" height="14.9"/>
<rect x="130.66" y="972.4" width="0.5" height="14.9"/>
<rect x="134.94" y="972.4" width="0.5" height="14.9"/>
<rect x="139.24" y="972.4" width="0.5" height="14.9"/>
<rect x="143.53" y="972.4" width="0.5" height="14.9"/>
<rect x="147.81" y="972.4" width="0.5" height="14.9"/>
<rect x="152.11" y="972.4" width="0.5" height="14.9"/>
<rect x="156.4" y="972.4" width="0.5" height="14.9"/>
<rect x="160.69" y="972.4" width="0.5" height="14.9"/>
<rect x="164.98" y="972.4" width="0.5" height="14.9"/>
<rect x="169.26" y="972.4" width="0.5" height="14.9"/>
<rect x="173.56" y="972.4" width="0.5" height="14.9"/>
<rect x="177.84" y="972.4" width="0.5" height="14.9"/>
<rect x="182.13" y="972.4" width="0.5" height="14.9"/>
<rect x="186.43" y="972.4" width="0.5" height="14.9"/>
<rect x="190.72" y="972.4" width="0.5" height="14.9"/>
<rect x="195" y="972.4" width="0.5" height="14.9"/>
<rect x="199.3" y="972.4" width="0.5" height="14.9"/>
<rect x="203.58" y="972.4" width="0.5" height="14.9"/>
<rect x="207.88" y="972.4" width="0.5" height="14.9"/>
<rect x="212.17" y="972.4" width="0.5" height="14.9"/>
<rect x="216.45" y="972.4" width="0.5" height="14.9"/>
<rect x="220.75" y="972.4" width="0.5" height="14.9"/>
<rect x="225.04" y="972.4" width="0.5" height="14.9"/>
<rect x="229.32" y="972.4" width="0.5" height="14.9"/>
<rect x="233.62" y="972.4" width="0.5" height="14.9"/>
<rect x="237.91" y="972.4" width="0.5" height="14.9"/>
<rect x="242.19" y="972.4" width="0.5" height="14.9"/>
<rect x="246.49" y="972.4" width="0.5" height="14.9"/>
<rect x="250.78" y="972.4" width="0.5" height="14.9"/>
<rect x="255.06" y="972.4" width="0.5" height="14.9"/>
<rect x="259.36" y="972.4" width="0.5" height="14.9"/>
<rect x="263.64" y="972.4" width="0.5" height="14.9"/>
<rect x="267.94" y="972.4" width="0.5" height="14.9"/>
<rect x="272.23" y="972.4" width="0.5" height="14.9"/>
<rect x="276.51" y="972.4" width="0.5" height="14.9"/>
<rect x="280.81" y="972.4" width="0.5" height="14.9"/>
<rect x="285.1" y="972.4" width="0.5" height="14.9"/>
<rect x="289.38" y="972.4" width="0.5" height="14.9"/>
<rect x="293.68" y="972.4" width="0.5" height="14.9"/>
<rect x="297.97" y="972.4" width="0.5" height="14.9"/>
<rect x="302.25" y="972.4" width="0.5" height="14.9"/>
<rect x="306.55" y="972.4" width="0.5" height="14.9"/>
<rect x="310.84" y="972.4" width="0.5" height="14.9"/>
<rect x="315.12" y="972.4" width="0.5" height="14.9"/>
<rect x="319.42" y="972.4" width="0.5" height="14.9"/>
<rect x="323.71" y="972.4" width="0.5" height="14.9"/>
<rect x="328" y="972.4" width="0.5" height="14.9"/>
<rect x="332.29" y="972.4" width="0.5" height="14.9"/>
<rect x="342.61" y="972.4" width="0.5" height="14.9"/>
<rect x="346.92" y="972.4" width="0.5" height="14.9"/>
<rect x="351.23" y="972.4" width="0.5" height="14.9"/>
<rect x="355.54" y="972.4" width="0.5" height="14.9"/>
<rect x="359.85" y="972.4" width="0.5" height="14.9"/>
<rect x="364.16" y="972.4" width="0.5" height="14.9"/>
<rect x="368.47" y="972.4" width="0.5" height="14.9"/>
<rect x="372.78" y="972.4" width="0.5" height="14.9"/>
<rect x="377.09" y="972.4" width="0.5" height="14.9"/>
<rect x="381.39" y="972.4" width="0.5" height="14.9"/>
<rect x="385.71" y="972.4" width="0.5" height="14.9"/>
<rect x="390.01" y="972.4" width="0.5" height="14.9"/>
<rect x="394.32" y="972.4" width="0.5" height="14.9"/>
<rect x="398.63" y="972.4" width="0.5" height="14.9"/>
<rect x="402.94" y="972.4" width="0.5" height="14.9"/>
<rect x="407.25" y="972.4" width="0.5" height="14.9"/>
<rect x="411.56" y="972.4" width="0.5" height="14.9"/>
<rect x="415.88" y="972.4" width="0.5" height="14.9"/>
<rect x="420.19" y="972.4" width="0.5" height="14.9"/>
<rect x="424.5" y="972.4" width="0.5" height="14.9"/>
<rect x="428.81" y="972.4" width="0.5" height="14.9"/>
<rect x="433.12" y="972.4" width="0.5" height="14.9"/>
<rect x="437.43" y="972.4" width="0.5" height="14.9"/>
<rect x="441.74" y="972.4" width="0.5" height="14.9"/>
<rect x="446.05" y="972.4" width="0.5" height="14.9"/>
<rect x="450.36" y="972.4" width="0.5" height="14.9"/>
<rect x="454.67" y="972.4" width="0.5" height="14.9"/>
<rect x="458.98" y="972.4" width="0.5" height="14.9"/>
<rect x="463.29" y="972.4" width="0.5" height="14.9"/>
<rect x="467.6" y="972.4" width="0.5" height="14.9"/>
<rect x="471.9" y="972.4" width="0.5" height="14.9"/>
<rect x="476.22" y="972.4" width="0.5" height="14.9"/>
<rect x="480.52" y="972.4" width="0.5" height="14.9"/>
<rect x="484.84" y="972.4" width="0.5" height="14.9"/>
<rect x="489.14" y="972.4" width="0.5" height="14.9"/>
<rect x="493.46" y="972.4" width="0.5" height="14.9"/>
<rect x="497.76" y="972.4" width="0.5" height="14.9"/>
<rect x="502.07" y="972.4" width="0.5" height="14.9"/>
<rect x="512.35" y="972.4" width="0.5" height="14.9"/>
<rect x="516.65" y="972.4" width="0.5" height="14.9"/>
<rect x="520.95" y="972.4" width="0.5" height="14.9"/>
<rect x="525.25" y="972.4" width="0.5" height="14.9"/>
<rect x="529.55" y="972.4" width="0.5" height="14.9"/>
<rect x="533.85" y="972.4" width="0.5" height="14.9"/>
<rect x="538.15" y="972.4" width="0.5" height="14.9"/>
<rect x="542.45" y="972.4" width="0.5" height="14.9"/>
<rect x="546.75" y="972.4" width="0.5" height="14.9"/>
<rect x="551.05" y="972.4" width="0.5" height="14.9"/>
<rect x="555.35" y="972.4" width="0.5" height="14.9"/>
<rect x="559.65" y="972.4" width="0.5" height="14.9"/>
<rect x="563.95" y="972.4" width="0.5" height="14.9"/>
<rect x="568.25" y="972.4" width="0.5" height="14.9"/>
</g>
<rect x="45.6" y="575.41" width="3.3" height="12.79" fill="#2d3982"/>
<rect x="45.6" y="571.15" width="3.3" height="4.26" fill="#5aa9d1"/>
<rect x="49.89" y="575.41" width="3.3" height="12.79" fill="#2d3982"/>
<rect x="49.89" y="571.15" width="3.3" height="4.26" fill="#5aa9d1"/>
<rect x="54.18" y="571.15" width="3.3" height="17.05" fill="#2d3982"/>
<rect x="58.47" y="579.68" width="3.3" height="8.53" fill="#2d3982"/>
<rect x="58.47" y="575.41" width="3.3" height="4.26" fill="#5aa9d1"/>
<rect x="58.47" y="571.15" width="3.3" height="4.26" fill="#f3b8cb"/>
<rect x="62.76" y="579.68" width="3.3" height="8.53" fill="#2d3982"/>
<rect x="62.76" y="575.41" width="3.3" height="4.26" fill="#a9d0e6"/>
<rect x="67.05" y="579.68" width="3.3" height="8.53" fill="#2d3982"/>
<rect x="67.05" y="575.41" width="3.3" height="4.26" fill="#5aa9d1"/>
<rect x="71.34" y="583.94" width="3.3" height="4.26" fill="#2d3982"/>
<rect x="71.34" y="579.67" width="3.3" height="4.26" fill="#f3b8cb"/>
<rect x="71.34" y="575.41" width="3.3" height="4.26" fill="#a9d0e6"/>
<rect x="75.63" y="583.94" width="3.3" height="4.26" fill="#2d3982"/>
<rect x="75.63" y="571.15" width="3.3" height="12.79" fill="#5aa9d1"/>
<rect x="75.63" y="566.89" width="3.3" height="4.26" fill="#c9aee0"/>
<rect x="79.92" y="579.68" width="3.3" height="8.53" fill="#2d3982"/>
<rect x="79.92" y="575.41" width="3.3" height="4.26" fill="#4a7ca5"/>
<rect x="84.21" y="579.68" width="3.3" height="8.53" fill="#2d3982"/>
<rect x="84.21" y="575.41" width="3.3" height="4.26" fill="#4a7ca5"/>
<rect x="88.5" y="583.94" width="3.3" height="4.26" fill="#2d3982"/>
<rect x="88.5" y="579.67" width="3.3" height="4.26" fill="#a9d0e6"/>
<rect x="92.79" y="575.41" width="3.3" height="12.79" fill="#2d3982"/>
<rect x="92.79" y="566.89" width="3.3" height="8.53" fill="#a9d0e6"/>
<rect x="97.08" y="579.68" width="3.3" height="8.53" fill="#2d3982"/>
<rect x="97.08" y="575.41" width="3.3" height="4.26" fill="#4a7ca5"/>
<rect x="101.37" y="575.41" width="3.3" height="12.79" fill="#2d3982"/>
<rect x="105.66" y="583.94" width="3.3" height="4.26" fill="#2d3982"/>
<rect x="105.66" y="579.67" width="3.3" height="4.26" fill="#4a7ca5"/>
<rect x="109.95" y="579.68" width="3.3" height="8.53" fill="#2d3982"/>
<rect x="109.95" y="575.41" width="3.3" height="4.26" fill="#c9aee0"/>
<rect x="114.24" y="583.94" width="3.3" height="4.26" fill="#2d3982"/>
<rect x="114.24" y="579.67" width="3.3" height="4.26" fill="#eeee6a"/>
<rect x="118.53" y="575.41" width="3.3" height="12.79" fill="#2d3982"/>
<rect x="118.53" y="571.15" width="3.3" height="4.26" fill="#eeee6a"/>
<rect x="122.82" y="575.41" width="3.3" height="12.79" fill="#2d3982"/>
<rect x="122.82" y="571.15" width="3.3" height="4.26" fill="#5aa9d1"/>
<rect x="122.82" y="566.89" width="3.3" height="4.26" fill="#c9aee0"/>
<rect x="127.11" y="579.68" width="3.3" height="8.53" fill="#2d3982"/>
<rect x="127.11" y="575.41" width="3.3" height="4.26" fill="#4a7ca5"/>
<rect x="131.4" y="583.94" width="3.3" height="4.26" fill="#2d3982"/>
<rect x="131.4" y="579.67" width="3.3" height="4.26" fill="#5aa9d1"/>
<rect x="135.69" y="579.68" width="3.3" height="8.53" fill="#a9d0e6"/>
<rect x="139.98" y="579.68" width="3.3" height="8.53" fill="#2d3982"/>
<rect x="139.98" y="575.41" width="3.3" height="4.26" fill="#4a7ca5"/>
<rect x="144.27" y="575.41" width="3.3" height="12.79" fill="#2d3982"/>
<rect x="144.27" y="571.15" width="3.3" height="4.26" fill="#5aa9d1"/>
<rect x="144.27" y="566.89" width="3.3" height="4.26" fill="#4a7ca5"/>
<rect x="148.56" y="579.68" width="3.3" height="8.53" fill="#2d3982"/>
<rect x="152.85" y="583.94" width="3.3" height="4.26" fill="#2d3982"/>
<rect x="152.85" y="579.67" width="3.3" height="4.26" fill="#c9aee0"/>
<rect x="157.14" y="579.68" width="3.3" height="8.53" fill="#2d3982"/>
<rect x="157.14" y="575.41" width="3.3" height="4.26" fill="#a9d0e6"/>
<rect x="161.43" y="579.68" width="3.3" height="8.53" fill="#2d3982"/>
<rect x="161.43" y="575.41" width="3.3" height="4.26" fill="#5aa9d1"/>
<rect x="165.72" y="583.94" width="3.3" height="4.26" fill="#4a7ca5"/>
<rect x="165.72" y="579.67" width="3.3" height="4.26" fill="#f3b8cb"/>
<rect x="170.01" y="583.94" width="3.3" height="4.26" fill="#4a7ca5"/>
<rect x="170.01" y="579.67" width="3.3" height="4.26" fill="#a9d0e6"/>
<rect x="170.01" y="575.41" width="3.3" height="4.26" fill="#eeee6a"/>
<rect x="174.3" y="583.94" width="3.3" height="4.26" fill="#2d3982"/>
<rect x="174.3" y="579.67" width="3.3" height="4.26" fill="#4a7ca5"/>
<rect x="178.59" y="583.94" width="3.3" height="4.26" fill="#2d3982"/>
<rect x="178.59" y="579.67" width="3.3" height="4.26" fill="#93bf69"/>
<rect x="178.59" y="575.41" width="3.3" height="4.26" fill="#c9aee0"/>
<rect x="182.88" y="579.68" width="3.3" height="8.53" fill="#2d3982"/>
<rect x="182.88" y="575.41" width="3.3" height="4.26" fill="#4a7ca5"/>
<rect x="187.17" y="583.94" width="3.3" height="4.26" fill="#2d3982"/>
<rect x="187.17" y="579.67" width="3.3" height="4.26" fill="#5aa9d1"/>
<rect x="191.46" y="579.68" width="3.3" height="8.53" fill="#2d3982"/>
<rect x="191.46" y="575.41" width="3.3" height="4.26" fill="#4a7ca5"/>
<rect x="195.75" y="583.94" width="3.3" height="4.26" fill="#2d3982"/>
<rect x="195.75" y="579.67" width="3.3" height="4.26" fill="#5aa9d1"/>
<rect x="200.04" y="575.41" width="3.3" height="12.79" fill="#2d3982"/>
<rect x="204.33" y="579.68" width="3.3" height="8.53" fill="#2d3982"/>
<rect x="208.62" y="583.94" width="3.3" height="4.26" fill="#2d3982"/>
<rect x="212.91" y="583.94" width="3.3" height="4.26" fill="#5aa9d1"/>
<rect x="217.2" y="583.94" width="3.3" height="4.26" fill="#2d3982"/>
<rect x="221.49" y="583.94" width="3.3" height="4.26" fill="#a9d0e6"/>
<rect x="225.78" y="583.94" width="3.3" height="4.26" fill="#2d3982"/>
<rect x="230.07" y="583.94" width="3.3" height="4.26" fill="#2d3982"/>
<rect x="234.36" y="583.94" width="3.3" height="4.26" fill="#f3b8cb"/>
<rect x="238.65" y="583.94" width="3.3" height="4.26" fill="#2d3982"/>
<rect x="242.94" y="583.94" width="3.3" height="4.26" fill="#4a7ca5"/>
<rect x="247.23" y="583.94" width="3.3" height="4.26" fill="#2d3982"/>
<rect x="251.52" y="583.94" width="3.3" height="4.26" fill="#2d3982"/>
<rect x="255.81" y="571.15" width="3.3" height="17.05" fill="#2d3982"/>
<rect x="260.1" y="575.41" width="3.3" height="12.79" fill="#2d3982"/>
<rect x="264.39" y="579.68" width="3.3" height="8.53" fill="#2d3982"/>
<rect x="264.39" y="575.41" width="3.3" height="4.26" fill="#4a7ca5"/>
<rect x="268.68" y="579.68" width="3.3" height="8.53" fill="#2d3982"/>
<rect x="272.97" y="583.94" width="3.3" height="4.26" fill="#2d3982"/>
<rect x="277.26" y="579.68" width="3.3" height="8.53" fill="#2d3982"/>
<rect x="277.26" y="575.41" width="3.3" height="4.26" fill="#5aa9d1"/>
<rect x="281.55" y="583.94" width="3.3" height="4.26" fill="#2d3982"/>
<rect x="281.55" y="579.67" width="3.3" height="4.26" fill="#5aa9d1"/>
<rect x="281.55" y="575.41" width="3.3" height="4.26" fill="#c9aee0"/>
<rect x="285.84" y="583.94" width="3.3" height="4.26" fill="#a9d0e6"/>
<rect x="290.13" y="583.94" width="3.3" height="4.26" fill="#2d3982"/>
<rect x="294.42" y="579.68" width="3.3" height="8.53" fill="#2d3982"/>
<rect x="298.71" y="579.68" width="3.3" height="8.53" fill="#2d3982"/>
<rect x="303" y="583.94" width="3.3" height="4.26" fill="#eeee6a"/>
<rect x="307.29" y="583.94" width="3.3" height="4.26" fill="#2d3982"/>
<rect x="307.29" y="579.67" width="3.3" height="4.26" fill="#f3b8cb"/>
<rect x="311.58" y="583.94" width="3.3" height="4.26" fill="#a9d0e6"/>
<rect x="315.87" y="583.94" width="3.3" height="4.26" fill="#2d3982"/>
<rect x="339.05" y="579.68" width="3.3" height="8.53" fill="#2d3982"/>
<rect x="339.05" y="575.41" width="3.3" height="4.26" fill="#c9aee0"/>
<rect x="343.36" y="583.94" width="3.3" height="4.26" fill="#2d3982"/>
<rect x="343.36" y="579.67" width="3.3" height="4.26" fill="#a9d0e6"/>
<rect x="343.36" y="575.41" width="3.3" height="4.26" fill="#c9aee0"/>
<rect x="347.67" y="583.94" width="3.3" height="4.26" fill="#2d3982"/>
<rect x="347.67" y="579.67" width="3.3" height="4.26" fill="#4a7ca5"/>
<rect x="351.98" y="579.68" width="3.3" height="8.53" fill="#2d3982"/>
<rect x="356.29" y="566.89" width="3.3" height="21.31" fill="#2d3982"/>
<rect x="356.29" y="562.62" width="3.3" height="4.26" fill="#a9d0e6"/>
<rect x="360.6" y="562.62" width="3.3" height="25.58" fill="#2d3982"/>
<rect x="360.6" y="558.36" width="3.3" height="4.26" fill="#4a7ca5"/>
<rect x="360.6" y="554.1" width="3.3" height="4.26" fill="#93bf69"/>
<rect x="364.91" y="575.41" width="3.3" height="12.79" fill="#2d3982"/>
<rect x="364.91" y="571.15" width="3.3" height="4.26" fill="#5aa9d1"/>
<rect x="364.91" y="566.89" width="3.3" height="4.26" fill="#4a7ca5"/>
<rect x="369.22" y="583.94" width="3.3" height="4.26" fill="#2d3982"/>
<rect x="369.22" y="579.67" width="3.3" height="4.26" fill="#5aa9d1"/>
<rect x="373.53" y="575.41" width="3.3" height="12.79" fill="#2d3982"/>
<rect x="377.84" y="583.94" width="3.3" height="4.26" fill="#2d3982"/>
<rect x="377.84" y="579.67" width="3.3" height="4.26" fill="#5aa9d1"/>
<rect x="377.84" y="575.41" width="3.3" height="4.26" fill="#f3b8cb"/>
<rect x="382.15" y="583.94" width="3.3" height="4.26" fill="#2d3982"/>
<rect x="382.15" y="579.67" width="3.3" height="4.26" fill="#c9aee0"/>
<rect x="382.15" y="575.41" width="3.3" height="4.26" fill="#eeee6a"/>
<rect x="386.46" y="583.94" width="3.3" height="4.26" fill="#2d3982"/>
<rect x="386.46" y="579.67" width="3.3" height="4.26" fill="#4a7ca5"/>
<rect x="386.46" y="575.41" width="3.3" height="4.26" fill="#a9d0e6"/>
<rect x="390.77" y="583.94" width="3.3" height="4.26" fill="#2d3982"/>
<rect x="390.77" y="579.67" width="3.3" height="4.26" fill="#eeee6a"/>
<rect x="395.08" y="583.94" width="3.3" height="4.26" fill="#2d3982"/>
<rect x="395.08" y="579.67" width="3.3" height="4.26" fill="#a9d0e6"/>
<rect x="399.39" y="579.68" width="3.3" height="8.53" fill="#4a7ca5"/>
<rect x="403.7" y="579.68" width="3.3" height="8.53" fill="#5aa9d1"/>
<rect x="408.01" y="583.94" width="3.3" height="4.26" fill="#2d3982"/>
<rect x="408.01" y="579.67" width="3.3" height="4.26" fill="#5aa9d1"/>
<rect x="408.01" y="575.41" width="3.3" height="4.26" fill="#4a7ca5"/>
<rect x="412.32" y="583.94" width="3.3" height="4.26" fill="#2d3982"/>
<rect x="412.32" y="579.67" width="3.3" height="4.26" fill="#4a7ca5"/>
<rect x="412.32" y="575.41" width="3.3" height="4.26" fill="#f3b8cb"/>
<rect x="416.63" y="583.94" width="3.3" height="4.26" fill="#2d3982"/>
<rect x="416.63" y="579.67" width="3.3" height="4.26" fill="#a9d0e6"/>
<rect x="420.94" y="579.68" width="3.3" height="8.53" fill="#4a7ca5"/>
<rect x="425.25" y="575.41" width="3.3" height="12.79" fill="#2d3982"/>
<rect x="425.25" y="571.15" width="3.3" height="4.26" fill="#4a7ca5"/>
<rect x="429.56" y="583.94" width="3.3" height="4.26" fill="#2d3982"/>
<rect x="429.56" y="579.67" width="3.3" height="4.26" fill="#5aa9d1"/>
<rect x="429.56" y="575.41" width="3.3" height="4.26" fill="#eeee6a"/>
<rect x="433.87" y="579.68" width="3.3" height="8.53" fill="#2d3982"/>
<rect x="438.18" y="583.94" width="3.3" height="4.26" fill="#2d3982"/>
<rect x="438.18" y="579.67" width="3.3" height="4.26" fill="#4a7ca5"/>
<rect x="442.49" y="583.94" width="3.3" height="4.26" fill="#5aa9d1"/>
<rect x="442.49" y="579.67" width="3.3" height="4.26" fill="#4a7ca5"/>
<rect x="446.8" y="583.94" width="3.3" height="4.26" fill="#2d3982"/>
<rect x="446.8" y="579.67" width="3.3" height="4.26" fill="#5aa9d1"/>
<rect x="451.11" y="579.68" width="3.3" height="8.53" fill="#2d3982"/>
<rect x="451.11" y="575.41" width="3.3" height="4.26" fill="#4a7ca5"/>
<rect x="455.42" y="583.94" width="3.3" height="4.26" fill="#2d3982"/>
<rect x="455.42" y="579.67" width="3.3" height="4.26" fill="#4a7ca5"/>
<rect x="459.73" y="579.68" width="3.3" height="8.53" fill="#2d3982"/>
<rect x="459.73" y="575.41" width="3.3" height="4.26" fill="#4a7ca5"/>
<rect x="459.73" y="571.15" width="3.3" height="4.26" fill="#f3b8cb"/>
<rect x="464.04" y="583.94" width="3.3" height="4.26" fill="#4a7ca5"/>
<rect x="464.04" y="579.67" width="3.3" height="4.26" fill="#a9d0e6"/>
<rect x="468.35" y="583.94" width="3.3" height="4.26" fill="#2d3982"/>
<rect x="468.35" y="579.67" width="3.3" height="4.26" fill="#4a7ca5"/>
<rect x="472.66" y="583.94" width="3.3" height="4.26" fill="#5aa9d1"/>
<rect x="476.97" y="583.94" width="3.3" height="4.26" fill="#f3b8cb"/>
<rect x="481.28" y="583.94" width="3.3" height="4.26" fill="#2d3982"/>
<rect x="485.59" y="583.94" width="3.3" height="4.26" fill="#4a7ca5"/>
<rect x="489.9" y="579.68" width="3.3" height="8.53" fill="#2d3982"/>
<rect x="494.21" y="583.94" width="3.3" height="4.26" fill="#eeee6a"/>
<rect x="508.8" y="575.41" width="3.3" height="12.79" fill="#2d3982"/>
<rect x="508.8" y="571.15" width="3.3" height="4.26" fill="#5aa9d1"/>
<rect x="513.1" y="575.41" width="3.3" height="12.79" fill="#2d3982"/>
<rect x="513.1" y="571.15" width="3.3" height="4.26" fill="#4a7ca5"/>
<rect x="513.1" y="566.89" width="3.3" height="4.26" fill="#f3b8cb"/>
<rect x="517.4" y="583.94" width="3.3" height="4.26" fill="#2d3982"/>
<rect x="517.4" y="579.67" width="3.3" height="4.26" fill="#eeee6a"/>
<rect x="521.7" y="575.41" width="3.3" height="12.79" fill="#2d3982"/>
<rect x="521.7" y="571.15" width="3.3" height="4.26" fill="#eeee6a"/>
<rect x="526" y="566.89" width="3.3" height="21.31" fill="#2d3982"/>
<rect x="526" y="562.62" width="3.3" height="4.26" fill="#5aa9d1"/>
<rect x="530.3" y="575.41" width="3.3" height="12.79" fill="#2d3982"/>
<rect x="534.6" y="583.94" width="3.3" height="4.26" fill="#2d3982"/>
<rect x="534.6" y="579.67" width="3.3" height="4.26" fill="#4a7ca5"/>
<rect x="538.9" y="579.68" width="3.3" height="8.53" fill="#2d3982"/>
<rect x="543.2" y="579.68" width="3.3" height="8.53" fill="#2d3982"/>
<rect x="543.2" y="575.41" width="3.3" height="4.26" fill="#4a7ca5"/>
<rect x="547.5" y="583.94" width="3.3" height="4.26" fill="#2d3982"/>
<rect x="547.5" y="579.67" width="3.3" height="4.26" fill="#5aa9d1"/>
<rect x="551.8" y="583.94" width="3.3" height="4.26" fill="#4a7ca5"/>
<rect x="556.1" y="583.94" width="3.3" height="4.26" fill="#2d3982"/>
<rect x="560.4" y="583.94" width="3.3" height="4.26" fill="#4a7ca5"/>
<rect x="564.7" y="583.94" width="3.3" height="4.26" fill="#2d3982"/>
<rect x="564.7" y="579.67" width="3.3" height="4.26" fill="#5aa9d1"/>
<rect x="564.7" y="575.41" width="3.3" height="4.26" fill="#f3b8cb"/>
<rect x="590.5" y="592.15" width="15.4" height="6.1" fill="#2d3982"/>
<rect x="605.9" y="592.15" width="4.55" height="6.1" fill="#5aa9d1"/>
<rect x="610.45" y="592.15" width="6.65" height="6.1" fill="#4a7ca5"/>
<rect x="617.1" y="592.15" width="2.1" height="6.1" fill="#f3b8cb"/>
<rect x="619.2" y="592.15" width="3.15" height="6.1" fill="#a9d0e6"/>
<rect x="622.35" y="592.15" width="0.7" height="6.1" fill="#93bf69"/>
<rect x="623.05" y="592.15" width="0.35" height="6.1" fill="#c9aee0"/>
<rect x="623.4" y="592.15" width="1.05" height="6.1" fill="#eeee6a"/>
<rect x="590.5" y="602.33" width="5.6" height="6.1" fill="#2d3982"/>
<rect x="590.5" y="612.51" width="4.2" height="6.1" fill="#2d3982"/>
<rect x="594.7" y="612.51" width="1.05" height="6.1" fill="#5aa9d1"/>
<rect x="590.5" y="622.69" width="3.85" height="6.1" fill="#2d3982"/>
<rect x="590.5" y="632.87" width="0.35" height="6.1" fill="#2d3982"/>
<rect x="590.85" y="632.87" width="0.7" height="6.1" fill="#5aa9d1"/>
<rect x="591.55" y="632.87" width="0.7" height="6.1" fill="#f3b8cb"/>
<rect x="592.25" y="632.87" width="0.35" height="6.1" fill="#a9d0e6"/>
<rect x="592.6" y="632.87" width="0.7" height="6.1" fill="#c9aee0"/>
<rect x="593.3" y="632.87" width="0.35" height="6.1" fill="#eeee6a"/>
<rect x="590.5" y="643.05" width="0.7" height="6.1" fill="#2d3982"/>
<rect x="591.2" y="643.05" width="0.35" height="6.1" fill="#5aa9d1"/>
<rect x="591.55" y="643.05" width="0.7" height="6.1" fill="#4a7ca5"/>
<rect x="592.25" y="643.05" width="0.35" height="6.1" fill="#a9d0e6"/>
<rect x="592.6" y="643.05" width="0.35" height="6.1" fill="#c9aee0"/>
<rect x="592.95" y="643.05" width="0.7" height="6.1" fill="#eeee6a"/>
<rect x="590.5" y="653.23" width="1.05" height="6.1" fill="#5aa9d1"/>
<rect x="591.55" y="653.23" width="0.35" height="6.1" fill="#4a7ca5"/>
<rect x="591.9" y="653.23" width="0.7" height="6.1" fill="#a9d0e6"/>
<rect x="592.6" y="653.23" width="0.35" height="6.1" fill="#c9aee0"/>
<rect x="592.95" y="653.23" width="0.35" height="6.1" fill="#eeee6a"/>
<rect x="590.5" y="663.41" width="2.1" height="6.1" fill="#2d3982"/>
<rect x="592.6" y="663.41" width="0.35" height="6.1" fill="#4a7ca5"/>
<rect x="590.5" y="673.59" width="2.1" height="6.1" fill="#2d3982"/>
<rect x="592.6" y="673.59" width="0.35" height="6.1" fill="#5aa9d1"/>
<rect x="590.5" y="683.77" width="2.1" height="6.1" fill="#2d3982"/>
<rect x="592.6" y="683.77" width="0.35" height="6.1" fill="#c9aee0"/>
<rect x="590.5" y="693.95" width="0.35" height="6.1" fill="#2d3982"/>
<rect x="590.85" y="693.95" width="1.05" height="6.1" fill="#5aa9d1"/>
<rect x="591.9" y="693.95" width="0.35" height="6.1" fill="#4a7ca5"/>
<rect x="592.25" y="693.95" width="0.35" height="6.1" fill="#a9d0e6"/>
<rect x="592.6" y="693.95" width="0.35" height="6.1" fill="#eeee6a"/>
<rect x="590.5" y="704.13" width="1.4" height="6.1" fill="#2d3982"/>
<rect x="591.9" y="704.13" width="0.35" height="6.1" fill="#4a7ca5"/>
<rect x="592.25" y="704.13" width="0.35" height="6.1" fill="#a9d0e6"/>
<rect x="592.6" y="704.13" width="0.35" height="6.1" fill="#c9aee0"/>
<rect x="590.5" y="714.31" width="0.7" height="6.1" fill="#2d3982"/>
<rect x="591.2" y="714.31" width="0.35" height="6.1" fill="#4a7ca5"/>
<rect x="591.55" y="714.31" width="0.7" height="6.1" fill="#a9d0e6"/>
<rect x="592.25" y="714.31" width="0.35" height="6.1" fill="#eeee6a"/>
<rect x="590.5" y="724.49" width="2.1" height="6.1" fill="#2d3982"/>
<rect x="590.5" y="734.67" width="1.05" height="6.1" fill="#2d3982"/>
<rect x="591.55" y="734.67" width="0.7" height="6.1" fill="#4a7ca5"/>
<rect x="592.25" y="734.67" width="0.35" height="6.1" fill="#f3b8cb"/>
<rect x="590.5" y="744.85" width="1.4" height="6.1" fill="#2d3982"/>
<rect x="591.9" y="744.85" width="0.35" height="6.1" fill="#f3b8cb"/>
<rect x="592.25" y="744.85" width="0.35" height="6.1" fill="#c9aee0"/>
<rect x="590.5" y="755.03" width="1.4" height="6.1" fill="#2d3982"/>
<rect x="591.9" y="755.03" width="0.35" height="6.1" fill="#5aa9d1"/>
<rect x="592.25" y="755.03" width="0.35" height="6.1" fill="#4a7ca5"/>
<rect x="590.5" y="765.21" width="1.05" height="6.1" fill="#2d3982"/>
<rect x="591.55" y="765.21" width="0.35" height="6.1" fill="#4a7ca5"/>
<rect x="591.9" y="765.21" width="0.35" height="6.1" fill="#a9d0e6"/>
<rect x="592.25" y="765.21" width="0.35" height="6.1" fill="#eeee6a"/>
<rect x="590.5" y="775.39" width="1.75" height="6.1" fill="#2d3982"/>
<rect x="592.25" y="775.39" width="0.35" height="6.1" fill="#4a7ca5"/>
<rect x="590.5" y="785.57" width="0.35" height="6.1" fill="#2d3982"/>
<rect x="590.85" y="785.57" width="0.7" height="6.1" fill="#5aa9d1"/>
<rect x="591.55" y="785.57" width="1.05" height="6.1" fill="#4a7ca5"/>
<rect x="590.5" y="795.75" width="1.75" height="6.1" fill="#2d3982"/>
<rect x="590.5" y="805.93" width="1.75" height="6.1" fill="#2d3982"/>
<rect x="590.5" y="816.11" width="0.7" height="6.1" fill="#2d3982"/>
<rect x="591.2" y="816.11" width="0.7" height="6.1" fill="#4a7ca5"/>
<rect x="591.9" y="816.11" width="0.35" height="6.1" fill="#f3b8cb"/>
<rect x="590.5" y="826.29" width="1.05" height="6.1" fill="#2d3982"/>
<rect x="591.55" y="826.29" width="0.35" height="6.1" fill="#4a7ca5"/>
<rect x="590.5" y="836.47" width="1.4" height="6.1" fill="#2d3982"/>
<rect x="590.5" y="846.65" width="1.4" height="6.1" fill="#2d3982"/>
<rect x="590.5" y="856.83" width="1.05" height="6.1" fill="#2d3982"/>
<rect x="591.55" y="856.83" width="0.35" height="6.1" fill="#5aa9d1"/>
<rect x="590.5" y="867.01" width="1.05" height="6.1" fill="#2d3982"/>
<rect x="591.55" y="867.01" width="0.35" height="6.1" fill="#4a7ca5"/>
<rect x="590.5" y="877.19" width="1.4" height="6.1" fill="#2d3982"/>
<rect x="590.5" y="887.37" width="1.05" height="6.1" fill="#2d3982"/>
<rect x="591.55" y="887.37" width="0.35" height="6.1" fill="#c9aee0"/>
<rect x="587.9" y="901.45" width="36.63" height="6.1" fill="#e5525a"/>
<rect x="587.9" y="911.65" width="23.31" height="6.1" fill="#e5525a"/>
<rect x="587.9" y="921.85" width="19.98" height="6.1" fill="#e5525a"/>
<rect x="587.9" y="932.05" width="16.65" height="6.1" fill="#70c2de"/>
<rect x="587.9" y="942.25" width="13.32" height="6.1" fill="#e5525a"/>
<rect x="587.9" y="952.45" width="13.32" height="6.1" fill="#e5525a"/>
<rect x="587.9" y="962.65" width="9.99" height="6.1" fill="#70c2de"/>
<text transform="matrix(1 0 0 1.08 43.2 598)" font-size="6.25" text-anchor="end">TP53</text>
<text transform="matrix(1 0 0 1.08 574.4 598)" font-size="6.25">80%</text>
<text transform="matrix(1 0 0 1.08 43.2 608.18)" font-size="6.25" text-anchor="end">PIK3CA</text>
<text transform="matrix(1 0 0 1.08 574.4 608.18)" font-size="6.25">13%</text>
<text transform="matrix(1 0 0 1.08 43.2 618.36)" font-size="6.25" text-anchor="end">RYR2</text>
<text transform="matrix(1 0 0 1.08 574.4 618.36)" font-size="6.25">12%</text>
<text transform="matrix(1 0 0 1.08 43.2 628.54)" font-size="6.25" text-anchor="end">USH2A</text>
<text transform="matrix(1 0 0 1.08 574.4 628.54)" font-size="6.25">9%</text>
<text transform="matrix(1 0 0 1.08 43.2 638.72)" font-size="6.25" text-anchor="end">PTEN</text>
<text transform="matrix(1 0 0 1.08 574.4 638.72)" font-size="6.25">7%</text>
<text transform="matrix(1 0 0 1.08 43.2 648.9)" font-size="6.25" text-anchor="end">PIK3R1</text>
<text transform="matrix(1 0 0 1.08 574.4 648.9)" font-size="6.25">7%</text>
<text transform="matrix(1 0 0 1.08 43.2 659.08)" font-size="6.25" text-anchor="end">RB1</text>
<text transform="matrix(1 0 0 1.08 574.4 659.08)" font-size="6.25">7%</text>
<text transform="matrix(1 0 0 1.08 43.2 669.26)" font-size="6.25" text-anchor="end">PREX2</text>
<text transform="matrix(1 0 0 1.08 574.4 669.26)" font-size="6.25">6%</text>
<text transform="matrix(1 0 0 1.08 43.2 679.44)" font-size="6.25" text-anchor="end">CREBBP</text>
<text transform="matrix(1 0 0 1.08 574.4 679.44)" font-size="6.25">6%</text>
<text transform="matrix(1 0 0 1.08 43.2 689.62)" font-size="6.25" text-anchor="end">CUX1</text>
<text transform="matrix(1 0 0 1.08 574.4 689.62)" font-size="6.25">6%</text>
<text transform="matrix(1 0 0 1.08 43.2 699.8)" font-size="6.25" text-anchor="end">NF1</text>
<text transform="matrix(1 0 0 1.08 574.4 699.8)" font-size="6.25">6%</text>
<text transform="matrix(1 0 0 1.08 43.2 709.98)" font-size="6.25" text-anchor="end">SMARCA4</text>
<text transform="matrix(1 0 0 1.08 574.4 709.98)" font-size="6.25">6%</text>
<text transform="matrix(1 0 0 1.08 43.2 720.16)" font-size="6.25" text-anchor="end">PIKFYVE</text>
<text transform="matrix(1 0 0 1.08 574.4 720.16)" font-size="6.25">5%</text>
<text transform="matrix(1 0 0 1.08 43.2 730.34)" font-size="6.25" text-anchor="end">HDAC6</text>
<text transform="matrix(1 0 0 1.08 574.4 730.34)" font-size="6.25">5%</text>
<text transform="matrix(1 0 0 1.08 43.2 740.52)" font-size="6.25" text-anchor="end">SPEN</text>
<text transform="matrix(1 0 0 1.08 574.4 740.52)" font-size="6.25">5%</text>
<text transform="matrix(1 0 0 1.08 43.2 750.7)" font-size="6.25" text-anchor="end">ARID1A</text>
<text transform="matrix(1 0 0 1.08 574.4 750.7)" font-size="6.25">5%</text>
<text transform="matrix(1 0 0 1.08 43.2 760.88)" font-size="6.25" text-anchor="end">KMT2D</text>
<text transform="matrix(1 0 0 1.08 574.4 760.88)" font-size="6.25">5%</text>
<text transform="matrix(1 0 0 1.08 43.2 771.06)" font-size="6.25" text-anchor="end">JAK1</text>
<text transform="matrix(1 0 0 1.08 574.4 771.06)" font-size="6.25">5%</text>
<text transform="matrix(1 0 0 1.08 43.2 781.24)" font-size="6.25" text-anchor="end">PKD1</text>
<text transform="matrix(1 0 0 1.08 574.4 781.24)" font-size="6.25">5%</text>
<text transform="matrix(1 0 0 1.08 43.2 791.42)" font-size="6.25" text-anchor="end">NOTCH2</text>
<text transform="matrix(1 0 0 1.08 574.4 791.42)" font-size="6.25">5%</text>
<text transform="matrix(1 0 0 1.08 43.2 801.6)" font-size="6.25" text-anchor="end">KCNJ5</text>
<text transform="matrix(1 0 0 1.08 574.4 801.6)" font-size="6.25">4%</text>
<text transform="matrix(1 0 0 1.08 43.2 811.78)" font-size="6.25" text-anchor="end">ABL1</text>
<text transform="matrix(1 0 0 1.08 574.4 811.78)" font-size="6.25">4%</text>
<text transform="matrix(1 0 0 1.08 43.2 821.96)" font-size="6.25" text-anchor="end">NOTCH3</text>
<text transform="matrix(1 0 0 1.08 574.4 821.96)" font-size="6.25">4%</text>
<text transform="matrix(1 0 0 1.08 43.2 832.14)" font-size="6.25" text-anchor="end">KDM6A</text>
<text transform="matrix(1 0 0 1.08 574.4 832.14)" font-size="6.25">3%</text>
<text transform="matrix(1 0 0 1.08 43.2 842.32)" font-size="6.25" text-anchor="end">MED23</text>
<text transform="matrix(1 0 0 1.08 574.4 842.32)" font-size="6.25">3%</text>
<text transform="matrix(1 0 0 1.08 43.2 852.5)" font-size="6.25" text-anchor="end">PRKCQ</text>
<text transform="matrix(1 0 0 1.08 574.4 852.5)" font-size="6.25">3%</text>
<text transform="matrix(1 0 0 1.08 43.2 862.68)" font-size="6.25" text-anchor="end">MECP2</text>
<text transform="matrix(1 0 0 1.08 574.4 862.68)" font-size="6.25">3%</text>
<text transform="matrix(1 0 0 1.08 43.2 872.86)" font-size="6.25" text-anchor="end">MSH6</text>
<text transform="matrix(1 0 0 1.08 574.4 872.86)" font-size="6.25">3%</text>
<text transform="matrix(1 0 0 1.08 43.2 883.04)" font-size="6.25" text-anchor="end">NOS3</text>
<text transform="matrix(1 0 0 1.08 574.4 883.04)" font-size="6.25">3%</text>
<text transform="matrix(1 0 0 1.08 43.2 893.22)" font-size="6.25" text-anchor="end">PHKA2</text>
<text transform="matrix(1 0 0 1.08 574.4 893.22)" font-size="6.25">3%</text>
<text transform="matrix(1 0 0 1.08 43.2 907.3)" font-size="6.25" text-anchor="end">MYC</text>
<text transform="matrix(1 0 0 1.08 574.4 907.3)" font-size="6.25">9%</text>
<text transform="matrix(1 0 0 1.08 43.2 917.5)" font-size="6.25" text-anchor="end">AKT3</text>
<text transform="matrix(1 0 0 1.08 574.4 917.5)" font-size="6.25">6%</text>
<text transform="matrix(1 0 0 1.08 43.2 927.7)" font-size="6.25" text-anchor="end">FGFR1</text>
<text transform="matrix(1 0 0 1.08 574.4 927.7)" font-size="6.25">5%</text>
<text transform="matrix(1 0 0 1.08 43.2 937.9)" font-size="6.25" text-anchor="end">RB1</text>
<text transform="matrix(1 0 0 1.08 574.4 937.9)" font-size="6.25">4%</text>
<text transform="matrix(1 0 0 1.08 43.2 948.1)" font-size="6.25" text-anchor="end">JAK2</text>
<text transform="matrix(1 0 0 1.08 574.4 948.1)" font-size="6.25">3%</text>
<text transform="matrix(1 0 0 1.08 43.2 958.3)" font-size="6.25" text-anchor="end">CCND1</text>
<text transform="matrix(1 0 0 1.08 574.4 958.3)" font-size="6.25">3%</text>
<text transform="matrix(1 0 0 1.08 43.2 968.5)" font-size="6.25" text-anchor="end">PTEN</text>
<text transform="matrix(1 0 0 1.08 574.4 968.5)" font-size="6.25">2%</text>
<text transform="matrix(1 0 0 1.08 43.2 978.6)" font-size="6.25" text-anchor="end">HER2.IHC</text>
<text transform="matrix(1 0 0 1.08 43.2 986.4)" font-size="6.25" text-anchor="end">HR<tspan dy="-0.45">_</tspan><tspan dy="0.45">status</tspan></text>
<g stroke="#777" stroke-width="0.6" fill="none">
<line x1="45.4" y1="554.1" x2="45.4" y2="588.2"/>
<line x1="43.4" y1="588.2" x2="45.4" y2="588.2"/>
<line x1="43.4" y1="579.68" x2="45.4" y2="579.68"/>
<line x1="43.4" y1="571.15" x2="45.4" y2="571.15"/>
<line x1="43.4" y1="562.62" x2="45.4" y2="562.62"/>
<line x1="43.4" y1="554.1" x2="45.4" y2="554.1"/>
<line x1="590.3" y1="589.1" x2="625.7" y2="589.1"/>
<line x1="590.3" y1="589.1" x2="590.3" y2="588.0"/>
<line x1="607.8" y1="589.1" x2="607.8" y2="588.0"/>
<line x1="625.3" y1="589.1" x2="625.3" y2="588.0"/>
<line x1="587.8" y1="899.1" x2="625.7" y2="899.1"/>
<line x1="587.8" y1="899.1" x2="587.8" y2="898.0"/>
<line x1="604.45" y1="899.1" x2="604.45" y2="898.0"/>
<line x1="621.1" y1="899.1" x2="621.1" y2="898.0"/>
</g>
<text x="41.6" y="590" font-size="5.1" text-anchor="end">0</text>
<text x="41.6" y="581.48" font-size="5.1" text-anchor="end">2</text>
<text x="41.6" y="572.95" font-size="5.1" text-anchor="end">4</text>
<text x="41.6" y="564.42" font-size="5.1" text-anchor="end">6</text>
<text x="41.6" y="555.9" font-size="5.1" text-anchor="end">8</text>
<text x="590.3" y="586.8" font-size="4.6" text-anchor="middle">0</text>
<text x="607.8" y="586.8" font-size="4.6" text-anchor="middle">50</text>
<text x="625.3" y="586.8" font-size="4.6" text-anchor="middle">100</text>
<text x="587.8" y="895.8" font-size="4.6" text-anchor="middle">0</text>
<text x="604.45" y="895.8" font-size="4.6" text-anchor="middle">5</text>
<text x="621.1" y="895.8" font-size="4.6" text-anchor="middle">10</text>
<polygon points="600.2,649.7 600.86,651.29 602.58,651.43 601.27,652.55 601.67,654.22 600.2,653.33 598.73,654.22 599.13,652.55 597.82,651.43 599.54,651.29" fill="#111"/>
<polygon points="600.2,667.5 600.86,669.09 602.58,669.23 601.27,670.35 601.67,672.02 600.2,671.12 598.73,672.02 599.13,670.35 597.82,669.23 599.54,669.09" fill="#111"/>
<polygon points="601,709.1 601.66,710.69 603.38,710.83 602.07,711.95 602.47,713.62 601,712.73 599.53,713.62 599.93,711.95 598.62,710.83 600.34,710.69" fill="#111"/>
<text transform="matrix(1 0 0 1.08 630.1 684.5)" font-size="6.25" font-weight="bold">Alterations</text>
<rect x="630.1" y="688.1" width="6.6" height="6.1" fill="#2d3982"/>
<text transform="matrix(1 0 0 1.08 638.7 693.9)" font-size="6.25">Missense</text>
<rect x="630.1" y="695.2" width="6.6" height="6.1" fill="#5aa9d1"/>
<text transform="matrix(1 0 0 1.08 638.7 701)" font-size="6.25">Nonsense</text>
<rect x="630.1" y="702.3" width="6.6" height="6.1" fill="#4a7ca5"/>
<text transform="matrix(1 0 0 1.08 638.7 708.1)" font-size="6.25">Frame<tspan dy="-0.45">_</tspan><tspan dy="0.45">shift</tspan><tspan dy="-0.45">_</tspan><tspan dy="0.45">del</tspan></text>
<rect x="630.1" y="709.4" width="6.6" height="6.1" fill="#f3b8cb"/>
<text transform="matrix(1 0 0 1.08 638.7 715.2)" font-size="6.25">Frame<tspan dy="-0.45">_</tspan><tspan dy="0.45">shift</tspan><tspan dy="-0.45">_</tspan><tspan dy="0.45">ins</tspan></text>
<rect x="630.1" y="716.5" width="6.6" height="6.1" fill="#a9d0e6"/>
<text transform="matrix(1 0 0 1.08 638.7 722.3)" font-size="6.25">Splice<tspan dy="-0.45">_</tspan><tspan dy="0.45">site</tspan></text>
<rect x="630.1" y="723.6" width="6.6" height="6.1" fill="#93bf69"/>
<text transform="matrix(1 0 0 1.08 638.7 729.4)" font-size="6.25">In<tspan dy="-0.45">_</tspan><tspan dy="0.45">frame</tspan><tspan dy="-0.45">_</tspan><tspan dy="0.45">ins</tspan></text>
<rect x="630.1" y="730.7" width="6.6" height="6.1" fill="#c9aee0"/>
<text transform="matrix(1 0 0 1.08 638.7 736.5)" font-size="6.25">In<tspan dy="-0.45">_</tspan><tspan dy="0.45">frame</tspan><tspan dy="-0.45">_</tspan><tspan dy="0.45">del</tspan></text>
<rect x="630.1" y="737.8" width="6.6" height="6.1" fill="#eeee6a"/>
<text transform="matrix(1 0 0 1.08 638.7 743.6)" font-size="6.25">Multi<tspan dy="-0.45">_</tspan><tspan dy="0.45">hit</tspan></text>
<text transform="matrix(1 0 0 1.08 630.1 757.1)" font-size="6.25" font-weight="bold">Alterations</text>
<rect x="630.1" y="760.2" width="6.6" height="6.1" fill="#e5525a"/>
<text transform="matrix(1 0 0 1.08 638.7 766)" font-size="6.25">Cn.amp</text>
<rect x="630.1" y="767.3" width="6.6" height="6.1" fill="#70c2de"/>
<text transform="matrix(1 0 0 1.08 638.7 773.1)" font-size="6.25">Cn.loss</text>
<text transform="matrix(1 0 0 1.08 630.1 786.2)" font-size="6.25" font-weight="bold">HER2.IHC</text>
<rect x="630.1" y="789.5" width="6.6" height="6.1" fill="#e64f5c"/>
<text transform="matrix(1 0 0 1.08 638.7 795.3)" font-size="6.25">low</text>
<rect x="630.1" y="796.6" width="6.6" height="6.1" fill="#e8c256"/>
<text transform="matrix(1 0 0 1.08 638.7 802.4)" font-size="6.25">null</text>
<rect x="630.1" y="803.7" width="6.6" height="6.1" fill="#e9955a"/>
<text transform="matrix(1 0 0 1.08 638.7 809.5)" font-size="6.25">ultralow</text>
<text transform="matrix(1 0 0 1.08 630.1 822.8)" font-size="6.25" font-weight="bold">HR_status</text>
<rect x="630.1" y="825.9" width="6.6" height="6.1" fill="#4d9dc8"/>
<text transform="matrix(1 0 0 1.08 638.7 831.7)" font-size="6.25">HR negative</text>
</svg></body></html>
